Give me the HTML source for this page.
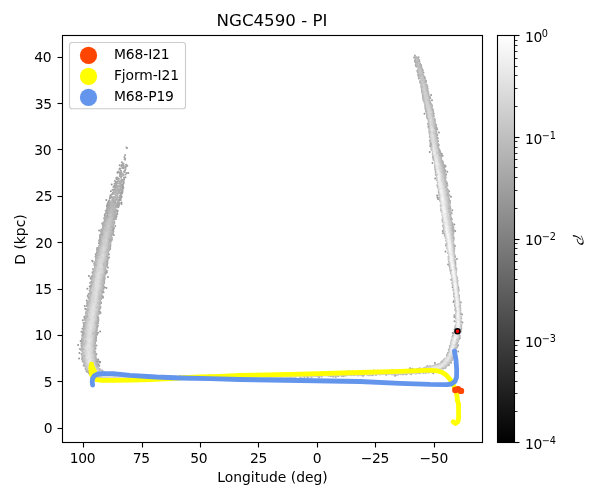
<!DOCTYPE html>
<html><head><meta charset="utf-8"><title>NGC4590 - PI</title>
<style>html,body{margin:0;padding:0;background:#fff;}svg{display:block;}text{font-family:"DejaVu Sans","Liberation Sans",sans-serif;fill:#000;}</style></head><body>
<svg width="600" height="500" viewBox="0 0 600 500">
<defs><linearGradient id="cb" x1="0" y1="1" x2="0" y2="0"><stop offset="0" stop-color="#000"/><stop offset="1" stop-color="#fff"/></linearGradient>
<clipPath id="ax"><rect x="62.5" y="35.5" width="420.0" height="407.0"/></clipPath></defs>
<rect width="600" height="500" fill="#fff"/>
<g clip-path="url(#ax)">
<g><path d="M116.9 192.0 L116.4 197.7 L114.6 197.2 L116.9 192.0Z" fill="#9c9c9c"/><path d="M116.4 197.1 L115.9 202.7 L112.5 201.8 L114.9 196.7Z" fill="#9d9d9d"/><path d="M115.9 202.1 L115.4 207.8 L110.3 206.4 L112.7 201.2Z" fill="#9e9e9e"/><path d="M115.4 207.2 L114.9 212.8 L108.1 211.0 L110.5 205.8Z" fill="#9f9f9f"/><path d="M115.0 212.2 L114.5 217.8 L106.1 215.7 L108.3 210.4Z" fill="#a0a0a0"/><path d="M114.5 217.2 L114.1 222.7 L104.2 220.6 L106.3 215.2Z" fill="#a2a2a2"/><path d="M114.2 222.1 L113.2 227.5 L103.1 225.6 L104.4 220.0Z" fill="#a2a2a2"/><path d="M113.3 226.9 L112.3 232.4 L102.1 230.5 L103.3 225.0Z" fill="#a2a2a2"/><path d="M112.4 231.8 L111.4 237.4 L101.1 235.3 L102.3 229.9Z" fill="#a2a2a2"/><path d="M111.5 236.8 L110.4 242.3 L100.1 240.2 L101.3 234.7Z" fill="#a2a2a2"/><path d="M110.6 241.7 L109.5 247.2 L99.1 245.1 L100.3 239.6Z" fill="#a2a2a2"/><path d="M109.6 246.6 L108.5 252.1 L98.1 250.0 L99.2 244.5Z" fill="#a2a2a2"/><path d="M108.6 251.5 L107.6 257.0 L96.9 254.8 L98.2 249.4Z" fill="#a2a2a2"/><path d="M107.7 256.5 L106.7 261.9 L95.8 259.7 L97.1 254.3Z" fill="#a2a2a2"/><path d="M106.8 261.3 L105.8 266.8 L94.8 264.7 L96.0 259.2Z" fill="#a2a2a2"/><path d="M105.9 266.2 L105.0 271.7 L93.8 269.7 L94.9 264.1Z" fill="#a2a2a2"/><path d="M105.1 271.1 L104.2 276.5 L92.9 274.6 L93.9 269.1Z" fill="#a2a2a2"/><path d="M104.3 275.9 L103.5 281.4 L92.0 279.6 L93.0 274.0Z" fill="#a2a2a2"/><path d="M103.6 280.8 L102.7 286.3 L91.2 284.6 L92.1 279.0Z" fill="#a2a2a2"/><path d="M102.8 285.8 L102.0 291.3 L90.4 289.5 L91.3 284.0Z" fill="#a2a2a2"/><path d="M102.1 290.7 L101.3 296.3 L89.6 294.4 L90.5 288.9Z" fill="#a2a2a2"/><path d="M101.4 295.7 L100.5 301.2 L88.8 299.3 L89.7 293.8Z" fill="#a2a2a2"/><path d="M100.6 300.6 L99.7 306.2 L88.0 304.3 L88.9 298.7Z" fill="#a2a2a2"/><path d="M99.8 305.6 L98.9 311.1 L87.2 309.2 L88.1 303.7Z" fill="#a2a2a2"/><path d="M99.0 310.5 L98.1 316.0 L86.4 314.2 L87.3 308.6Z" fill="#a2a2a2"/><path d="M98.2 315.4 L97.4 320.9 L85.6 319.2 L86.5 313.6Z" fill="#a2a2a2"/><path d="M97.4 320.3 L96.7 325.8 L84.9 324.2 L85.7 318.6Z" fill="#a2a2a2"/><path d="M96.7 325.2 L96.0 330.7 L84.2 329.2 L85.0 323.6Z" fill="#a2a2a2"/><path d="M96.1 330.1 L95.4 335.6 L83.6 334.2 L84.3 328.6Z" fill="#a2a2a2"/><path d="M95.5 335.0 L95.0 340.5 L83.0 339.3 L83.7 333.6Z" fill="#a2a2a2"/><path d="M95.0 339.9 L94.7 345.2 L82.5 344.6 L83.0 338.7Z" fill="#a2a2a2"/><path d="M94.7 344.6 L94.7 349.7 L82.3 350.0 L82.5 343.9Z" fill="#a2a2a2"/><path d="M94.7 349.2 L95.0 354.2 L82.6 355.5 L82.3 349.4Z" fill="#a2a2a2"/><path d="M95.0 353.7 L95.6 358.8 L83.3 360.8 L82.6 354.8Z" fill="#a2a2a2"/><path d="M95.5 358.3 L96.2 362.9 L84.9 366.6 L83.2 360.2Z" fill="#a2a2a2"/><path d="M96.1 362.5 L97.1 365.7 L88.8 372.5 L84.6 365.9Z" fill="#a2a2a2"/><path d="M96.9 365.3 L99.3 368.8 L94.0 376.2 L88.2 371.9Z" fill="#a6a6a6"/><path d="M99.0 368.4 L102.5 371.6 L99.6 378.3 L93.4 375.9Z" fill="#aaaaaa"/><path d="M102.0 371.3 L106.4 373.6 L105.2 379.2 L98.9 378.1Z" fill="#afafaf"/><path d="M105.9 373.4 L111.0 375.0 L110.5 379.3 L104.5 379.1Z" fill="#b2b2b2"/><path d="M110.4 374.9 L115.9 375.7 L115.6 379.5 L109.9 379.3Z" fill="#b4b4b4"/><path d="M115.3 375.6 L120.8 376.0 L120.7 379.6 L115.0 379.5Z" fill="#b4b4b4"/><path d="M120.2 376.0 L125.8 376.2 L125.7 379.7 L120.1 379.6Z" fill="#b4b4b4"/><path d="M125.2 376.1 L130.8 376.3 L130.8 379.6 L125.1 379.7Z" fill="#b4b4b4"/><path d="M130.2 376.2 L135.7 376.3 L135.8 379.5 L130.2 379.6Z" fill="#b4b4b4"/><path d="M135.1 376.3 L140.7 376.3 L140.8 379.5 L135.2 379.5Z" fill="#b4b4b4"/><path d="M140.1 376.3 L145.7 376.3 L145.7 379.4 L140.2 379.5Z" fill="#b4b4b4"/><path d="M145.1 376.3 L150.7 376.3 L150.7 379.4 L145.1 379.4Z" fill="#b4b4b4"/><path d="M150.1 376.3 L155.7 376.3 L155.7 379.4 L150.1 379.4Z" fill="#b4b4b4"/><path d="M155.1 376.3 L160.7 376.3 L160.7 379.3 L155.1 379.4Z" fill="#b4b4b4"/><path d="M160.1 376.3 L165.7 376.4 L165.8 379.3 L160.1 379.3Z" fill="#b4b4b4"/><path d="M165.1 376.4 L170.7 376.4 L170.8 379.3 L165.2 379.3Z" fill="#b4b4b4"/><path d="M170.1 376.4 L175.7 376.4 L175.8 379.2 L170.2 379.3Z" fill="#b4b4b4"/><path d="M175.1 376.4 L180.7 376.3 L180.8 379.2 L175.2 379.3Z" fill="#b4b4b4"/><path d="M180.1 376.3 L185.7 376.3 L185.8 379.2 L180.2 379.2Z" fill="#b4b4b4"/><path d="M185.1 376.3 L190.7 376.2 L190.8 379.1 L185.2 379.2Z" fill="#b4b4b4"/><path d="M190.1 376.2 L195.7 376.2 L195.8 379.1 L190.2 379.1Z" fill="#b4b4b4"/><path d="M195.1 376.2 L200.7 376.1 L200.8 379.0 L195.2 379.1Z" fill="#b4b4b4"/><path d="M200.1 376.1 L205.7 376.1 L205.8 378.9 L200.2 379.0Z" fill="#b4b4b4"/><path d="M205.1 376.1 L210.7 376.0 L210.8 378.9 L205.2 378.9Z" fill="#b4b4b4"/><path d="M210.1 376.0 L215.7 375.9 L215.8 378.8 L210.2 378.9Z" fill="#b4b4b4"/><path d="M215.1 375.9 L220.7 375.8 L220.8 378.7 L215.2 378.8Z" fill="#b4b4b4"/><path d="M220.1 375.8 L225.7 375.7 L225.8 378.6 L220.2 378.7Z" fill="#b4b4b4"/><path d="M225.1 375.7 L230.7 375.6 L230.8 378.5 L225.2 378.6Z" fill="#b4b4b4"/><path d="M230.1 375.6 L235.7 375.5 L235.8 378.4 L230.2 378.5Z" fill="#b4b4b4"/><path d="M235.1 375.5 L240.7 375.4 L240.8 378.3 L235.2 378.4Z" fill="#b4b4b4"/><path d="M240.1 375.5 L245.7 375.3 L245.8 378.2 L240.2 378.3Z" fill="#b4b4b4"/><path d="M245.1 375.3 L250.7 375.2 L250.8 378.2 L245.2 378.3Z" fill="#b4b4b4"/><path d="M250.1 375.2 L255.7 375.1 L255.8 378.1 L250.2 378.2Z" fill="#b4b4b4"/><path d="M255.1 375.1 L260.7 375.0 L260.8 378.0 L255.2 378.1Z" fill="#b4b4b4"/><path d="M260.1 375.0 L265.7 374.9 L265.8 377.9 L260.2 378.0Z" fill="#b4b4b4"/><path d="M265.1 374.9 L270.7 374.7 L270.8 377.8 L265.2 377.9Z" fill="#b4b4b4"/><path d="M270.1 374.7 L275.7 374.6 L275.8 377.7 L270.2 377.8Z" fill="#b4b4b4"/><path d="M275.1 374.6 L280.7 374.5 L280.8 377.5 L275.2 377.7Z" fill="#b4b4b4"/><path d="M280.1 374.5 L285.7 374.3 L285.8 377.4 L280.2 377.6Z" fill="#b4b4b4"/><path d="M285.1 374.3 L290.7 374.1 L290.8 377.3 L285.2 377.4Z" fill="#b4b4b4"/><path d="M290.1 374.2 L295.7 374.0 L295.8 377.1 L290.2 377.3Z" fill="#b4b4b4"/><path d="M295.1 374.0 L300.7 373.8 L300.8 377.0 L295.2 377.1Z" fill="#b4b4b4"/><path d="M300.1 373.8 L305.7 373.6 L305.8 376.8 L300.2 377.0Z" fill="#b4b4b4"/><path d="M305.1 373.6 L310.7 373.4 L310.8 376.6 L305.2 376.8Z" fill="#b4b4b4"/><path d="M310.1 373.4 L315.7 373.1 L315.8 376.5 L310.2 376.7Z" fill="#b4b4b4"/><path d="M315.1 373.2 L320.6 372.9 L320.8 376.3 L315.2 376.5Z" fill="#b4b4b4"/><path d="M320.0 373.0 L325.6 372.7 L325.8 376.1 L320.2 376.3Z" fill="#b4b4b4"/><path d="M325.0 372.7 L330.6 372.5 L330.8 375.9 L325.2 376.1Z" fill="#b4b4b4"/><path d="M330.0 372.5 L335.6 372.3 L335.8 375.8 L330.2 376.0Z" fill="#b4b4b4"/><path d="M335.0 372.3 L340.6 372.1 L340.8 375.6 L335.2 375.8Z" fill="#b4b4b4"/><path d="M340.0 372.1 L345.6 372.0 L345.7 375.5 L340.2 375.6Z" fill="#b4b4b4"/><path d="M345.0 372.0 L350.7 371.8 L350.7 375.4 L345.1 375.5Z" fill="#b4b4b4"/><path d="M350.1 371.8 L355.7 371.7 L355.7 375.3 L350.1 375.4Z" fill="#b4b4b4"/><path d="M355.1 371.7 L360.7 371.5 L360.7 375.2 L355.1 375.3Z" fill="#b4b4b4"/><path d="M360.1 371.5 L365.7 371.4 L365.7 375.1 L360.1 375.2Z" fill="#b4b4b4"/><path d="M365.1 371.4 L370.6 371.3 L370.7 375.0 L365.1 375.1Z" fill="#b4b4b4"/><path d="M370.1 371.3 L375.6 371.1 L375.7 374.9 L370.1 375.0Z" fill="#b4b4b4"/><path d="M375.0 371.1 L380.6 371.0 L380.7 374.8 L375.1 374.9Z" fill="#b4b4b4"/><path d="M380.0 371.0 L385.6 370.8 L385.7 374.7 L380.1 374.8Z" fill="#b3b3b3"/><path d="M385.0 370.8 L390.6 370.6 L390.7 374.6 L385.1 374.7Z" fill="#b1b1b1"/><path d="M390.0 370.7 L395.6 370.5 L395.7 374.4 L390.1 374.6Z" fill="#b0b0b0"/><path d="M395.0 370.5 L400.6 370.2 L400.8 374.2 L395.1 374.4Z" fill="#aeaeae"/><path d="M400.0 370.3 L405.6 370.0 L405.8 374.0 L400.1 374.3Z" fill="#adadad"/><path d="M405.0 370.0 L410.6 369.7 L410.8 373.8 L405.2 374.1Z" fill="#ababab"/><path d="M410.0 369.7 L415.5 369.3 L415.8 373.6 L410.2 373.8Z" fill="#ababab"/><path d="M414.9 369.3 L420.4 368.7 L420.9 373.2 L415.2 373.6Z" fill="#ababab"/><path d="M419.8 368.8 L425.1 367.8 L426.0 372.6 L420.3 373.3Z" fill="#ababab"/><path d="M424.6 368.0 L429.9 366.6 L431.1 371.8 L425.4 372.7Z" fill="#ababab"/><path d="M429.3 366.8 L434.6 365.3 L436.1 370.7 L430.5 371.9Z" fill="#ababab"/><path d="M434.1 365.4 L438.9 363.6 L441.3 369.2 L435.5 370.9Z" fill="#ababab"/><path d="M438.4 363.9 L442.6 361.4 L446.3 366.5 L440.6 369.4Z" fill="#ababab"/><path d="M442.2 361.7 L445.5 358.5 L450.6 362.5 L445.7 366.9Z" fill="#ababab"/><path d="M445.2 358.9 L447.7 354.8 L453.6 357.6 L450.1 363.0Z" fill="#ababab"/><path d="M447.5 355.3 L449.3 350.6 L455.6 352.4 L453.3 358.2Z" fill="#ababab"/><path d="M449.1 351.2 L450.4 346.0 L456.6 347.2 L455.4 353.0Z" fill="#ababab"/><path d="M450.3 346.6 L451.5 341.0 L457.5 342.5 L456.5 347.8Z" fill="#a9a9a9"/><path d="M451.4 341.6 L453.2 336.0 L458.8 337.9 L457.4 343.0Z" fill="#a7a7a7"/><path d="M453.0 336.6 L454.7 331.5 L460.2 332.8 L458.6 338.5Z" fill="#a7a7a7"/><path d="M454.6 332.1 L455.7 327.0 L461.0 327.5 L460.1 333.5Z" fill="#a8a8a8"/><path d="M455.6 327.5 L456.0 322.3 L461.1 322.2 L460.9 328.2Z" fill="#aaaaaa"/><path d="M456.0 322.8 L456.0 317.4 L460.8 317.1 L461.1 322.9Z" fill="#aaaaaa"/><path d="M456.0 318.0 L455.8 312.4 L460.4 312.1 L460.8 317.7Z" fill="#aaaaaa"/><path d="M455.8 313.0 L455.5 307.4 L460.0 307.1 L460.4 312.7Z" fill="#aaaaaa"/><path d="M455.6 308.0 L455.2 302.5 L459.5 302.1 L460.0 307.7Z" fill="#aaaaaa"/><path d="M455.2 303.1 L454.6 297.6 L459.0 297.1 L459.6 302.7Z" fill="#aaaaaa"/><path d="M454.7 298.2 L454.1 292.6 L458.4 292.1 L459.1 297.7Z" fill="#aaaaaa"/><path d="M454.1 293.2 L453.4 287.7 L457.9 287.1 L458.5 292.7Z" fill="#aaaaaa"/><path d="M453.5 288.3 L452.7 282.7 L457.3 282.1 L457.9 287.7Z" fill="#aaaaaa"/><path d="M452.8 283.3 L452.0 277.8 L456.8 277.1 L457.4 282.7Z" fill="#aaaaaa"/><path d="M452.0 278.4 L451.1 272.8 L456.3 272.2 L456.8 277.7Z" fill="#aaaaaa"/><path d="M451.2 273.4 L450.3 267.9 L455.8 267.2 L456.4 272.8Z" fill="#aaaaaa"/><path d="M450.4 268.5 L449.5 263.0 L455.3 262.2 L455.9 267.8Z" fill="#aaaaaa"/><path d="M449.6 263.6 L448.8 258.0 L454.8 257.3 L455.4 262.8Z" fill="#aaaaaa"/><path d="M448.9 258.6 L448.0 253.0 L454.3 252.3 L454.9 257.8Z" fill="#aaaaaa"/><path d="M448.1 253.6 L447.3 248.1 L453.9 247.3 L454.4 252.9Z" fill="#aaaaaa"/><path d="M447.4 248.7 L446.7 243.1 L453.5 242.4 L453.9 247.9Z" fill="#aaaaaa"/><path d="M446.8 243.7 L445.9 238.1 L453.3 237.4 L453.5 243.0Z" fill="#a9a9a9"/><path d="M446.0 238.7 L445.1 233.2 L453.1 232.4 L453.3 238.0Z" fill="#a8a8a8"/><path d="M445.2 233.8 L444.3 228.3 L452.8 227.3 L453.2 233.0Z" fill="#a7a7a7"/><path d="M444.4 228.9 L443.6 223.4 L452.2 222.3 L452.9 227.9Z" fill="#a7a7a7"/><path d="M443.7 224.0 L442.8 218.5 L451.6 217.3 L452.2 222.9Z" fill="#a7a7a7"/><path d="M442.9 219.1 L442.2 213.5 L450.9 212.4 L451.6 217.9Z" fill="#a7a7a7"/><path d="M442.3 214.1 L441.6 208.5 L450.3 207.4 L451.0 213.0Z" fill="#a7a7a7"/><path d="M441.6 209.1 L441.0 203.6 L449.7 202.5 L450.4 208.0Z" fill="#a7a7a7"/><path d="M441.0 204.2 L440.3 198.7 L449.0 197.4 L449.8 203.1Z" fill="#a7a7a7"/><path d="M440.4 199.3 L439.5 193.9 L448.2 192.4 L449.1 198.0Z" fill="#a7a7a7"/><path d="M439.6 194.5 L438.7 189.0 L447.1 187.4 L448.3 193.0Z" fill="#a7a7a7"/><path d="M438.8 189.6 L437.9 184.0 L446.2 182.6 L447.3 188.0Z" fill="#a7a7a7"/><path d="M438.0 184.6 L437.2 178.9 L445.3 177.8 L446.3 183.2Z" fill="#a7a7a7"/><path d="M437.2 179.5 L436.5 174.0 L444.6 172.8 L445.4 178.4Z" fill="#a6a6a6"/><path d="M436.6 174.6 L435.8 169.2 L443.6 167.7 L444.7 173.4Z" fill="#a6a6a6"/><path d="M435.9 169.8 L434.9 164.5 L442.4 162.7 L443.8 168.3Z" fill="#a6a6a6"/><path d="M435.0 165.1 L433.8 159.6 L441.1 157.8 L442.6 163.3Z" fill="#a5a5a5"/><path d="M434.0 160.2 L432.8 154.7 L439.8 153.1 L441.2 158.4Z" fill="#a5a5a5"/><path d="M432.9 155.3 L431.9 149.6 L438.7 148.3 L440.0 153.6Z" fill="#a5a5a5"/><path d="M432.0 150.2 L431.1 144.5 L437.9 143.5 L438.9 148.9Z" fill="#a4a4a4"/><path d="M431.2 145.1 L430.5 139.5 L437.3 138.6 L438.0 144.1Z" fill="#a4a4a4"/><path d="M430.6 140.1 L429.9 134.5 L436.6 133.7 L437.3 139.2Z" fill="#a4a4a4"/><path d="M430.0 135.1 L429.4 129.6 L436.0 128.7 L436.7 134.3Z" fill="#a4a4a4"/><path d="M429.4 130.2 L428.7 124.7 L435.2 123.7 L436.1 129.3Z" fill="#a4a4a4"/><path d="M428.8 125.3 L428.0 119.8 L434.4 118.7 L435.3 124.3Z" fill="#a4a4a4"/><path d="M428.1 120.4 L427.1 115.0 L433.3 113.7 L434.5 119.3Z" fill="#a4a4a4"/><path d="M427.2 115.6 L426.1 110.2 L432.2 108.8 L433.5 114.3Z" fill="#a4a4a4"/><path d="M426.2 110.7 L425.0 105.3 L431.1 103.9 L432.4 109.4Z" fill="#a4a4a4"/><path d="M425.1 105.9 L424.0 100.4 L429.9 99.0 L431.2 104.5Z" fill="#a4a4a4"/><path d="M424.1 101.0 L423.2 95.4 L428.5 94.2 L430.0 99.6Z" fill="#a4a4a4"/><path d="M423.3 96.0 L422.7 90.4 L426.9 89.5 L428.7 94.8Z" fill="#a4a4a4"/><path d="M422.8 91.0 L422.1 85.4 L425.3 84.7 L427.1 90.0Z" fill="#a4a4a4"/><path d="M422.2 86.0 L421.4 80.5 L423.6 79.9 L425.5 85.2Z" fill="#a4a4a4"/><path d="M421.5 81.1 L420.6 75.5 L421.9 75.2 L423.9 80.5Z" fill="#a4a4a4"/><path d="M420.7 76.1 L419.7 70.6 L420.1 70.5 L422.1 75.7Z" fill="#a4a4a4"/><path d="M419.8 71.2 L418.6 65.7 L418.6 65.7 L420.3 71.1Z" fill="#a4a4a4"/><path d="M115.4 197.8 L114.5 203.4 L113.3 203.1 L115.4 197.8Z" fill="#a6a6a6"/><path d="M114.6 202.8 L113.7 208.4 L111.4 207.7 L113.5 202.5Z" fill="#a8a8a8"/><path d="M113.8 207.8 L112.9 213.3 L109.5 212.4 L111.6 207.2Z" fill="#aaaaaa"/><path d="M113.0 212.7 L112.2 218.2 L107.8 217.2 L109.8 211.9Z" fill="#acacac"/><path d="M112.3 217.7 L111.7 223.2 L106.2 222.0 L108.0 216.6Z" fill="#aeaeae"/><path d="M111.8 222.6 L111.3 228.1 L104.7 226.9 L106.4 221.4Z" fill="#b0b0b0"/><path d="M111.4 227.6 L110.4 233.1 L103.7 231.8 L104.8 226.3Z" fill="#b2b2b2"/><path d="M110.5 232.5 L109.4 238.0 L102.7 236.7 L103.8 231.2Z" fill="#b3b3b3"/><path d="M109.6 237.4 L108.5 242.9 L101.7 241.5 L102.8 236.1Z" fill="#b4b4b4"/><path d="M108.6 242.3 L107.5 247.8 L100.7 246.4 L101.8 241.0Z" fill="#b5b5b5"/><path d="M107.6 247.2 L106.5 252.7 L99.6 251.3 L100.8 245.8Z" fill="#b6b6b6"/><path d="M106.6 252.2 L105.6 257.6 L98.6 256.2 L99.8 250.7Z" fill="#b7b7b7"/><path d="M105.7 257.1 L104.6 262.5 L97.5 261.1 L98.7 255.6Z" fill="#b8b8b8"/><path d="M104.8 262.0 L103.8 267.4 L96.5 266.0 L97.6 260.5Z" fill="#b9b9b9"/><path d="M103.9 266.8 L102.9 272.3 L95.5 271.0 L96.6 265.4Z" fill="#bababa"/><path d="M103.0 271.7 L102.1 277.2 L94.6 276.0 L95.6 270.4Z" fill="#bababa"/><path d="M102.2 276.6 L101.4 282.1 L93.8 280.9 L94.7 275.4Z" fill="#bababa"/><path d="M101.4 281.5 L100.6 287.0 L93.0 285.9 L93.9 280.3Z" fill="#bbbbbb"/><path d="M100.7 286.4 L99.9 292.0 L92.2 290.8 L93.1 285.3Z" fill="#bbbbbb"/><path d="M100.0 291.4 L99.1 297.0 L91.4 295.7 L92.3 290.2Z" fill="#bbbbbb"/><path d="M99.2 296.4 L98.3 301.9 L90.6 300.6 L91.5 295.1Z" fill="#bbbbbb"/><path d="M98.4 301.3 L97.5 306.8 L89.8 305.6 L90.7 300.1Z" fill="#bbbbbb"/><path d="M97.6 306.3 L96.7 311.8 L89.0 310.5 L89.9 305.0Z" fill="#bcbcbc"/><path d="M96.8 311.2 L95.9 316.7 L88.2 315.5 L89.1 309.9Z" fill="#bcbcbc"/><path d="M96.0 316.1 L95.2 321.6 L87.5 320.5 L88.3 314.9Z" fill="#bcbcbc"/><path d="M95.3 321.0 L94.5 326.5 L86.8 325.4 L87.6 319.9Z" fill="#bcbcbc"/><path d="M94.6 325.9 L93.9 331.4 L86.1 330.4 L86.9 324.8Z" fill="#bcbcbc"/><path d="M93.9 330.8 L93.3 336.4 L85.5 335.4 L86.2 329.8Z" fill="#bcbcbc"/><path d="M93.3 335.8 L92.8 341.2 L84.9 340.5 L85.6 334.8Z" fill="#bcbcbc"/><path d="M92.9 340.7 L92.6 346.0 L84.5 345.7 L85.0 339.9Z" fill="#bdbdbd"/><path d="M92.6 345.5 L92.6 350.7 L84.4 351.0 L84.5 345.1Z" fill="#bdbdbd"/><path d="M92.6 350.1 L93.0 355.4 L84.8 356.3 L84.4 350.4Z" fill="#bdbdbd"/><path d="M92.9 354.8 L93.6 360.1 L85.6 361.5 L84.8 355.7Z" fill="#bdbdbd"/><path d="M93.6 359.6 L94.5 364.3 L87.3 367.1 L85.5 360.9Z" fill="#bdbdbd"/><path d="M94.3 363.8 L96.1 367.5 L91.1 372.2 L87.0 366.4Z" fill="#bdbdbd"/><path d="M95.8 367.1 L99.1 370.6 L95.9 375.5 L90.5 371.7Z" fill="#bdbdbd"/><path d="M98.7 370.3 L102.8 373.2 L101.2 377.4 L95.3 375.2Z" fill="#bebebe"/><path d="M102.3 372.9 L107.1 374.9 L106.4 378.4 L100.5 377.3Z" fill="#c0c0c0"/><path d="M106.6 374.7 L111.9 376.0 L111.6 378.6 L105.8 378.3Z" fill="#c2c2c2"/><path d="M111.3 375.8 L116.8 376.4 L116.7 378.9 L111.0 378.6Z" fill="#c3c3c3"/><path d="M116.2 376.4 L121.8 376.7 L121.7 379.0 L116.1 378.9Z" fill="#c3c3c3"/><path d="M121.2 376.6 L126.8 376.8 L126.8 379.1 L121.1 379.0Z" fill="#c3c3c3"/><path d="M126.2 376.8 L131.8 376.8 L131.8 379.0 L126.2 379.1Z" fill="#c3c3c3"/><path d="M131.2 376.8 L136.7 376.8 L136.8 378.9 L131.2 379.0Z" fill="#c4c4c4"/><path d="M136.1 376.8 L141.7 376.8 L141.8 378.9 L136.2 378.9Z" fill="#c4c4c4"/><path d="M141.1 376.8 L146.7 376.8 L146.7 378.9 L141.2 378.9Z" fill="#c4c4c4"/><path d="M146.1 376.8 L151.7 376.8 L151.7 378.9 L146.1 378.9Z" fill="#c4c4c4"/><path d="M151.1 376.8 L156.7 376.9 L156.7 378.8 L151.1 378.9Z" fill="#c4c4c4"/><path d="M156.1 376.9 L161.7 376.9 L161.7 378.8 L156.1 378.8Z" fill="#c4c4c4"/><path d="M161.1 376.9 L166.7 376.9 L166.8 378.8 L161.1 378.8Z" fill="#c5c5c5"/><path d="M166.1 376.9 L171.7 376.9 L171.8 378.8 L166.2 378.8Z" fill="#c5c5c5"/><path d="M171.1 376.9 L176.7 376.8 L176.8 378.7 L171.2 378.8Z" fill="#c5c5c5"/><path d="M176.1 376.8 L181.7 376.8 L181.8 378.7 L176.2 378.7Z" fill="#c5c5c5"/><path d="M181.1 376.8 L186.7 376.8 L186.8 378.7 L181.2 378.7Z" fill="#c5c5c5"/><path d="M186.1 376.8 L191.7 376.7 L191.8 378.6 L186.2 378.7Z" fill="#c5c5c5"/><path d="M191.1 376.7 L196.7 376.7 L196.8 378.6 L191.2 378.6Z" fill="#c5c5c5"/><path d="M196.1 376.7 L201.7 376.6 L201.8 378.5 L196.2 378.6Z" fill="#c5c5c5"/><path d="M201.1 376.6 L206.7 376.5 L206.8 378.4 L201.2 378.5Z" fill="#c5c5c5"/><path d="M206.1 376.5 L211.7 376.5 L211.8 378.4 L206.2 378.4Z" fill="#c5c5c5"/><path d="M211.1 376.5 L216.7 376.4 L216.8 378.3 L211.2 378.4Z" fill="#c6c6c6"/><path d="M216.1 376.4 L221.7 376.3 L221.8 378.2 L216.2 378.3Z" fill="#c6c6c6"/><path d="M221.1 376.3 L226.7 376.2 L226.8 378.1 L221.2 378.2Z" fill="#c6c6c6"/><path d="M226.1 376.2 L231.7 376.1 L231.8 378.0 L226.2 378.1Z" fill="#c6c6c6"/><path d="M231.1 376.1 L236.7 376.0 L236.8 377.9 L231.2 378.0Z" fill="#c6c6c6"/><path d="M236.1 376.0 L241.7 375.9 L241.8 377.8 L236.2 377.9Z" fill="#c6c6c6"/><path d="M241.1 375.9 L246.7 375.8 L246.8 377.7 L241.2 377.8Z" fill="#c6c6c6"/><path d="M246.1 375.8 L251.7 375.7 L251.8 377.6 L246.2 377.7Z" fill="#c6c6c6"/><path d="M251.1 375.7 L256.7 375.6 L256.8 377.5 L251.2 377.7Z" fill="#c6c6c6"/><path d="M256.1 375.6 L261.7 375.5 L261.8 377.4 L256.2 377.6Z" fill="#c6c6c6"/><path d="M261.1 375.5 L266.7 375.4 L266.8 377.3 L261.2 377.5Z" fill="#c6c6c6"/><path d="M266.1 375.4 L271.7 375.2 L271.8 377.2 L266.2 377.4Z" fill="#c7c7c7"/><path d="M271.1 375.2 L276.7 375.1 L276.8 377.1 L271.2 377.2Z" fill="#c7c7c7"/><path d="M276.1 375.1 L281.7 375.0 L281.8 377.0 L276.2 377.1Z" fill="#c7c7c7"/><path d="M281.1 375.0 L286.7 374.8 L286.8 376.9 L281.2 377.0Z" fill="#c7c7c7"/><path d="M286.1 374.8 L291.7 374.6 L291.8 376.7 L286.2 376.9Z" fill="#c7c7c7"/><path d="M291.1 374.7 L296.7 374.5 L296.8 376.6 L291.2 376.7Z" fill="#c7c7c7"/><path d="M296.1 374.5 L301.7 374.3 L301.8 376.4 L296.2 376.6Z" fill="#c7c7c7"/><path d="M301.1 374.3 L306.7 374.1 L306.8 376.2 L301.2 376.4Z" fill="#c7c7c7"/><path d="M306.1 374.1 L311.7 373.9 L311.8 376.0 L306.2 376.2Z" fill="#c7c7c7"/><path d="M311.1 373.9 L316.7 373.7 L316.8 375.9 L311.2 376.1Z" fill="#c7c7c7"/><path d="M316.1 373.7 L321.7 373.5 L321.8 375.7 L316.2 375.9Z" fill="#c7c7c7"/><path d="M321.1 373.5 L326.7 373.3 L326.8 375.5 L321.2 375.7Z" fill="#c7c7c7"/><path d="M326.1 373.3 L331.7 373.1 L331.7 375.3 L326.2 375.5Z" fill="#c7c7c7"/><path d="M331.1 373.1 L336.7 372.9 L336.7 375.1 L331.1 375.3Z" fill="#c7c7c7"/><path d="M336.1 372.9 L341.7 372.7 L341.7 375.0 L336.1 375.2Z" fill="#c7c7c7"/><path d="M341.1 372.7 L346.7 372.5 L346.7 374.9 L341.1 375.0Z" fill="#c7c7c7"/><path d="M346.1 372.6 L351.7 372.4 L351.7 374.7 L346.1 374.9Z" fill="#c7c7c7"/><path d="M351.1 372.4 L356.7 372.3 L356.7 374.6 L351.1 374.8Z" fill="#c7c7c7"/><path d="M356.1 372.3 L361.7 372.1 L361.7 374.5 L356.1 374.7Z" fill="#c7c7c7"/><path d="M361.1 372.1 L366.7 372.0 L366.7 374.4 L361.1 374.5Z" fill="#c7c7c7"/><path d="M366.1 372.0 L371.7 371.9 L371.7 374.3 L366.1 374.4Z" fill="#c7c7c7"/><path d="M371.1 371.9 L376.7 371.7 L376.7 374.2 L371.1 374.3Z" fill="#c7c7c7"/><path d="M376.1 371.8 L381.7 371.6 L381.7 374.1 L376.1 374.2Z" fill="#c7c7c7"/><path d="M381.1 371.6 L386.6 371.4 L386.7 374.0 L381.1 374.1Z" fill="#c7c7c7"/><path d="M386.0 371.5 L391.6 371.3 L391.7 373.9 L386.1 374.0Z" fill="#c6c6c6"/><path d="M391.0 371.3 L396.6 371.1 L396.7 373.7 L391.1 373.9Z" fill="#c5c5c5"/><path d="M396.0 371.1 L401.6 370.9 L401.7 373.5 L396.1 373.7Z" fill="#c5c5c5"/><path d="M401.0 370.9 L406.6 370.6 L406.7 373.3 L401.1 373.5Z" fill="#c4c4c4"/><path d="M406.0 370.7 L411.6 370.3 L411.7 373.1 L406.1 373.3Z" fill="#c4c4c4"/><path d="M411.0 370.4 L416.5 369.9 L416.8 372.8 L411.1 373.1Z" fill="#c4c4c4"/><path d="M416.0 370.0 L421.4 369.3 L421.8 372.3 L416.2 372.8Z" fill="#c4c4c4"/><path d="M420.9 369.4 L426.3 368.5 L426.9 371.6 L421.2 372.4Z" fill="#c5c5c5"/><path d="M425.7 368.6 L431.0 367.3 L431.9 370.7 L426.3 371.7Z" fill="#c5c5c5"/><path d="M430.5 367.4 L435.8 365.9 L436.8 369.5 L431.3 370.8Z" fill="#c4c4c4"/><path d="M435.2 366.1 L440.1 364.2 L441.9 367.8 L436.2 369.7Z" fill="#c4c4c4"/><path d="M439.6 364.4 L443.6 361.4 L446.3 364.6 L441.3 368.1Z" fill="#c4c4c4"/><path d="M443.3 361.7 L446.4 358.1 L449.9 360.5 L445.8 365.0Z" fill="#c5c5c5"/><path d="M446.1 358.5 L448.5 354.2 L452.5 355.9 L449.5 361.1Z" fill="#c5c5c5"/><path d="M448.3 354.7 L450.0 349.9 L454.1 350.9 L452.2 356.5Z" fill="#c5c5c5"/><path d="M449.8 350.4 L451.2 345.2 L455.3 345.9 L454.0 351.5Z" fill="#c6c6c6"/><path d="M451.0 345.7 L452.5 340.2 L456.4 341.2 L455.1 346.5Z" fill="#c7c7c7"/><path d="M452.3 340.8 L454.3 335.3 L458.0 336.6 L456.3 341.8Z" fill="#c7c7c7"/><path d="M454.1 335.9 L455.7 330.8 L459.3 331.6 L457.8 337.2Z" fill="#c8c8c8"/><path d="M455.6 331.3 L456.5 326.1 L460.0 326.4 L459.2 332.2Z" fill="#c9c9c9"/><path d="M456.5 326.7 L456.7 321.3 L460.0 321.2 L459.9 327.0Z" fill="#cacaca"/><path d="M456.7 321.9 L456.6 316.3 L459.7 316.2 L460.0 321.8Z" fill="#cacaca"/><path d="M456.6 316.9 L456.4 311.4 L459.4 311.2 L459.8 316.8Z" fill="#cacaca"/><path d="M456.4 312.0 L456.1 306.4 L459.0 306.2 L459.4 311.8Z" fill="#cacaca"/><path d="M456.1 307.0 L455.7 301.4 L458.5 301.2 L459.1 306.8Z" fill="#cacaca"/><path d="M455.7 302.0 L455.1 296.5 L458.0 296.2 L458.6 301.8Z" fill="#cacaca"/><path d="M455.2 297.1 L454.5 291.5 L457.4 291.2 L458.1 296.8Z" fill="#cacaca"/><path d="M454.6 292.1 L453.9 286.6 L456.8 286.2 L457.5 291.8Z" fill="#cacaca"/><path d="M454.0 287.2 L453.2 281.6 L456.3 281.3 L456.9 286.8Z" fill="#cacaca"/><path d="M453.3 282.2 L452.4 276.7 L455.7 276.3 L456.3 281.9Z" fill="#cbcbcb"/><path d="M452.5 277.3 L451.7 271.8 L455.1 271.3 L455.7 276.9Z" fill="#cbcbcb"/><path d="M451.7 272.4 L450.8 266.8 L454.5 266.4 L455.2 271.9Z" fill="#cbcbcb"/><path d="M450.9 267.4 L450.1 261.9 L453.9 261.4 L454.6 266.9Z" fill="#cbcbcb"/><path d="M450.1 262.5 L449.3 256.9 L453.3 256.4 L454.0 262.0Z" fill="#cbcbcb"/><path d="M449.4 257.5 L448.5 252.0 L452.7 251.5 L453.4 257.0Z" fill="#cbcbcb"/><path d="M448.6 252.6 L447.8 247.0 L452.2 246.5 L452.8 252.1Z" fill="#cbcbcb"/><path d="M447.9 247.6 L447.2 242.0 L451.7 241.6 L452.2 247.1Z" fill="#cbcbcb"/><path d="M447.2 242.6 L446.3 237.1 L451.3 236.6 L451.7 242.2Z" fill="#cacaca"/><path d="M446.4 237.7 L445.4 232.2 L450.8 231.6 L451.3 237.2Z" fill="#c9c9c9"/><path d="M445.5 232.8 L444.6 227.3 L450.2 226.6 L450.9 232.2Z" fill="#c8c8c8"/><path d="M444.7 227.9 L443.8 222.4 L449.5 221.6 L450.3 227.2Z" fill="#c8c8c8"/><path d="M443.9 223.0 L443.0 217.4 L448.8 216.7 L449.6 222.2Z" fill="#c8c8c8"/><path d="M443.1 218.0 L442.4 212.4 L448.2 211.7 L448.9 217.3Z" fill="#c8c8c8"/><path d="M442.5 213.0 L441.8 207.5 L447.5 206.8 L448.2 212.3Z" fill="#c8c8c8"/><path d="M441.9 208.1 L441.2 202.6 L446.9 201.8 L447.6 207.4Z" fill="#c8c8c8"/><path d="M441.2 203.1 L440.5 197.7 L446.2 196.8 L447.0 202.4Z" fill="#c8c8c8"/><path d="M440.6 198.3 L439.7 192.9 L445.4 191.8 L446.3 197.4Z" fill="#c8c8c8"/><path d="M439.8 193.4 L438.9 188.0 L444.4 186.9 L445.5 192.4Z" fill="#c8c8c8"/><path d="M439.0 188.6 L438.0 182.9 L443.5 182.0 L444.5 187.5Z" fill="#c7c7c7"/><path d="M438.1 183.5 L437.4 177.9 L442.7 177.1 L443.6 182.6Z" fill="#c7c7c7"/><path d="M437.4 178.5 L436.7 173.0 L442.0 172.2 L442.8 177.7Z" fill="#c6c6c6"/><path d="M436.8 173.6 L436.0 168.2 L441.1 167.2 L442.1 172.8Z" fill="#c5c5c5"/><path d="M436.1 168.8 L435.1 163.4 L440.0 162.2 L441.2 167.8Z" fill="#c4c4c4"/><path d="M435.2 164.0 L434.1 158.5 L438.8 157.4 L440.1 162.8Z" fill="#c3c3c3"/><path d="M434.2 159.1 L433.1 153.5 L437.7 152.5 L438.9 158.0Z" fill="#c2c2c2"/><path d="M433.2 154.1 L432.2 148.5 L436.7 147.7 L437.8 153.1Z" fill="#c1c1c1"/><path d="M432.3 149.1 L431.6 143.4 L436.0 142.8 L436.8 148.3Z" fill="#c0c0c0"/><path d="M431.6 144.0 L431.0 138.4 L435.4 137.9 L436.1 143.4Z" fill="#bebebe"/><path d="M431.1 139.0 L430.4 133.4 L434.8 132.9 L435.5 138.5Z" fill="#bdbdbd"/><path d="M430.5 134.0 L429.9 128.5 L434.2 127.9 L434.9 133.5Z" fill="#bdbdbd"/><path d="M430.0 129.1 L429.2 123.6 L433.5 122.9 L434.3 128.5Z" fill="#bcbcbc"/><path d="M429.3 124.2 L428.5 118.7 L432.7 118.0 L433.6 123.5Z" fill="#bbbbbb"/><path d="M428.6 119.3 L427.6 113.9 L431.7 113.0 L432.8 118.5Z" fill="#bbbbbb"/><path d="M427.7 114.5 L426.6 109.0 L430.6 108.1 L431.8 113.6Z" fill="#bababa"/><path d="M426.7 109.6 L425.5 104.1 L429.5 103.2 L430.7 108.7Z" fill="#b9b9b9"/><path d="M425.6 104.7 L424.6 99.2 L428.2 98.4 L429.6 103.8Z" fill="#b8b8b8"/><path d="M424.7 99.8 L424.0 94.2 L426.8 93.6 L428.4 99.0Z" fill="#b7b7b7"/><path d="M424.1 94.8 L423.3 89.2 L425.5 88.8 L427.0 94.2Z" fill="#b6b6b6"/><path d="M423.4 89.8 L422.6 84.3 L424.1 83.9 L425.6 89.3Z" fill="#b5b5b5"/><path d="M422.7 84.9 L421.7 79.4 L422.6 79.1 L424.2 84.5Z" fill="#b4b4b4"/><path d="M421.8 80.0 L420.7 74.5 L421.0 74.4 L422.8 79.7Z" fill="#b2b2b2"/><path d="M420.9 75.1 L419.6 69.6 L419.6 69.6 L421.2 75.0Z" fill="#b1b1b1"/><path d="M113.8 203.6 L112.6 209.1 L112.0 208.9 L113.8 203.6Z" fill="#b3b3b3"/><path d="M112.7 208.5 L111.6 214.0 L110.4 213.7 L112.2 208.3Z" fill="#b5b5b5"/><path d="M111.7 213.4 L110.7 218.9 L108.9 218.5 L110.6 213.1Z" fill="#b9b9b9"/><path d="M110.8 218.3 L109.9 223.8 L107.6 223.3 L109.1 217.9Z" fill="#bcbcbc"/><path d="M110.0 223.2 L109.3 228.8 L106.3 228.2 L107.7 222.8Z" fill="#bfbfbf"/><path d="M109.3 228.2 L108.6 233.7 L105.1 233.1 L106.5 227.6Z" fill="#c3c3c3"/><path d="M108.7 233.2 L107.6 238.7 L104.1 238.0 L105.2 232.5Z" fill="#c5c5c5"/><path d="M107.7 238.1 L106.7 243.6 L103.1 242.9 L104.2 237.4Z" fill="#c7c7c7"/><path d="M106.8 243.0 L105.7 248.5 L102.1 247.7 L103.2 242.3Z" fill="#c9c9c9"/><path d="M105.8 247.9 L104.7 253.4 L101.1 252.6 L102.2 247.2Z" fill="#cbcbcb"/><path d="M104.8 252.8 L103.7 258.3 L100.0 257.5 L101.2 252.0Z" fill="#cdcdcd"/><path d="M103.8 257.7 L102.7 263.2 L99.0 262.4 L100.2 256.9Z" fill="#cfcfcf"/><path d="M102.9 262.6 L101.8 268.1 L98.0 267.4 L99.1 261.8Z" fill="#d0d0d0"/><path d="M101.9 267.5 L101.0 273.0 L97.1 272.3 L98.1 266.8Z" fill="#d2d2d2"/><path d="M101.1 272.4 L100.2 277.9 L96.3 277.2 L97.2 271.7Z" fill="#d2d2d2"/><path d="M100.3 277.3 L99.4 282.8 L95.5 282.2 L96.4 276.7Z" fill="#d3d3d3"/><path d="M99.5 282.2 L98.6 287.7 L94.7 287.1 L95.6 281.6Z" fill="#d3d3d3"/><path d="M98.7 287.2 L97.9 292.7 L93.9 292.1 L94.8 286.5Z" fill="#d4d4d4"/><path d="M98.0 292.1 L97.1 297.6 L93.1 297.0 L94.0 291.5Z" fill="#d4d4d4"/><path d="M97.2 297.1 L96.3 302.6 L92.3 301.9 L93.2 296.4Z" fill="#d5d5d5"/><path d="M96.4 302.0 L95.5 307.5 L91.5 306.9 L92.4 301.3Z" fill="#d5d5d5"/><path d="M95.6 306.9 L94.7 312.5 L90.7 311.8 L91.6 306.3Z" fill="#d6d6d6"/><path d="M94.8 311.9 L93.9 317.4 L89.9 316.8 L90.8 311.2Z" fill="#d6d6d6"/><path d="M94.0 316.8 L93.2 322.3 L89.2 321.7 L90.0 316.2Z" fill="#d6d6d6"/><path d="M93.3 321.7 L92.5 327.2 L88.5 326.7 L89.3 321.1Z" fill="#d7d7d7"/><path d="M92.6 326.6 L91.9 332.2 L87.9 331.7 L88.6 326.1Z" fill="#d7d7d7"/><path d="M92.0 331.6 L91.3 337.1 L87.3 336.7 L87.9 331.1Z" fill="#d7d7d7"/><path d="M91.4 336.5 L90.8 342.1 L86.7 341.7 L87.3 336.1Z" fill="#d7d7d7"/><path d="M90.9 341.5 L90.6 346.9 L86.4 346.8 L86.8 341.1Z" fill="#d8d8d8"/><path d="M90.6 346.4 L90.7 351.7 L86.4 352.0 L86.4 346.2Z" fill="#d9d9d9"/><path d="M90.7 351.2 L91.2 356.6 L86.9 357.1 L86.4 351.4Z" fill="#d9d9d9"/><path d="M91.1 356.0 L91.9 361.4 L87.8 362.2 L86.9 356.5Z" fill="#d9d9d9"/><path d="M91.8 360.9 L93.1 365.7 L89.5 367.5 L87.6 361.6Z" fill="#d9d9d9"/><path d="M92.9 365.3 L95.5 369.3 L93.1 371.8 L89.2 366.9Z" fill="#d7d7d7"/><path d="M95.1 368.9 L99.1 372.3 L97.6 374.8 L92.6 371.4Z" fill="#d3d3d3"/><path d="M98.6 372.0 L103.3 374.6 L102.6 376.7 L97.1 374.5Z" fill="#d2d2d2"/><path d="M102.7 374.4 L107.9 375.9 L107.6 377.7 L102.0 376.5Z" fill="#d1d1d1"/><path d="M107.3 375.8 L112.8 376.7 L112.7 378.0 L107.0 377.6Z" fill="#d2d2d2"/><path d="M112.2 376.6 L117.8 377.1 L117.7 378.3 L112.1 378.0Z" fill="#d2d2d2"/><path d="M117.2 377.0 L122.8 377.3 L122.8 378.5 L117.1 378.3Z" fill="#d3d3d3"/><path d="M122.2 377.2 L127.8 377.3 L127.8 378.5 L122.2 378.5Z" fill="#d3d3d3"/><path d="M127.2 377.3 L132.8 377.4 L132.8 378.5 L127.2 378.5Z" fill="#d4d4d4"/><path d="M132.2 377.4 L137.7 377.3 L137.8 378.4 L132.2 378.5Z" fill="#d4d4d4"/><path d="M137.1 377.3 L142.7 377.3 L142.7 378.4 L137.2 378.4Z" fill="#d4d4d4"/><path d="M142.1 377.3 L147.7 377.3 L147.7 378.4 L142.1 378.4Z" fill="#d5d5d5"/><path d="M147.1 377.3 L152.7 377.3 L152.7 378.4 L147.1 378.4Z" fill="#d5d5d5"/><path d="M152.1 377.3 L157.7 377.3 L157.7 378.4 L152.1 378.4Z" fill="#d5d5d5"/><path d="M157.1 377.3 L162.7 377.3 L162.7 378.4 L157.1 378.4Z" fill="#d6d6d6"/><path d="M162.1 377.3 L167.7 377.3 L167.8 378.3 L162.1 378.4Z" fill="#d6d6d6"/><path d="M167.1 377.3 L172.7 377.3 L172.8 378.3 L167.2 378.3Z" fill="#d6d6d6"/><path d="M172.1 377.3 L177.8 377.3 L177.8 378.3 L172.2 378.3Z" fill="#d6d6d6"/><path d="M177.2 377.3 L182.8 377.3 L182.8 378.3 L177.2 378.3Z" fill="#d7d7d7"/><path d="M182.2 377.3 L187.8 377.2 L187.8 378.2 L182.2 378.3Z" fill="#d7d7d7"/><path d="M187.2 377.2 L192.8 377.2 L192.8 378.2 L187.2 378.2Z" fill="#d7d7d7"/><path d="M192.2 377.2 L197.7 377.1 L197.8 378.1 L192.2 378.2Z" fill="#d7d7d7"/><path d="M197.1 377.1 L202.7 377.0 L202.8 378.0 L197.2 378.1Z" fill="#d7d7d7"/><path d="M202.1 377.1 L207.7 377.0 L207.8 378.0 L202.2 378.0Z" fill="#d7d7d7"/><path d="M207.1 377.0 L212.7 376.9 L212.8 377.9 L207.2 378.0Z" fill="#d8d8d8"/><path d="M212.1 376.9 L217.7 376.8 L217.8 377.8 L212.2 377.9Z" fill="#d8d8d8"/><path d="M217.1 376.8 L222.7 376.7 L222.8 377.7 L217.2 377.8Z" fill="#d8d8d8"/><path d="M222.1 376.7 L227.7 376.6 L227.8 377.6 L222.2 377.7Z" fill="#d8d8d8"/><path d="M227.1 376.6 L232.7 376.5 L232.8 377.5 L227.2 377.6Z" fill="#d8d8d8"/><path d="M232.1 376.6 L237.7 376.4 L237.8 377.4 L232.2 377.5Z" fill="#d8d8d8"/><path d="M237.1 376.5 L242.7 376.4 L242.8 377.3 L237.2 377.4Z" fill="#d9d9d9"/><path d="M242.1 376.4 L247.7 376.2 L247.8 377.3 L242.2 377.4Z" fill="#d9d9d9"/><path d="M247.1 376.3 L252.7 376.1 L252.8 377.2 L247.2 377.3Z" fill="#d9d9d9"/><path d="M252.1 376.2 L257.7 376.0 L257.8 377.1 L252.2 377.2Z" fill="#d9d9d9"/><path d="M257.1 376.0 L262.7 375.9 L262.8 377.0 L257.2 377.1Z" fill="#d9d9d9"/><path d="M262.1 375.9 L267.7 375.8 L267.8 376.8 L262.2 377.0Z" fill="#dadada"/><path d="M267.1 375.8 L272.7 375.7 L272.8 376.7 L267.2 376.9Z" fill="#dadada"/><path d="M272.1 375.7 L277.7 375.6 L277.8 376.6 L272.2 376.7Z" fill="#dadada"/><path d="M277.1 375.6 L282.7 375.4 L282.8 376.5 L277.2 376.6Z" fill="#dadada"/><path d="M282.1 375.4 L287.7 375.3 L287.8 376.3 L282.2 376.5Z" fill="#dadada"/><path d="M287.1 375.3 L292.7 375.1 L292.7 376.2 L287.2 376.4Z" fill="#dbdbdb"/><path d="M292.1 375.1 L297.7 374.9 L297.7 376.0 L292.1 376.2Z" fill="#dbdbdb"/><path d="M297.1 375.0 L302.7 374.8 L302.7 375.9 L297.1 376.0Z" fill="#dbdbdb"/><path d="M302.1 374.8 L307.7 374.6 L307.7 375.7 L302.1 375.9Z" fill="#dbdbdb"/><path d="M307.1 374.6 L312.7 374.4 L312.7 375.5 L307.1 375.7Z" fill="#dbdbdb"/><path d="M312.1 374.4 L317.7 374.2 L317.7 375.3 L312.1 375.5Z" fill="#dbdbdb"/><path d="M317.1 374.2 L322.7 373.9 L322.7 375.1 L317.1 375.3Z" fill="#dbdbdb"/><path d="M322.1 374.0 L327.7 373.8 L327.7 374.9 L322.1 375.1Z" fill="#dbdbdb"/><path d="M327.1 373.8 L332.7 373.6 L332.7 374.7 L327.1 374.9Z" fill="#dbdbdb"/><path d="M332.1 373.6 L337.7 373.4 L337.7 374.6 L332.1 374.8Z" fill="#dbdbdb"/><path d="M337.1 373.4 L342.7 373.2 L342.7 374.4 L337.1 374.6Z" fill="#dbdbdb"/><path d="M342.1 373.2 L347.7 373.1 L347.7 374.3 L342.1 374.4Z" fill="#dbdbdb"/><path d="M347.1 373.1 L352.7 372.9 L352.7 374.2 L347.1 374.3Z" fill="#dbdbdb"/><path d="M352.1 372.9 L357.7 372.8 L357.7 374.0 L352.1 374.2Z" fill="#dbdbdb"/><path d="M357.1 372.8 L362.7 372.7 L362.7 373.9 L357.1 374.1Z" fill="#dbdbdb"/><path d="M362.1 372.7 L367.7 372.6 L367.7 373.8 L362.1 373.9Z" fill="#dbdbdb"/><path d="M367.1 372.6 L372.7 372.4 L372.7 373.7 L367.1 373.8Z" fill="#dbdbdb"/><path d="M372.1 372.5 L377.7 372.3 L377.7 373.6 L372.1 373.7Z" fill="#dbdbdb"/><path d="M377.1 372.3 L382.7 372.2 L382.7 373.5 L377.1 373.6Z" fill="#dbdbdb"/><path d="M382.1 372.2 L387.7 372.0 L387.7 373.4 L382.1 373.5Z" fill="#dbdbdb"/><path d="M387.1 372.0 L392.7 371.9 L392.7 373.2 L387.1 373.4Z" fill="#dbdbdb"/><path d="M392.1 371.9 L397.6 371.7 L397.7 373.0 L392.1 373.2Z" fill="#dbdbdb"/><path d="M397.0 371.7 L402.6 371.5 L402.7 372.8 L397.1 373.1Z" fill="#dcdcdc"/><path d="M402.0 371.5 L407.6 371.2 L407.7 372.6 L402.1 372.9Z" fill="#dcdcdc"/><path d="M407.0 371.3 L412.6 370.9 L412.7 372.4 L407.1 372.6Z" fill="#dcdcdc"/><path d="M412.0 371.0 L417.6 370.5 L417.7 372.0 L412.1 372.4Z" fill="#dddddd"/><path d="M417.0 370.6 L422.5 369.9 L422.7 371.5 L417.1 372.1Z" fill="#dedede"/><path d="M421.9 370.0 L427.4 369.0 L427.7 370.7 L422.1 371.6Z" fill="#dedede"/><path d="M426.8 369.1 L432.2 367.8 L432.6 369.6 L427.1 370.8Z" fill="#dedede"/><path d="M431.6 368.0 L437.0 366.5 L437.6 368.4 L432.1 369.8Z" fill="#dedede"/><path d="M436.4 366.7 L441.3 364.5 L442.3 366.3 L437.0 368.6Z" fill="#dddddd"/><path d="M440.9 364.8 L444.5 361.0 L446.0 362.6 L441.8 366.7Z" fill="#dddddd"/><path d="M444.2 361.5 L447.2 357.5 L449.1 358.8 L445.6 363.1Z" fill="#dedede"/><path d="M446.9 358.0 L449.2 353.5 L451.3 354.3 L448.8 359.3Z" fill="#dedede"/><path d="M449.0 354.0 L450.6 349.0 L452.8 349.5 L451.1 354.9Z" fill="#e0e0e0"/><path d="M450.4 349.6 L451.9 344.3 L454.1 344.7 L452.6 350.1Z" fill="#e2e2e2"/><path d="M451.8 344.9 L453.5 339.3 L455.5 339.9 L453.9 345.3Z" fill="#e5e5e5"/><path d="M453.3 339.9 L455.3 334.6 L457.2 335.3 L455.3 340.5Z" fill="#e8e8e8"/><path d="M455.1 335.2 L456.6 330.0 L458.5 330.3 L457.0 335.8Z" fill="#e9e9e9"/><path d="M456.5 330.6 L457.3 325.2 L459.0 325.3 L458.4 330.9Z" fill="#e9e9e9"/><path d="M457.2 325.8 L457.3 320.3 L459.0 320.2 L459.0 325.9Z" fill="#e9e9e9"/><path d="M457.4 320.9 L457.1 315.3 L458.8 315.2 L459.1 320.8Z" fill="#e9e9e9"/><path d="M457.2 315.9 L456.9 310.3 L458.4 310.2 L458.8 315.8Z" fill="#e9e9e9"/><path d="M456.9 310.9 L456.6 305.4 L458.1 305.2 L458.5 310.8Z" fill="#e9e9e9"/><path d="M456.6 306.0 L456.1 300.4 L457.6 300.2 L458.1 305.8Z" fill="#e9e9e9"/><path d="M456.2 301.0 L455.6 295.4 L457.1 295.3 L457.7 300.8Z" fill="#e9e9e9"/><path d="M455.6 296.0 L455.0 290.5 L456.5 290.3 L457.1 295.9Z" fill="#e9e9e9"/><path d="M455.0 291.1 L454.3 285.5 L455.9 285.3 L456.5 290.9Z" fill="#eaeaea"/><path d="M454.4 286.1 L453.7 280.6 L455.2 280.4 L455.9 285.9Z" fill="#ebebeb"/><path d="M453.7 281.2 L452.9 275.6 L454.6 275.4 L455.3 281.0Z" fill="#ececec"/><path d="M453.0 276.2 L452.1 270.7 L453.9 270.5 L454.7 276.0Z" fill="#ececec"/><path d="M452.2 271.3 L451.3 265.8 L453.2 265.5 L454.0 271.1Z" fill="#ececec"/><path d="M451.4 266.4 L450.5 260.8 L452.5 260.6 L453.3 266.1Z" fill="#ececec"/><path d="M450.6 261.4 L449.7 255.9 L451.8 255.6 L452.6 261.2Z" fill="#ececec"/><path d="M449.8 256.5 L449.0 250.9 L451.1 250.7 L451.9 256.2Z" fill="#ececec"/><path d="M449.1 251.5 L448.2 245.9 L450.5 245.7 L451.2 251.3Z" fill="#ececec"/><path d="M448.3 246.5 L447.5 241.0 L449.9 240.7 L450.6 246.3Z" fill="#ececec"/><path d="M447.6 241.6 L446.6 236.0 L449.2 235.8 L450.0 241.3Z" fill="#ebebeb"/><path d="M446.7 236.6 L445.6 231.2 L448.4 230.8 L449.3 236.4Z" fill="#eaeaea"/><path d="M445.7 231.7 L444.7 226.3 L447.7 225.9 L448.5 231.4Z" fill="#e9e9e9"/><path d="M444.8 226.9 L443.9 221.4 L446.9 221.0 L447.8 226.5Z" fill="#e9e9e9"/><path d="M444.0 222.0 L443.1 216.4 L446.1 216.0 L447.0 221.6Z" fill="#e9e9e9"/><path d="M443.2 217.0 L442.5 211.4 L445.5 211.1 L446.2 216.6Z" fill="#e9e9e9"/><path d="M442.6 212.0 L441.9 206.5 L444.9 206.1 L445.6 211.6Z" fill="#e9e9e9"/><path d="M442.0 207.1 L441.3 201.5 L444.3 201.1 L445.0 206.7Z" fill="#e9e9e9"/><path d="M441.3 202.1 L440.6 196.7 L443.5 196.2 L444.3 201.7Z" fill="#e9e9e9"/><path d="M440.7 197.3 L439.8 191.9 L442.7 191.3 L443.6 196.8Z" fill="#e9e9e9"/><path d="M439.9 192.4 L438.9 186.9 L441.8 186.4 L442.8 191.9Z" fill="#e8e8e8"/><path d="M439.0 187.5 L438.1 181.9 L440.9 181.4 L441.9 187.0Z" fill="#e7e7e7"/><path d="M438.2 182.5 L437.4 176.9 L440.2 176.5 L441.0 182.0Z" fill="#e6e6e6"/><path d="M437.5 177.5 L436.8 172.0 L439.5 171.5 L440.3 177.1Z" fill="#e5e5e5"/><path d="M436.9 172.6 L436.1 167.2 L438.7 166.7 L439.6 172.1Z" fill="#e4e4e4"/><path d="M436.1 167.8 L435.2 162.4 L437.7 161.8 L438.8 167.2Z" fill="#e2e2e2"/><path d="M435.3 163.0 L434.2 157.5 L436.6 156.9 L437.8 162.3Z" fill="#e1e1e1"/><path d="M434.3 158.0 L433.3 152.5 L435.7 152.0 L436.8 157.5Z" fill="#dfdfdf"/><path d="M433.4 153.1 L432.5 147.4 L434.9 147.0 L435.8 152.5Z" fill="#dddddd"/><path d="M432.6 148.0 L431.9 142.3 L434.3 142.0 L434.9 147.6Z" fill="#dadada"/><path d="M432.0 143.0 L431.4 137.3 L433.7 137.1 L434.3 142.6Z" fill="#d7d7d7"/><path d="M431.5 137.9 L430.9 132.4 L433.2 132.1 L433.8 137.7Z" fill="#d6d6d6"/><path d="M431.0 133.0 L430.3 127.4 L432.6 127.1 L433.2 132.7Z" fill="#d5d5d5"/><path d="M430.4 128.0 L429.7 122.5 L431.9 122.2 L432.7 127.7Z" fill="#d3d3d3"/><path d="M429.8 123.1 L428.9 117.7 L431.1 117.2 L432.0 122.8Z" fill="#d2d2d2"/><path d="M429.0 118.2 L428.0 112.8 L430.1 112.3 L431.2 117.8Z" fill="#d1d1d1"/><path d="M428.1 113.4 L427.0 107.9 L429.1 107.4 L430.2 112.9Z" fill="#cfcfcf"/><path d="M427.1 108.5 L426.1 103.0 L427.9 102.6 L429.2 108.0Z" fill="#cdcdcd"/><path d="M426.2 103.6 L425.3 98.0 L426.6 97.7 L428.0 103.2Z" fill="#cccccc"/><path d="M425.4 98.6 L424.5 93.1 L425.5 92.9 L426.8 98.3Z" fill="#cacaca"/><path d="M424.5 93.7 L423.6 88.1 L424.3 88.0 L425.6 93.4Z" fill="#c7c7c7"/><path d="M423.7 88.7 L422.7 83.2 L423.1 83.1 L424.4 88.6Z" fill="#c5c5c5"/><path d="M422.8 83.8 L421.7 78.3 L421.8 78.3 L423.2 83.7Z" fill="#c3c3c3"/><path d="M421.9 78.9 L420.6 73.5 L420.6 73.5 L421.9 78.9Z" fill="#c0c0c0"/></g><g fill="none" stroke-width="2" stroke-linecap="round"><path d="m92.7 261.5h0m30.1-73.1h0m332.4 42.5h0m-.7 90.3h0m-337.1-148.4h0m10.9 .1h0m326 51.5h0m-.3 76.5h0m-332.5-96.9h0m332 97.9h0m-2.3-22.2h0m-8.6-123.9h0m-319.9 30.1h0m-22.6 145.7h0m22.3-139.5h0m.9-4.4h0m-.4 .1h0m-1.3 8.4h0m315.9 1.4h0m-339.2 166.6h0m4.6-67.7h0m-15.2-.6h0m23.2-104.7h0m341.8 141.8h0m-366-32.5h0m-1.5 8.2h0m19.4-90.9h0m-6.6 115h0m15.9-97.9h0m-14.1 127.7h0m343-131.5h0m2.6-64.7h0m15.4 136.1h0m-364.4 51.5h0m15.3-169.4h0m-11.2 128.5h0m-19 18.6h0m24.9-43.8h0m1.5-20.4h0m-23.1 38.6h0m37.5-116.3h0m339.8 124.7h0m-363.1 47.1h0m333.5-198.6h0m-351.9 177.9h0m370.4-144.1h0m-344.2 9.4h0m-14.6 54.6h0m343-82.2h0m-328.3 92.5h0m340.4-99.4h0m-349.1 187.7h0m356.4-30.1h0m-1.5 3.9h0m-332.4-133.3h0m316.4-4.4h0m-336.9 166.5h0m331.8-261.8h0m6.9 32.2h0m-319.2 32.8h0m5.7 12.1h0m-20.8 109.9h0m1.7-87.2h0m346.3 87.2h0m-355.5-37.6h0m-17.7 103.4h0m19.7-122.4h0m-10.2 45.3h0m32.6-73.4h0m-38.6 117.7h0m25.1-43.2h0m-28.9 81.4h0m355.8 4.7h0m8.1-129.9h0m11.3 83.9h0m-355 48.7h0m338.8-166.8h0m-331.3 73.6h0m317.7-158.8h0m21 137.8h0m-327.5-79.6h0m-38 176.9h0m368.1-84.5h0m-332.3-45.4h0m7-39h0m4.2-31.9h0m302.8 4h0m-342.4 136.7h0m349.8-159.6h0m-315.7 63.1h0m309.6-97.3h0m-309.9 102.7h0m320.6-43.9h0m-363.7 191.2h0m29.9-141.9h0" stroke="#979797"/><path d="m107.4 204.4h0m355.1 118.1h0m-350.8-125.4h0m-28.9 135.1h0m30.4-101.7h0m-9.3 51.7h0m342-36.6h0m-349.9 95.1h0m353.4-145.1h0m-331.9 10.7h0m-7.9 42.9h0m313.2-179h0m-300.6 123.1h0m-13.3 61.1h0m336.4-84.1h0m-328.1 41.1h0m-31.1 98h0m21.7-106.2h0m-6.7 99.7h0m329.1-204.7h0m-319.7 98.8h0m5.9-19.3h0m6.6 9.4h0m-25.8 147.4h0m9.8-69.2h0m12.7-79.7h0m294.4-128.1h0m-297.4 121.7h0m-.2 37.2h0m-15.5 15.1h0m11.5-41.8h0m8.9-23.5h0m-31.2 116.8h0m7.6 36.4h0m-.2 46.1h0m28.1-198.6h0m-37.1 127.4h0m13.6-70.8h0m-11.8 62.2h0m-2.8 16.4h0m69 73.6h0m-49.6-170.1h0m-7.2 106.3h0m14.2-88.5h0m-16.7 103.7h0m23.2-134.3h0m-21.6 50.4h0m356.1 62.1h0m-335-106.1h0m4.1-19.4h0m-33.6 102.8h0m-3.7 88.9h0m338.1-293.3h0m15.7 75.5h0m13.9 161.5h0m-330.9-131.6h0m-19.3 35.2h0m22-54h0m-2.5 .7h0m-14 33h0m-14.3 58.2h0m29.5-86.5h0m-34.9 116.2h0m7.8 75.1h0m21.9-185.5h0m-4.9 4.9h0m312.3 185.3h0m-306.4-171.6h0m-35.8 122.1h0m37.7-131.2h0m-31.5 91.7h0m303.9 98.6h0m-276.2-170.9h0m-29.2 81.6h0m367.2-27.4h0m-332.5-102h0m-24.6 83.3h0m12.9-6.6h0m-16.2 111.6h0m.7-97.5h0m318.3-186.5h0m-318.9 299.2h0m345-205h0m-321.8 12.9h0m-32.1 133.7h0m8.7 30.7h0m25.6-145.7h0m-17.3 28.1h0m313.9-158h0m-337.1 284.5h0m38.3-138.8h0m2-40.7h0m-2.4 6.6h0m-32.1 134.1h0m-5 33.1h0m15.6-10.4h0m-15.5 3.1h0m33.5-114.2h0m2.8-8.7h0m1-6.2h0m.5-2.3h0m-8.3 41.9h0m4.2-24.2h0m-33.5 120.3h0m372.4-89.4h0m-349.4 26.9h0m21.7-107.2h0m-34.8 106.6h0m3.5 65.1h0m8.3-55.1h0m353.9 69.3h0m-.1-6.4h0m-5.8-134.9h0m-348.7 78.5h0m16-115.9h0m-19.5 63.1h0m21.8-42.4h0m301.6-121.1h0m-317.3 140.7h0m9.1 12.8h0m308.1-127h0m-301.6 77.2h0m-5.9 6.1h0m11-9.4h0m-7.8 27.7h0m-4.2-14.2h0m1.4-7.7h0m313.2-82.3h0m-321.9 110.4h0m351.3 132.5h0m-14.7-173.7h0m-334.2 31.5h0m-25.1 122.1h0m18.1-27.5h0m20.2-104h0m-10.1 5.3h0m5.9 12.7h0m-1.8-24h0m320.6-43.5h0m-324.4 93h0m-13.7 8h0m15.2-53.1h0m318.3 187.1h0m-1.2-266.9h0m-306.8 52.4h0m-16.1 98.7h0m-18.6 20.9h0m12.4 19.4h0m20.5-130.1h0m-.5 16.8h0m-9.3 44.7h0m-12.1 .4h0m22.1-47.2h0m322.5-8.1h0m-336.9 26.3h0m-12.5 160.9h0m.8-113.5h0m15.9-60.9h0m3.8 26.9h0m.6-8.7h0m-.5 8.4h0m-3.6 8.1h0m-10.1 70.5h0m14.9-87.4h0m334.2 19.9h0m-334.2-21.7h0m-22.6 133.5h0m16.5-142.8h0m9.9-2.4h0m-40.7 154.3h0m26.9-144.2h0m13.2-36.5h0m-19 58.3h0m15.6-16h0m52.2 173.1h0m-86.3-63.3h0m34.5-112.2h0m-8.1-7.4h0m15-22.9h0m284.5 193.8h0m-309.9-133.6h0m22.6-46.4h0m301.7-111.3h0m-300.4 101.9h0m-39.3 139.8h0m22.2-109.6h0m.4-1.4h0m12.9-11.8h0m-9.9-.7h0m-2.1 10.2h0m15.7-27.9h0m.8-5.3h0m-3.4 24.9h0m-5.8 20.8h0m-8.3 45.8h0m305 105.1h0m-291.7-182.1h0m.4-14h0m-4 37.6h0m-1.4-23.6h0m2.2 24.3h0m312.4-65.1h0m-316.4 82.8h0m312.2-147.6h0m-330.3 173.1h0m18.9-70.4h0m-31.1 139.3h0m376.2 15.2h0m-341.4-131.4h0m-7.8-4.1h0m5.8 11.6h0m3-22.2h0m-4.3-6.8h0" stroke="#9f9f9f"/><path d="m439.2 149.5h0m-319 23.2h0m295.5-108.1h0m-294.5 120.1h0m-.9-16h0m-22.3 150.8h0m351.7-117.3h0m-23.6-120.5h0m-321.9 198.7h0m-9.1 63.1h0m25.5-170.9h0m-13 87.6h0m328.9-130.4h0m.6 5.7h0m-324.1 57.2h0m338.1 170h0m-354.3-.2h0m5.6-132.1h0m317-168.9h0m-324.6 201.6h0m-13.2 82.9h0m39.3-156.7h0m242.1 186.4h0m-267.9-34.5h0m20.8-125.3h0m2.8-10.8h0m-22.4 130.6h0m26-167.7h0m-26.3 171.6h0m17.2-141h0m99.5 180.8h0m-114.4-61h0m338-189.5h0m-331.7 148.3h0m.1-1.1h0m11.9-91.2h0m-9.2 76.6h0m-2.2 7.9h0m9.2-47.4h0m315.3 144.2h0m-321-156.7h0m319.8-82h0m-317.6 110.9h0m-10.4 59.3h0m10.1-55.6h0m288.2 127.8h0m51-168.2h0m-334.3-14h0m-10.7 91.1h0m4.3-74.2h0m-1.9 6.8h0m1 42.9h0m5.8-68.3h0m331.5-10.6h0m-339.8 40.9h0m324.1-119.4h0m-333.1 156.7h0m2 125.7h0m-3.3-41.2h0m12-78h0m4.3-25.2h0m341.2-1.9h0m-18.1-113.5h0m-313.2 55.1h0m-11.7 65.7h0m335.5-74.7h0m-363.9 178.2h0m346.5-219.9h0m21.9 77.2h0m-368.6 149.1h0m377-63h0m-35.3-190h0m-320.6 273.3h0m22.7-215.4h0m-11.1 60.8h0m194 161.4h0m-207.8-69h0m323.6-207.8h0m30.3 231.8h0m-356.2 33.2h0m321.1-290h0m-322.8 180.9h0m352.5 93.5h0m2.9-136.5h0m-364 88.9h0m344.9-190.9h0m-15.2-40.6h0m-300.3 112.8h0m335.5 40.3h0m-31.3-157.6h0m1.5 28.7h0m-327.6 248.4h0m-11.3-17h0m26.6-120.9h0m4.8 12.5h0m337.7 117.6h0m-332.4-137.7h0m-12.9 14.4h0m11.9 162.8h0m-33.2-63.2h0m32.6-133.5h0m316.6-53.9h0m-17.8-52.4h0m-316.9 165.6h0m-17.4 93.6h0m26.8-82.2h0m-28 110.1h0m.1-11h0m38.6-174.2h0m15 206.2h0m-50.8-62.7h0m-.9 46.4h0m15.3-57.5h0m-13.6 6.6h0m29-100.4h0m335.1-11.5h0m-354.1 54.9h0m26.6-88h0m-19.7 120.2h0m6.4-38.3h0m2.5-55.2h0m-5.3 16.6h0m-4.8 85.2h0m314.2-231.1h0m-310.3 205.8h0m315.5-206.3h0m11.9 47.9h0m-329.6 172.6h0m12.1-89h0m-1.5 31.4h0m-13.8 9.7h0m-3.1 92.6h0m-8.8-33.4h0m369.1 50.2h0m-341.9-161.1h0m337.7 40.9h0m-360.4 49.1h0m10.5 11h0m339.4-125.3h0m-324.8 42.4h0m-35.2 135.1h0m357.1-188.3h0m8.8 108.6h0m-336.4-24.6h0m6.3-44.6h0m-15.3 94.8h0m-7 53.4h0m0 39h0m351.3-191.7h0m-348.1 55h0m11.3 .8h0m12.9-73.1h0m-25.5 197.4h0m-3.1-103.4h0m-11.5 67.4h0m359.4-167.3h0m-327.1 54.6h0m304.4-153.6h0m19.2 87.5h0m-174.1 227.9h0m-143.8-199.5h0m197.7 197.9h0m-203.6-167.5h0m306.6-139.5h0m7.7 70.3h0m9.1 4.6h0m-318.2 29.6h0m2.8-11.3h0m313.7-27.8h0m-320.5 70.7h0m-1.4-17.3h0m-33.4 153.1h0m355.4-156.9h0m-354.3 148.1h0m24.2-124.4h0m17.4-49.7h0m-28.1 171.6h0m351.9 34.5h0m-326.6-191.1h0m-26.4 164.3h0m323.8 30h0m11.1-226.7h0m18 49.6h0m-340.4 15.2h0m-9.6 114.6h0m8.3-57.1h0m16.4-99.5h0m-14.9 89.2h0m17.4-86.8h0m328 64.4h0m-334.4-39.2h0m-24.2 184.9h0m9.8-159.8h0m-10.6 46.4h0m335.6-126.6h0m-346.4 195.5h0m13.6-80.6h0m-1.5 93.8h0m0-6.2h0m13.9-90.9h0m306-190.9h0m17.5 51.8h0m-337.3 239.3h0m340.4-219.2h0m-314.9 47.6h0m-19.5 56.4h0m330.1-129.1h0m13.3 131.2h0m-345 1.4h0m339.4-39.6h0m7.6-14.7h0m-23.8-85h0m-313.6 108h0m5.7-17.4h0m-12 37.1h0m17.2-44.1h0m-3.8 6h0m-14 103.9h0m-12.4 83.4h0m23.1-142.9h0m-3 10.3h0m-6.4 41.6h0m336.1-132.3h0m-4.3 22.9h0m-350.1 142.3h0m21.3-50.9h0m14.2-80.1h0m4.5-16.8h0m305.1-26h0m-333.8 220.4h0m-12.5-37h0m358.1-161.3h0m-330.1 35.3h0m339.1 12.3h0m-19.7-106.4h0m26.8 184h0m-359.4 22.2h0m-10.7-14.2h0m344.2-189h0m-330.2 182.8h0m20.1-101.8h0m-29.1 186.4h0m-3.9-86h0m12.3 88.7h0m-4.4-128.5h0m-10 53.7h0m36.6-137.1h0m294.2-91.6h0m-.2-1.3h0m-295.6 90.8h0m-24.4 158h0m19.5-121.7h0m-8.3 1.7h0m326.8-77.9h0m6.9 37.7h0m-351.8 119h0m5.4 47.3h0m356.8-102h0m-353.6 84h0m20-137.4h0m216 203h0m-219.6-192.1h0m323.3 12.9h0m-318.8-4h0m-23.3 129.5h0m20.2-117.2h0m-21.5 53.4h0m9.3 14.4h0m-21.5 51.1h0m34.9-124.3h0m230.4 170.6h0m24.7-.7h0m-277.4-36.9h0m24.2-163.3h0m314.1-49.1h0m-333.9 177.6h0m339.7-93.1h0m20.7 122.9h0m-343.3-149.5h0m302 189.4h0m34.2-72.2h0m-11.5-132.5h0m10.6 126.2h0m-334.4-99.4h0m307.1-108.9h0m-342.5 245h0m362.8-140.8h0m-323.7-18.4h0m-19.1 58.5h0m6.9-23h0m317.3-114.5h0m-331.2 167.6h0m18.4-67.9h0m329.4-20.9h0m-324.3 15.6h0m314.8-63.8h0m-329.1 91.5h0m346 8.6h0m-344.4-9.1h0m12.6-14.5h0m334.5 51h0m-5.2-55.4h0m-348.9 115.6h0m12.3-74.7h0m-19.7 36.9h0m27.4-78.5h0m-3-13.1h0m-27 110.6h0m315.6 86.2h0m-302.7-147.4h0m4.6 31.2h0m-26.3 95.9h0m43.5-194.3h0m-17.1 99.4h0m13.2-87.8h0m-36.4 148.1h0m349-206h0m-324.5 93.8h0m3.4 24h0m-30.2 108.2h0m37.5-158h0m6.5-15.3h0m-29.9 165h0m325.5-262.6h0m-300.9 121.3h0m-15.6 29h0m-8.7 145.3h0m318.2-304.1h0m-312.3 165.1h0m-1.5 73.9h0m-4.1 26.3h0m340.1-190.9h0m-316.1 39.3h0m-28.3 99.8h0m351.9-38.5h0m16.1 78.5h0m-352.5-55.8h0m-.7-49.3h0m351.5 87.2h0m-6.6 40.8h0m-350.4-43.5h0m-1.3 10.3h0m25.4-138.5h0m-10.3 19.4h0m-33.8 174.6h0m36.3-179.7h0m-7.9 67.1h0m4.6-29.9h0m-26.4 77.9h0m359-104.7h0m-20.3-102.8h0m-314 103.6h0m-17.5 145h0m-12.5-2.5h0m13.1-5.2h0m340.1-199.8h0m-354 207h0m39.9-160.4h0m-8.5 15.2h0m-12.4 107.2h0m-5.8 59.4h0m331.2-239.3h0m-1.4-34.8h0m-301.9 100.1h0m308.5-73.6h0m-318 115h0m-13.9 13h0m18.4-65.1h0m-10.7 38h0m-5.2 81.3h0m337.1-137.8h0m-21-75.1h0m-323.1 261.8h0m-10.3 29.5h0m18.4-144h0m6-20.4h0m323.3-93.8h0m-11.3-18.5h0m-6.2-30.3h0m-326.7 311.5h0m8.1-46.2h0m2.2-85.7h0m355 115.9h0m-365.3 15.8h0m17.5-109.7h0m5.1-23.1h0m-28.5 92.1h0m31.5-143.7h0m-6.2 65h0m-.6-45.7h0m12.5-34.9h0m328.2 85.9h0m-337-21.3h0m-8-15.4h0m332.4-95.6h0m-12.3-26.4h0m8.9 10.7h0m13 256.4h0m-25.6-286.3h0m-1.9-22.8h0m-322 295.2h0m21.2-149h0m-30.4 101.2h0m-2.8 22.4h0m356.5-172h0m13.1 73.4h0m-25.3-103.6h0m-324 95.2h0m.6-7.1h0m2.6 48.3h0m-21.1 108.3h0m28.9-154.6h0m-5.2 31.4h0m-4.9-30.8h0m11.2-1.5h0m6.1-40.9h0m-16.6 38.8h0m-10.8 135h0m335.3-204.3h0m.2 2h0m-324 119.3h0m-24.6 73.3h0m-.3 11.3h0m36.4-168.6h0m2.1-6.9h0m-22 204h0m21.3-187.5h0m-6.9 11.3h0m2 12.1h0m300.3-158.9h0m-311 227.3h0m336.4-129.6h0m-14.1-68.5h0m16.8 79.7h0m-332.9 42.5h0m9.9-16.5h0m-23.1 175.1h0m21.3-184.4h0m331.2 84.9h0m-341.8-8h0m2.4-55.1h0m9.8-4.9h0m316.2-73.2h0m-312.1 46.7h0m-27.5 83.4h0m25-74.1h0m-25.8 157.9h0m-12.9 22.9h0m-.8-21.5h0m343.7-259.5h0m-330.5 262.4h0m1.3-86.7h0m-5.2 22.7h0m5.3 80h0m6.6-72h0m341.8-115.2h0m-1.9 54h0m-357.3 89.9h0m28.8-96.6h0m4.9-26.3h0m-34.9 130.3h0m23-66.1h0m15-75.8h0m-26.2 151.5h0m342.9-181.2h0m-20.8-75.6h0m28.1 106.4h0m-326 6.4h0m-8.6 48.9h0m6.1-38h0m-2.8-11.8h0m322.9-46.4h0m-321.3 63.4h0m321.5-57.4h0m15 81.6h0m-342.6 12.4h0m15.7-93.9h0m-14.4 85.4h0m11.7-57.8h0m-40.1 190.4h0m34.4-168.2h0m-22.8 154.6h0m21.4-168.5h0m330.4 .2h0m-2.9-15.5h0m-29.1-106.5h0m3.7 17h0m-295.8 84.8h0m-25.4 86h0m20.7-46.5h0m-14.2 21.7h0m348.3 58.4h0m-351.4 19.3h0m15.4-90.7h0m-17.8 108.5h0m213 57.3h0m-195.7-194h0m-14.4 47h0m4.7 35.4h0m313.1-205.7h0" stroke="#a7a7a7"/><path d="m95.4 335.2h0m3.5-21.3h0m13.4-102.4h0m322.9-42.3h0m18.5 188.3h0m-358.7-92.9h0m348.4-99h0m-10.4-54h0m-345.1 193.4h0m121.8 70.2h0m-96.6-173.3h0m336.8 .9h0m-364.2 116.7h0m27.6-117.6h0m220 174.8h0m110.7-203.3h0m6.4 97.1h0m-356 76.1h0m351.9-102.9h0m-7.3-93.7h0m-331.5 104.6h0m346.3-15.5h0m-338.9-34.3h0m333.5-11.4h0m-356.8 83.2h0m-.6 6.4h0m-1.5 12.1h0m23.8-69.8h0m-1.3-21.9h0m348.6 126.2h0m-33.1-239.4h0m2.5 46.7h0m-314.1 73.4h0m309.6-101.9h0m-341.5 220.6h0m332-271.1h0m-333.3 280.4h0m176.6 40h0m-157.3-90.1h0m346.7-92.9h0m4.6 34.9h0m-347.1-9.2h0m349.7 132h0m-360.4-16.4h0m20.2-137.9h0m-12.3 83h0m16.4-93.1h0m-27.8 91.5h0m349-122.8h0m-346.6 183.2h0m339 31.2h0m-334.3-62.1h0m333.6-193h0m-317 89.8h0m-13.3 25.6h0m346.6 133h0m-4.3-189.7h0m-347.9 153.3h0m-13 6.4h0m29.7-112.1h0m-10.7 4.3h0m2.2-4.2h0m147.8 155.4h0m90.6-2.5h0m-245.8-55.3h0m331.8-188.9h0m-323.3 130.3h0m-9.9 64.9h0m13.9-123.7h0m305.9-141.5h0m-318.8 262.4h0m-.4 39.1h0m350.1-7.6h0m-336-151.4h0m-14.5 123.7h0m325.1-258.3h0m-310.9 135.4h0m2.7-2.6h0m7.6-21.2h0m-8.2 18.6h0m-7 69.2h0m-10.1 72.3h0m331.7-223.6h0m-321 98.8h0m109.7 162.4h0m205.4-292.5h0m-308 104.4h0m-12.6 47.8h0m332.1-81.6h0m-5.9-66.9h0m-121.4 283h0m-187.1-170.8h0m.2-13.9h0m-17.7 106.7h0m267.8 80.1h0m-238.2 4.6h0m305.5-247.2h0m-10.1 240.2h0m-343.5-38.4h0m29-101.4h0m-27.8 98h0m362.1-153.8h0m-339.4 41.9h0m1.1 36.3h0m3.6-20.3h0m-16 100.1h0m2.1-83.2h0m16.3-30.9h0m323.1-86.7h0m-8.3-42.3h0m-11.3-28.2h0m-319.3 189.1h0m10.1-43.5h0m6.6 4.2h0m-19 139.7h0m21.4-163.2h0m-20.6 68.6h0m16.5-39.3h0m-12.3 78.6h0m-.1-55.7h0m-17.1 98.7h0m34.3-145.3h0m338.1 68.1h0m-359.8 69h0m328-256.3h0m-321.7 159.6h0m342.6-64.7h0m-334.8 72.1h0m-3.1 135.9h0m328.9-250.4h0m-106 243.2h0m92.5-302.2h0m32.1 179.2h0m-350.9-21.6h0m-3.2 14.8h0m14.9-37.9h0m-2.3 21.5h0m-9-3.2h0m8.6-.3h0m340.9 9.9h0m-359.8 38.5h0m333.6-155.4h0m-330.5 247.3h0m14-132h0m12-56.3h0m316.7-24.6h0m-341.7 215.8h0m348-183.6h0m-329.2 11h0m-30.5 123.3h0m23.7-109.3h0m343.3 30.5h0m-352.1 64.9h0m-1.5 4.6h0m14.1-81.4h0m-2.7-23.4h0m69.4 173.7h0m243.6-276.3h0m-339.6 265.6h0m36.5-189.3h0m-2.1 14.5h0m315.2-76.8h0m-338.3 234h0m328.5-249.4h0m14.1 45.3h0m-2.5-14.6h0m-339.4 206.3h0m356.1 24.5h0m-13.3-210.7h0m-323.8 47.6h0m311.8-81.5h0m-329.8 250.1h0m328.3 7.3h0m-327.1-55.4h0m17.3-125.2h0m-19.6 170.3h0m360.9-16.1h0m-348.9-93.9h0m342.8 110.2h0m-364-48.4h0m20.7-60.1h0m-2.5 11.5h0m-3.4-27.4h0m336.6-91.5h0m-335.1 135.1h0m238.5 94.1h0m-240.1-144.3h0m17-51.3h0m-.6 13.8h0m325.3-28h0m-351.7 118.9h0m27.4-92.1h0m324.5-23h0m-8.1-.2h0m-.3-2.6h0m-64.7 203.8h0m-265.4-100h0m337.2-110.2h0m-329.5 40.9h0m337.7 69.2h0m-355.5 106.3h0m334.1-4.8h0m-311.8-178.2h0m-21.2 66.2h0m334.4-157.7h0m12.8 265.9h0m1.3-193.6h0m-347.1 146.6h0m6.8 50.5h0m-1.7-135.2h0m328.8-132.5h0m-322.4 106.3h0m3.4-7h0m316.9-106.4h0m-314.8 111h0m-8.6 58.9h0m-7.2-16.3h0m-4.2 18.9h0m16.4-41.7h0m4.5-37.1h0m333 161.8h0m-332-157.1h0m-21.4 68.8h0m-12.3 86.5h0m332.9-293.7h0m16.7 53.1h0m-327.7 114.6h0m9.7-15.9h0m-12.9 87.8h0m12.1-80.3h0m-2.9 23.1h0m310-156.7h0m-305.9 127.6h0m5.4-20.8h0m-4.9 22.5h0m305.6-143.3h0m-334 242.7h0m363.4-43.1h0m8.4 20.3h0m-367.7-.4h0m8.6 17.2h0m347.9 49h0m-282.9 21.4h0m7.6 3.5h0m-62.8-133.2h0m343.4-22.4h0m-338-13.2h0m5.7-28.2h0m306.7-94.4h0m-272.5 291.6h0m295.4-113.5h0m-1.6-71.2h0m-358.9 177.5h0m366-112.5h0m-346.1-17.2h0m-27 112.5h0m29.7-121.6h0m-15.7 127h0m319.2-298.4h0m-300.1 149.3h0m3.3-28.1h0m-11.2 74.2h0m336-89.1h0m3 16.5h0m-340.9 40.5h0m342.5 127.5h0m-353.3-8h0m7.3-55.3h0m19.7-116h0m311.3-62h0m8.1 47.1h0m-14.7-46.4h0m-310.8 94.2h0m341.6 71.4h0m-35.3-207.7h0m-309.8 127.3h0m339.7 21.8h0m-348.2 61.3h0m331.4-159.3h0m-336.3 189.3h0m361.6-2.1h0m-176.1 69.1h0m169.3-145.3h0m1.9 76.8h0m-332.7-135.9h0m294.2-106.7h0m6.4 8.4h0m-306.1 116.2h0m318.5-18.9h0m-335.3 134.6h0m-10.6-12.9h0m347.2-156.1h0m-322.5 60.8h0m-.5-.9h0m-19.5 146h0m357-125h0m-33.9-148.1h0m2.5 11.3h0m-323.7 243.8h0m355.5-103.3h0m-339.7-22.3h0m-1.6 43.8h0m339.9-35.4h0m-348.8 22.3h0m-17.2 96.6h0m322 46.6h0m-296.1-132.8h0m335.3-57.6h0m-10.4-56.8h0m-318.6 59.8h0m324.6-27.8h0m-327.4 48.5h0m340 30.8h0m-351.9 57.2h0m342.4-126.1h0m-332.1 29.7h0m-.1 24.6h0m180 153.8h0m-209.5-39.1h0m359.8-118.7h0m-9.3-105.7h0m-319.4 102.2h0m2.6-18.9h0m343.5 138.6h0m-16-165.1h0m-342.8 124.2h0m-18.4 51.3h0m347.9 20.3h0m-328.7-76.9h0m340.8-127h0m-248.8 213.4h0m243.9-229.6h0m-343.6 196.6h0m20.2-150.6h0m-13.2 102h0m2.8-70.7h0m14.1-33.4h0m-26.1 85.5h0m365.6 65.9h0m-351.6-76.8h0m-2.6-39.9h0m12.2-36.5h0m-9.7 32.6h0m-14.4 64h0m26.4-99.1h0m328-.8h0m-357.7 116.2h0m350.4-109.6h0m-335.9 37.4h0m-1.6 2.6h0m334.7-97.3h0m-341.2 209.2h0m345.2-143.9h0m-326 12.8h0m3.3-19.9h0m-5.4 12.2h0m-19.7 72.7h0m20.9-45.9h0m-14.9 20.8h0m-12.2 63.7h0m339.1-236h0m30.2 176h0m-360.9 93h0m-6.3-44.8h0m364.1-24.9h0m2.8 24.8h0m-7.4-112.7h0m-365.3 165.3h0m364.5-171.6h0m-364.1 170.5h0m32.6-167.9h0m-27.8 115.8h0m365.3-76.5h0m-14.8-39.8h0m4.4-26h0m-328.3 57.4h0m-26.1 153.1h0m344.7-260.4h0m-327.7 112h0m-.1 .2h0m-16.9 81.3h0m6.7 38h0m12.3-83.9h0m330-117.4h0m19 125.6h0m-45.2 106.7h0m10.6-287.1h0m-303.8 102.7h0m-6.6 48.1h0m-13.7 84.9h0m15.9-102.1h0m1.2-26.4h0m342.3 75.1h0m-374.2 88.1h0m351.5-241.2h0m-340.5 156.9h0m10.1-49.3h0m322.7-112.2h0m-339.7 204.9h0m28.1-105h0m-19.5 124.5h0m263.7 35.3h0m62.4-285.7h0m22.6 89.6h0m1.5 192.4h0m11.8-23h0m-347.7-97.2h0m4.2-49.3h0m2.7 9.1h0m-34.4 140.2h0m364.1-164.8h0m-337.5 27.3h0m326.6-86.6h0m-212.6 255.8h0m235.7-91.6h0m-358.5 21.6h0m13.5-96h0m-24.2 83.9h0m24.6-100h0m-2.4 9.5h0m1.9 15.1h0m316.2-124.9h0m-317.7 127.1h0m324.3-98.3h0m-334.6 111.7h0m329.8-90.6h0m24.4 115.3h0m-365.8 31.4h0m72.5 86.2h0m299.1-52h0m-37.6-230.5h0m-327.9 265h0m4-54.9h0m341.4-96.6h0m-332.3 .4h0m341.1 135.5h0m-233.4 32.6h0m-95.5-192.8h0m123.9 192.4h0m211.3-28.1h0m-7.4-149.5h0m-336.7 27.3h0m-1.8-26.9h0m4.9 13.6h0m-30.5 111.8h0m10.4 10.3h0m-5.1-46.4h0m18.5-40h0m1.5-6h0m79.5 134.8h0m265.6-122.2h0m-368.3 55h0m26.7-114.3h0m1.7-7h0m-9.4 74.4h0m353.3 30.3h0m-340.5-116.1h0m324.9 47.7h0m-338.5-8h0m-1.7 61.4h0m1.4-12.3h0m11-68.5h0m-26 173.6h0m349.5-220.4h0m14.5 84.8h0m-365.6 63.7h0m337.5-219.9h0m-3.6 10.6h0m1 4.2h0m-334 205.7h0m372.4 22.9h0m-355.1-64.3h0m309.8-194.5h0m37.1 162.5h0m-351.7 6.6h0m9.6 1.8h0m316.3-118.8h0m-313.9 98.7h0m303.3-159.3h0m12.5 73.4h0m19.5 130.2h0m-364 62.4h0m336.8-254.8h0m-317.5 203.5h0m332.2-97.4h0m21.7 166.3h0m-4.4-104.2h0m-75.4 133.6h0m-280.3-56h0m346.1-140.9h0m-8.9-46.2h0m-325 116.7h0m320-108.5h0m-317.3 77.2h0m-6.4 4.5h0m-11.7 121.4h0m2.7-84.2h0m333.4-150.8h0m26.5 240h0m-344-145.6h0m-20.7 77.7h0m333.2-165.3h0m-310.2 100.3h0m305.3-143.8h0m32.9 226.2h0m-339.5-95h0m-24 93.4h0m362.4-6.8h0m-367.4 34.6h0m131.7 59.6h0m-106.1-142.7h0m338.9 109.4h0m-350.1-39.3h0m322.1-217.9h0m-302.4 103.9h0m333.8 44.1h0m-27.9-128.4h0m-315.1 98.9h0m308.2-134.6h0m1.2 4.1h0m-314.2 188.1h0m321.4-179.8h0m-335.9 203h0m20.6-55h0m314.5-148.7h0m-310.2 120.8h0m341.2 72.2h0m-352.3 101.8h0m11.9-171.7h0m241.5 163.7h0m-245.8-148h0m9.8-42.3h0m-17.3 198.8h0m356.4-61.3h0m-16.2-141.6h0m-361.2 153.4h0m20.3-51.1h0m143.6 99.3h0m-134.1-164h0m8.3-31.6h0m-13 67.3h0m-8.8 49.6h0m-12.7 9.4h0m16.5-34.7h0m16.5-90.4h0m306.7-95.5h0m-74.1 282.9h0m-253.8-120.4h0m11.3-9.8h0m-16 24.5h0m187.3 112.3h0m142.5-275.5h0m20.4 70.4h0m6.5 49.3h0m-349.2 64.8h0m-5.5 42.1h0m352.8-129.2h0m-337.6 32.4h0m323.4-105.5h0m-317.7 71.1h0m308.5-113.5h0m-311.6 130.4h0m317.8-104.7h0m-323 138.9h0m335.6 109.7h0m-349.9-9.7h0m69.4 30.7h0m-53.4-139.4h0m346.8 40.5h0m-7.3-74.3h0m-347.4 26.1h0m11.7-14.6h0m314.9-84.7h0m-57.6 242h0m86.6-85.5h0m-339.3-103.9h0m332.9 39.9h0m-11.6-69.7h0m-349.8 135.8h0m6.6 29h0m346.5-91.7h0m-339.3-10.7h0m-21.3 118.3h0m31.6-127.8h0m339.9 121.3h0m-357.7-6.8h0m329.6-238.2h0m8.9 41.3h0m10.7 56.5h0m-346.9 186h0m316.2-308.7h0m-317 187.3h0m223 128.8h0m-214.7-113.4h0m348.5 89h0m-150.9 25.1h0m149.5-83.1h0m-5.7-99.6h0m-36.9 179.7h0m-327.5-40.4h0m30.8-126.4h0m339.4 37.6h0m-341.6-23.7h0m-3.2-14h0m-26.5 150.9h0m203.2 19.5h0m-201-52.4h0m347.3-213h0m-314.5 75.8h0m-1.5 14.9h0m-19.4 122.9h0m18.5-135.2h0m312.3-100.1h0m-31.6 284.1h0m-300.3-114.7h0m-13 100.4h0m352.7-235.7h0m6 35.9h0m.7 1.9h0m-344.6 87.5h0m16.1-47.3h0m345.9 134.7h0m-33.8-228.2h0m-312 103.5h0m-25.6 159.6h0m350.8-223h0m-337.8 90.6h0m16.2 139.8h0m177.1-5.9h0m135.4-271.4h0m-310.3 80.7h0m-23.4 146.1h0m340.8-191.7h0m-340.2 184.2h0m-14.3 28.3h0m12.3-.6h0m19.9-137.2h0m-.2-11.2h0m-10.3 74.2h0m-21.3 82.7h0m378.5-36h0m-366.4 17.3h0m327-249h0m-312.6 120.9h0m3.3 9.9h0m-1.9 18.7h0m-6.1 32h0m343.2-80.4h0m-330.4-5h0m343.5 145.1h0m-35.1-221h0m-295.9 269.5h0m306.6-247.9h0m-2.8-15.9h0m-319.3 87.9h0m-30.9 138.4h0m345.1-248.4h0m-334.7 177.3h0m349.7-102.5h0m-16.3-79.2h0m-326.1 147.8h0m7.3-24.7h0m.5 34.9h0m-7.6-11.3h0m15.5-28.7h0m-.3-7.9h0m-35 144.1h0m362.8-172.2h0m-13-22.2h0m-332.2 96.3h0m11.3-43.6h0m6.6-10.5h0m342.5 109.6h0m-34.5-196.2h0m-265.4 271.1h0m-54.2-111.6h0m329.7-136.8h0m-333.2 162.2h0m335.6-143.8h0m-354.7 193.3h0m2.2 27.1h0m248.8 9.6h0m-238-18h0m342.9-208.7h0m-321.1 38.6h0m342.5 117.2h0m-346.3-112.7h0m341.4 162.1h0m0-27.5h0m-24.3-180.1h0m-317.3 50.7h0m5.5 182.2h0m297.6-316.8h0m38.2 242.9h0m-57.6 68.5h0m-284.8-141h0m-.9-9.5h0m323.3-98.5h0m-1.9-11h0m-335.5 207.2h0m337.5-193.4h0m-343 149.6h0m329.3-191.4h0m14.1 84.2h0m-317.2 22.2h0m-5.1 10.8h0m312.2-97h0m-313.2 125.2h0m-3.3 14.8h0m-26.4 95.6h0m361.7-110h0m-7.5-54h0m7.2-5.9h0" stroke="#afafaf"/><path d="m443 368.1h0m-20.7-296.7h0m-330.4 212.6h0m245.6 92h0m-224.1-155.2h0m-21.7 153.4h0m12.2-1h0m-19-40.5h0m28-125h0m339.8 26.1h0m-21-124.7h0m-6.3-2h0m-1.8-26.5h0m-317.7 143.8h0m343.4-15.8h0m-4.8 151h0m-345.7 17.7h0m10.4-162.3h0m2.5 6.9h0m329.9-58.5h0m-329.5 49.8h0m-10 70.1h0m11.9-74.6h0m-19.3 63.2h0m20.7-77.7h0m-31.7 143.1h0m29.8-128.3h0m310.4-108.8h0m-315 114.7h0m-14.8 135.2h0m.2-8.4h0m3.8-87.3h0m-15 90.6h0m349.5-190.8h0m-317.7 45.1h0m-18.9 165.8h0m343.2-170.1h0m-334.8 35.9h0m-1.6 52.3h0m348.6-56.6h0m-355 92.1h0m359.6 33.3h0m-22.3-235.5h0m-344.9 254.8h0m2.9 2.7h0m5.5-115.4h0m322.4-191.4h0m-321.1 184.3h0m4.6-15.4h0m316.6-172.4h0m-307.6 140h0m-18.7 76.5h0m203.6 93.6h0m144.5-207.3h0m-177 211.6h0m-153.5-154h0m-7.6 50.1h0m325.9-173.6h0m-326.5 131.7h0m8.7-23.9h0m338.2-.5h0m-86.4 167.5h0m-155.6 .7h0m-125.3-26h0m362.2-175.1h0m-51.3 195.5h0m-307.7-4.5h0m340.8-255.5h0m-324.2 179.2h0m9.7-70.6h0m-17.7 124h0m1.5-16.8h0m96.3 53h0m268.7-48h0m-29.6-225.9h0m-3.1 261.4h0m-333.9-17.9h0m337.6-199.1h0m10.9 71.4h0m-356 96.6h0m342.3-221.3h0m-255.8 282.9h0m-69-150.9h0m102 147.5h0m-101.6-149.5h0m-.1 4.6h0m-2.5 57.1h0m-6.2 74.9h0m16.7-151.3h0m-.7 4.8h0m-15.1 108.7h0m-13.3 12h0m15.3-83h0m12.3-16.2h0m82.2 138.1h0m255.9-171.8h0m-16.8-90.7h0m-349.1 229.4h0m18.7-99.7h0m357.4 54.7h0m-40.8-228.7h0m-327 220.3h0m6.9 19.6h0m350.9-104.5h0m1.9 15.5h0m-350.3 68.4h0m353.8 8.3h0m-348.1-79.1h0m330.4-75.3h0m-7.6-43.6h0m-333.6 230.3h0m327.6 43.6h0m-84.8-.9h0m-233.4-147.4h0m-19 91.3h0m115.6 63.2h0m217.5-309h0m-314.6 201.4h0m113 104.3h0m-108.9-129.8h0m29.4 133.7h0m-45.1-4.5h0m326.7-306.7h0m.1-3.6h0m-309.6 163.1h0m309.2-149.8h0m25.1 153.6h0m-11.4-74.1h0m9.8 63.4h0m-330.5-3.8h0m335.5-23.7h0m-363 137.7h0m199.9 46.3h0m-173.2-153.6h0m143 151h0m181.6-239.4h0m19.4 191.4h0m-344.9 47.7h0m322.6-256.7h0m-328.2 109.8h0m316.6-138.9h0m-322.2 279.9h0m59.4 7.4h0m287.6-186.5h0m-360.2 126.5h0m367.9-67.4h0m-369.4 113.3h0m25.5-126.7h0m319.2-103.9h0m-341.7 238.9h0m350.5-218h0m-339.4 101.1h0m319.4-185.3h0m-318.7 230.3h0m355.9 27.3h0m-328.5 54h0m333.8-63h0m-366.3 20.3h0m4.7-35.1h0m345.8-122.4h0m4.7 168.7h0m-347.4-60.4h0m10.6-79.4h0m-12.9 96.1h0m-6.1 36.1h0m.5 13.3h0m-.6-3.1h0m360.1 7.1h0m-126.4 14.1h0m-244-29.6h0m32.4-147.9h0m-7.3 48.6h0m8.3-45.4h0m326.6-24.1h0m-16.6-80.7h0m-341.3 228.6h0m21.9-69.9h0m-11 67.7h0m354.9 22.2h0m-119.6 34.3h0m105.4-228.9h0m-353.8 191.2h0m25.8-101.3h0m-14 140.2h0m336.2-231.6h0m-330.4 145h0m9-61.4h0m328.1-82h0m-334.8 86.1h0m-3.3 70.4h0m12.8-92.4h0m309.3-122h0m-326.9 242.4h0m351.2-140.4h0m-360.9 132.6h0m-3.1 28h0m349.4-240.1h0m-10.1-43.2h0m-275.6 311.1h0m-36.2-165.1h0m251.5 160.7h0m-3.2 .2h0m-243.5-169.3h0m333.2-7.9h0m0 54.7h0m9 93.1h0m-70.6 29h0m66-146.8h0m-17.6-100.9h0m-329 100.7h0m312.5-166.5h0m-327.5 229.9h0m22.6-82.9h0m331.6-27.9h0m8.5 155h0m-344.6-86.6h0m3.5-39.7h0m306.3-138.9h0m31.4 196.4h0m-24.9-182h0m-314 139.1h0m336.4-33.2h0m-364.4 155.7h0m10.7 6.4h0m341.2-226.8h0m9.4 233.7h0m-14.7-225.9h0m-322.7 87.9h0m315.3-147.2h0m-311.3 140.4h0m349.3 116.6h0m-2.9-46.2h0m-4-50.8h0m-8.2-53h0m-27.1-111.7h0m-330.8 245.8h0m22.7-78.9h0m340.1-29.1h0m.9 16.6h0m-368.2 125.1h0m349.7-235.4h0m-301.7 262.3h0m-18.2-163.4h0m-13.4 92.5h0m11.3-74.7h0m-6 36.1h0m.3-44h0m5.5-12.1h0m4.3-12.9h0m-17.5 57h0m20.5-61.4h0m305.2-118.9h0m-4.4-13h0m-326.7 226.5h0m343.6-155.2h0m-345.3 164.3h0m-3 20.4h0m22.2-75.5h0m336.7-3.3h0m-332.8-32h0m336.7 1.6h0m-336.4 15.1h0m9.9 152.6h0m-33.5-78.4h0m355.8-112.2h0m-353.1 93.5h0m326.4-207.9h0m24.7 289.1h0m-141.5 13.4h0m139.6-209.6h0m-340.7 125.5h0m352.4-55.1h0m-35.3-172.9h0m-300.5 314.5h0m137.1 2.6h0m197.3-39h0m-338.7-124.4h0m319.8-95h0m-327 103.4h0m-5.4 74.5h0m-2.3 6.2h0m12.6-88.6h0m306.5-155.2h0m-195.8 315.3h0m218.7-214.7h0m-2.7 25.4h0m-326.6 43h0m350.1 97.2h0m-22.3-133.7h0m-271.1 183.3h0m285-92.8h0m-345.8-64.7h0m340.9-23.5h0m-21.1-109.2h0m-325.6 206.9h0m-8.3-13.5h0m16.6 100.4h0m326.6-246.8h0m-9.3-40h0m-317.6 150.3h0m-1.4-4.5h0m72 137.5h0m-67.6-157.8h0m-2.4-3.6h0m-9.6 82.2h0m-17.4 57.4h0m18.5-67.9h0m342.4-113.4h0m16.9 144.6h0m-376.4 44.8h0m29-146.1h0m-3 18.6h0m193.8 138.5h0m156.4-63h0m-42.6-247.6h0m-312.4 160.3h0m6.1-10.3h0m332.2-40.9h0m-333.8 64h0m-7.1 45.6h0m-12 12.4h0m323.4 75.6h0m-16.2 4.8h0m-306 .1h0m333.5-268.4h0m5.9 3h0m-335.7 217.4h0m324.3-259.8h0m-321.7 246.3h0m2.5-69.2h0m330-103.2h0m-320.5 76.5h0m228.3 158.8h0m81.4-300.6h0m-309 137.2h0m1.6-5.8h0m318 165.2h0m7.1-231.4h0m2.4 16.6h0m-357.4 189.5h0m7.3-51.5h0m18.1-77.7h0m320.1-97.5h0m-329.6 187.8h0m335.1-148.7h0m17.9 180.8h0m-245.2 36.1h0m241.7-182.6h0m-237.2 185.7h0m-127.1-25.1h0m373-10.1h0m-8.3-144.4h0m-.5-3.7h0m-347.4 101.8h0m8.3-60.1h0m-6.7 .8h0m323.8-130.3h0m-343 239.7h0m370.5-99.7h0m-34.4-173.1h0m-323.5 289.2h0m338.5-242.3h0m-322.8 90.7h0m329.8-3.5h0m-346.3 125.8h0m15.3-98h0m312.8-145.2h0m-317.1 168.5h0m326.5-145.8h0m-10.1-41.6h0m-326.3 251.8h0m29.8 51.7h0m280.2-1.9h0m-293.4-150.1h0m306.5-158.9h0m6.2 302.3h0m-325.6-115.2h0m7.6-30.7h0m319.5-129h0m-329.3 273.3h0m360.8-26.6h0m-66.6 31.2h0m-288.6-91.3h0m-5-24.1h0m340 109.1h0m-340.6 13.1h0m13.9-153.9h0m-26.2 107.3h0m25.9-120.8h0m306.1-149.9h0m-157.6 314.9h0m164.8-7h0m-313.3 7.2h0m316.6-258.9h0m-54.5 259h0m-264.7-163.2h0m346.8 142h0m-359.8 4.9h0m17.5-155.5h0m-4.4 35.1h0m332.9 123.6h0m-19.2-288.6h0m-310.3 144.4h0m-4.5 3.8h0m-9.9 90.9h0m-14.1 44.8h0m339.8-280.3h0m34 265.4h0m-27-238.5h0m-183.3 271.1h0m196.8-197.8h0m-349.1 182h0m14.6-148.4h0m104.5 168.1h0m-116-64.7h0m171 60.4h0m76.5 1.1h0m77.9-297.9h0m-314.1 135.4h0m-23.9 117.3h0m26.3-116.4h0m291.2 160.2h0m-302.4-130h0m-16 85.5h0m14.8-78.1h0m-4.1 80.1h0m15.8-119.4h0m-1.2 2.5h0m222.6 157.2h0m51.9-1.4h0m-274.3-159.2h0m3.6 1.9h0m-7.9 11.5h0m11.4-30.9h0m329-7.8h0m-331.9 193.3h0m-8.7-117.6h0m354.5 40.6h0m-348.4-99h0m322.1-83.1h0m-319.2 93.2h0m-25.5 92.7h0m18-83.2h0m-10.7 141h0m321.4-301h0m-302.4 135.9h0m-12 76.5h0m-.1 6.2h0m3.1 91.7h0m327.7-213.2h0m12 20.2h0m-335.4 54h0m-2.1 15.2h0m-1.7 9.6h0m-9.1 54.6h0m320.1 55.2h0m-247.5 7.1h0m-60.2 3.2h0m317.1-264.8h0m13.1 43.1h0m9.7 52.9h0m-366.7 129.3h0m4 30.7h0m341.8-269.9h0m-343.5 223.3h0m10.3 7.2h0m334.8-225.9h0m-320.3 109.7h0m2.4 10.5h0m-8-1.6h0m342.1 142.3h0m-337.8-142.6h0m335.3-48.3h0m-349.9 164.7h0m93.9 36.4h0m-82.5-153h0m316.8-131.5h0m-320.6 279.3h0m-6-6.2h0m358.4-113.7h0m-17.9-114.7h0m7.7 40.7h0m9.5 72.9h0m-17.4-75.2h0m-325.5 58.6h0m310-152.9h0m29.4 126.2h0m-350.4 43.6h0m8.2-32.2h0m-6.6 74.1h0m10.3-76.9h0m-10.7 76.5h0m5.8-37.5h0m.4 125h0m-22.2-48.4h0m117.7 44.9h0m241.8-144.8h0m-333.1-2.1h0m-11 68.1h0m356 50.4h0m-345.3-141.4h0m-7.4 71.4h0m-7.8 99.8h0m78.7 2h0m269.2-205.7h0m-10.5-17.6h0m-10.9-68.6h0m33.5 230.7h0m-10.9-135.9h0m12 162.7h0m-361.6 11.5h0m8.8-79.9h0m347.1-52.8h0m-29.2-135.8h0m-160.4 290h0m165.9-262.3h0m-343.8 223h0m28.1-111.7h0m305.7-169.3h0m-306.4 163.1h0m-22.6 86.1h0m331.6-240.1h0m-2.6-5.2h0m-320.6 195.3h0m278.5 114.1h0m60.3-202h0m-353.2 181.7h0m337.2-285.1h0m17 76.8h0m-337.3 105.9h0m-1.5 119.5h0m5.7-90.4h0m-8.9-8.5h0m6.5 26.4h0m359.9 29.6h0m-351.1-105.8h0m4-9.1h0m334.4 142.9h0m-352.9-24.2h0m7.7-96h0m320.6-134h0m-332.7 192.3h0m-7.1 50.4h0m351.6-211.3h0m1.3 50.1h0m12.5 81.9h0m-353.9 101.5h0m9.7-137.3h0m344.9-13.1h0m-34.3-155.6h0m7.5 22.7h0m-338.9 250.5h0m366.3 30.9h0m-360.6-63.6h0m340.4-192.4h0m23.3 140.4h0m-33.9-168h0m-314.6 146.8h0m314.1 148.4h0m33.1-36.2h0m-358.6-63.4h0m-5.1 28.1h0m344.3-181.5h0m-2.1-14.4h0m-327.6 266.3h0m6.2-135.4h0m306.9-174.8h0m41.8 227.8h0m-361.2-32.8h0m-6.3 36.7h0m5.3-34.6h0m357-26.2h0m-157.5 144.5h0m122.4-311.1h0m-321.1 195.5h0m-.4 1.1h0m335-150h0m-331.8 134.5h0m353.5-9.2h0m-75.6 132.6h0m-267.3-159.1h0m333.6-41h0m-10.2-51.7h0m-342.2 169.3h0m139.4 90.1h0m207-229.6h0m-227.9 227.1h0m137-4.3h0m-96.4 6.7h0m191.8-16.6h0m12.8-9.2h0m-350.3-84.1h0m338.7-89.2h0m-309.2 200.5h0m15.3-3.4h0m283-261.3h0m-334.7 139h0m319.8-190.7h0m-318.8 189.3h0m335.1-130.8h0m-323.9 113.3h0m314.2-151.6h0m-308.4 113.2h0m214.5 175.6h0m-216.3-164.9h0m-4 27.1h0m-13.5 131.7h0m198.6 7.4h0m-200.6-18.1h0m358.1-122.8h0m-348.5 37.9h0m-10.6 77.8h0m18.4-128.9h0m-28.5 120.4h0m371.8-10.3h0m-356.8-20.9h0m328.3-196.3h0m12.9 42.3h0m-329.5 69.4h0m-15.3 132.9h0m145.1 21.5h0m-140.5-.5h0m77.8 1.4h0m-68.8-164.4h0m-2.5 10.1h0m-2 47.3h0m-9 83.6h0m3.5-46.6h0m214.1 63.6h0m116.5-244.9h0m-156.3 249.8h0m172.8-139.9h0m-13.6-128.5h0m-339.1 169.8h0m1.5 75h0m.5-22.7h0m17.3-124h0m-21 81h0m8.9 81.3h0m107.6 5.9h0m247.7-66.5h0m-32.2-233.2h0m-277.3 303.5h0m275.5-308.7h0m7.6 301.3h0m-24.4 1.8h0m-220.7 2.1h0m259.1-7.6h0m-348.6-99.3h0m12.4-17.8h0m-2.7-21.6h0m349.7 126.2h0m-25.3 16.4h0m-318.8-129.7h0m-8.8 49.6h0m351.5 66.8h0m-21.8-253.4h0m-311.8 82.6h0m-7.1 21.3h0m338.2-5.7h0m-338.2-1.5h0m343.7 107.5h0m-6.4-111.6h0m-304.6 181.4h0m-32.4-168.2h0m-27.3 152.1h0m344.2-239.8h0m-334.9 223.1h0m101.2 29.1h0m261.9-31.5h0m-371.3-22.5h0m121.6 56.9h0m-122.6-50.9h0m370.9-11.3h0m-359.4 7.5h0m350.9-132.1h0m-2.6 40.4h0m-80.5 142.6h0m-252.5-165h0m332.5-28.8h0m16.2 131h0m-347.9-97.3h0m-2.2 18.3h0m310-155.8h0m26 110.5h0m-311.9 188.2h0m8.9 3.3h0m-30.8-161.1h0m328.9 143.9h0m-354.9-49.7h0m9.5-49.8h0m204.2 114.4h0m-197.9-94.7h0m-7.2 49.5h0m-3.9-42.1h0m332.7-193.2h0m-324.6 149.8h0m353.9-3.3h0m-340.4-30.6h0m3.8-20.9h0m-3.8 17.6h0m306.9-135.2h0m-307.5 140.2h0m176.1 159.7h0m135.7-295.1h0m-318.3 144.5h0m-10.5 110h0m4.9-33.9h0m139.8 75.8h0m-128.9-159.5h0m1.2 163.6h0m307.1-306.6h0m-331 235.8h0m22.6-91.9h0m350.3 105.8h0m-68.1 47.7h0m49.6-9.1h0m-66.5 14h0m-29-3.4h0m95.7-149.6h0m-343.7 26.1h0m-4.8 98.3h0m14.5-98.7h0m2.8 131.7h0m-25.3-58h0m18.1-46.7h0m7.7-69.1h0m336.9 1.8h0m-17.8-101.1h0m-3.6-11.5h0m-322 130.8h0m5.3-3.2h0m-2.6 23.1h0m-13.2 22.7h0m334.2-138.9h0m-326 101.6h0m350.6 24.9h0m-370.5 90.3h0m75.6 33.3h0m257-322.6h0m15.7 52.4h0m21.8 131.4h0m-371.1 110h0m228.6 26h0m148.7-70.7h0m-33.3-216.3h0m8.9 275.3h0m17.3-137.5h0m-345.7-6.3h0m321-125.3h0m-325.1 135.5h0m344.2 16.7h0m-337.4-17.2h0m-11.1 74h0m12-78.1h0m316.7-112.4h0m-316.8 102.1h0m331.8-52.5h0m-20.6-92.9h0m31.6 287h0m-177.5 16.5h0m-180-11.5h0m327.8-268.8h0m12.8 45.6h0m-105.6 236.3h0m-214.1-184.5h0m-28.6 178.5h0m362.7-157.6h0m-340.4 25.6h0m305.7-174.1h0m-331.9 289.5h0m26.1-130.5h0m-1.8 21.9h0m-9.3 60.9h0m12-81.8h0m309.5-148.7h0m-99.1 301.1h0m129.4-153.7h0m-172.9 154.9h0m116-7h0m-288-113.3h0m-19.8 60h0m7.4 28.9h0m16.1-134.1h0m314.8-131.6h0m21.1 97.5h0m-342.5 106.1h0m8.7-77.8h0m345.1 141.4h0m-2.3-47.7h0m-351.8-64.6h0m-1 143h0m351.4-140.5h0m-366.6 130h0m183.9 10h0m-164.9-155.7h0m-7 31.5h0m334.8-136.4h0m-337.5 207.1h0m18.5-127.4h0m338.6 44h0m-337.3 134.6h0m338.8-121.2h0m-7.7-65.9h0m-240.3 190.4h0m214.1-298.8h0m-307.1 127.3h0m-3.7 35.9h0m-26.6 100h0m334.8-280.9h0m30.9 144.6h0m-295.4 172.2h0m-67.9-14.6h0m7.5-86.3h0m311.7 95.7h0m44.3-164.6h0m-341.7 12.1h0m348.4 104h0m-228.1 49.9h0m202.4-240.2h0m18.6 63.8h0m-11.3-55.7h0m-341.1 181h0m100.1 54.8h0m-85.6-153.3h0m347.5 113.7h0m-35.8-248.1h0m-312.5 138.5h0m2.6-23.5h0m5.1-13.5h0m-13 76.3h0m325.7-128.9h0m-321.2 104.1h0m308.4-179.3h0m33.3 207.9h0m-20-164.6h0m13.1 259.6h0m-335.1-147.1h0m323.3-109.2h0m-325.3 143.1h0m348.1 46.8h0m-30.4-220.5h0m-6.6-10.8h0m-318.6 178.5h0m361 59.1h0m-349.8-76h0m336.9-40.8h0m1.9 157.9h0m11.2-19.9h0m-363.3 48.7h0m335.9-219.6h0m3.5-18.3h0m-320.3 239.8h0m309.6-294.1h0m-330.3 177h0m321.8-203.9h0m-313 212.2h0m319.2-174.5h0m7.4 45.8h0m-334.9 118.9h0m320.9-201.2h0m17.5 71.4h0m-7-39.1h0m26.1 151.8h0m-18.6-109.9h0m-341.4 141.6h0m357-58.1h0m-31.6-144.1h0m-317.6 212h0m-1.1 84h0m-.5-70.4h0m138.8 76.2h0m192.5-265h0m-322.5 134.8h0m3-25.3h0m330.8-51.3h0m-90.3 203h0m-237-167h0m-32.8 140.2h0m29.4-121.1h0m316.8-101.1h0m-6.1-31.9h0m-319.1 142.3h0m2.9 25.5h0m336.2-38h0m-357 99.2h0m19-48h0m12.3-76.8h0m-22.6 159h0m13.9-105.8h0m4.2-37.2h0m330.8-39.3h0m-343.2 128.1h0m357.6-16.4h0m-348.4-67.4h0m331.3-56.9h0m-333.1 63.7h0m2.2-11.4h0m-26.6 142.7h0m358.2-192.8h0m-187.6 213.8h0m176-274.1h0m5.6 29.7h0m-323.2 74.3h0m328.6-44.7h0m-21.4-85.5h0m-300.2 300.9h0m-15.6-97.6h0m8.3-50.8h0m1.2-9.9h0m339.4 10h0m6 64.8h0m-362.7-28.8h0m8.5-29.7h0m313.5-173.9h0m39.6 283.9h0m-347-123.2h0" stroke="#b7b7b7"/><path d="m453.9 355.9h0m-.2-104h0m-369.1 108.8h0m19.2-94.7h0m-14.8 39.3h0m290.7 65.9h0m-25.3 .7h0m103-31.1h0m-24-219.4h0m19.5 121.4h0m-358.7 35.4h0m328.8-188.6h0m-330.3 199.4h0m335-190.8h0m-321.6 149.6h0m325 119.3h0m27.5-29h0m-358.4-42.5h0m-1.1-38.7h0m359.4 79.9h0m-123.5 38.7h0m-228.8-117.4h0m.8-35.9h0m346 24.4h0m2.8 23.6h0m-21.1-138.4h0m-15.1-58.4h0m31.7 158h0m-345.3 21.5h0m-5.5-6.2h0m319.6 126.3h0m-4.1 .3h0m11.1-278.8h0m-317.9 128.7h0m102.3 153.1h0m-102.2-148.3h0m302.2 141.8h0m27.7-5.9h0m-345.2-8.3h0m77.8 21h0m86.3 1.3h0m183.4-206.6h0m10.1 60.8h0m-359.5 57h0m19.4-64.3h0m-28.2 128h0m77.6 26.3h0m281.6-161.3h0m4.7-15.6h0m11.9 99.9h0m-332.8 77.3h0m332.1-87.7h0m-359.6-37h0m252.3 120.6h0m93.9-191.5h0m-259.5 192.5h0m269.8-109.3h0m-368.4 53.3h0m134.8 55.7h0m-136.6-11.4h0m367.4-127.1h0m-27.4-145.5h0m.7 13.6h0m24 242.6h0m5.9-37.1h0m-347.4-69h0m335.7-59.7h0m-359.7 165.1h0m22.4-122.2h0m316.8-146.5h0m-339.2 258.7h0m10.2-67.4h0m-1 77h0m341.3-213.3h0m21.9 146.3h0m-232.6 95.5h0m208.9-258h0m1.6 16.1h0m-325 90.5h0m344.4 31.6h0m-342 119.7h0m308.1-307.2h0m32.6 171.7h0m-306.9 136.3h0m-47.5-116.5h0m350.9-48.9h0m-346.7 72h0m343.6-42.1h0m-342 137.5h0m-8.4-111.9h0m10.6-35.9h0m324.4-122.9h0m-324.3 120.7h0m.3-2.8h0m331-76.1h0m-335 91.1h0m3.8-17h0m-7 31.1h0m324.5-171.3h0m18.7 86.2h0m-166.6 205.1h0m-173.4-136.1h0m173.7 139.1h0m173.1-114.5h0m-340.5-44.5h0m348.2 122.9h0m-35.8-260.7h0m19.9 82.6h0m-341.7 94h0m-2.3 52.3h0m354.1-35.9h0m-10.4-109.9h0m14.9 162.2h0m-117.3 46.1h0m-231.4-123.7h0m-19.5 64.6h0m29.4 66.2h0m-7.7-165h0m312.9 154.7h0m-338.2-23.2h0m353.9-194.3h0m-331.1 99.5h0m68.3 125.5h0m221.6-2.4h0m-287.1-155.2h0m241.1 152.9h0m-60.8 5.2h0m-186.2-143.2h0m111.8 142.3h0m233.7-172.8h0m-9.9-45.2h0m-207.1 217.5h0m-127.7-141.8h0m325.3-106.6h0m-320.3 106.5h0m-3.8-1.3h0m351.4 48.2h0m-32.9-182.8h0m18.4 75.7h0m-352.1 198.6h0m3.7-11.8h0m10.3-123.9h0m-14.3 67.7h0m330.6-233h0m-324.4 192.6h0m-12.1 96.1h0m23.9-139.1h0m332.5 142.3h0m-356.4-20.3h0m368.6 14.6h0m-347.3-104.8h0m-4.1-3.2h0m292.3 125h0m26.8-297h0m-217.3 301.6h0m-102.6-95h0m342.4-103h0m-13.3-73.4h0m22.8 131.7h0m-33-166.4h0m-326.3 210.1h0m104.1 93.3h0m-96.2-89.5h0m357.3 9.4h0m-227.8 82.2h0m219.6-110.7h0m0 92.8h0m-29.5-290.7h0m-310 162h0m-16.8 128.1h0m103.4 16.7h0m228.3-273.3h0m30.3 218.5h0m-164.6 52.3h0m-181.4-152.9h0m337 26.3h0m6.5 107h0m-7.9-165.4h0m-123.6 186.9h0m127-117.2h0m-362.7 61.3h0m337.7-236.1h0m9.5 35.6h0m-338.7 244.3h0m324-296.2h0m-187.5 311h0m229.8-53.8h0m-2.6 12.5h0m-51.7 36.6h0m-296.8 .7h0m305.5-1.2h0m-306.5-151.4h0m350.2 80.4h0m-32.6-207.5h0m-34.6 275.7h0m60.6-88.4h0m-31-197.9h0m28.6 141.2h0m-3.7-34.3h0m3.9 32h0m-119.8 149.2h0m-228.9-126.7h0m324.1-152h0m-326.7 159.1h0m233.5 123h0m120.6-124.8h0m0 103h0m-343.4-130.2h0m336.3-26.3h0m-197.9 180.6h0m204.3-136.2h0m-358.6 34.9h0m187 100.8h0m146.1-265.2h0m-341.1 219.7h0m23.8-108.9h0m261.7 151.6h0m-267.4-138h0m341.4 129.3h0m-341.9-96.6h0m-2.6-21.8h0m4.6-13.6h0m321.2 133.6h0m-319.9-123.5h0m328.1-78.7h0m-335.2 87.7h0m351.6 105.5h0m-285.3 20.4h0m-64.3-137.6h0m-14 72.3h0m363.4-39.7h0m-11.8-79.7h0m-20.2-121.7h0m17.3 69.3h0m-351.8 189.1h0m16-43.5h0m10.6-72.8h0m325.2-72h0m9 92.5h0m-357.6 73.6h0m341.2-203.6h0m-5.9-14.7h0m-314.4 141.6h0m324.3 138.9h0m-349.7-19.7h0m1.6-20.2h0m336-254.2h0m-313.7 144.3h0m327.6-88.8h0m-1.3-5.9h0m22.7 150h0m-5.3-52.1h0m6.2 115.2h0m-356.2-61.5h0m73.2 101h0m-87.1-60.6h0m335.9-238.7h0m-337.7 250.6h0m351.8-182.2h0m-350.7 178.1h0m367.9-31.1h0m-348.3 79.3h0m125 1h0m212.7-151.3h0m-342.8 147.1h0m36.2 4.9h0m311.6-171.2h0m-1.2-3h0m-9-48.3h0m-349.4 153.5h0m336.8-215.6h0m-314.3 129.3h0m315-129h0m12.5 65.8h0m15.3 195.5h0m-297.2 23.2h0m-74.5-29h0m352.9-207.1h0m-15.3-64h0m27.3 126.2h0m-145.9 174.3h0m-192.2-150.7h0m-2.1 20.8h0m314.9-166.3h0m-313 155.9h0m103.1 142.1h0m218.3-239.4h0m-318.4 78.8h0m321.7-95.6h0m-65.1 252.7h0m63.7-257.5h0m-40.7 256.8h0m-281.8-155.6h0m-2.4 5.4h0m340.5-21.2h0m-286.8 173.6h0m-57-145.8h0m-17.1 87.5h0m362.3 44h0m-348.1-116.7h0m324.7-157.4h0m-337.4 281.4h0m354.7-194.1h0m-.9-1.3h0m-358 166.9h0m279.9 30.3h0m-270.6-34.4h0m11.3-109.5h0m326.5-80.5h0m-323.7 75.9h0m-6.2 16.5h0m222.7 133.3h0m109-214.3h0m17.5 184.4h0m-200.7 32.8h0m-154.7-10.9h0m-1.5-29.2h0m346.9-171.9h0m-340.7 86.6h0m-7.2 124.6h0m2.1-51.8h0m53.6 56.2h0m-7.4-2.9h0m315.5-96.8h0m-362.7 58.5h0m339.1-216.2h0m-330 117.6h0m352.1 65.7h0m-307.5 74.4h0m-61.9-58.4h0m24.8-101.9h0m-16.3 142.8h0m345.4-202.3h0m-343 154.9h0m0 52.7h0m350.3-171.4h0m-347.7 104.1h0m1.6-8.4h0m-11.7 15.5h0m17.2-57.3h0m-19.1 69.2h0m337.8-231.4h0m17.8 86.5h0m-5.8-25.9h0m-339.2 157.4h0m326.5-212.8h0m-324.1 285.1h0m327.4-10.5h0m-312.1 11.7h0m-22.6-36.4h0m9.3-61.2h0m1.3-43h0m340.3-52.8h0m-338.9 73h0m350.3 86.9h0m-300.9 33.4h0m-51.4-139.7h0m341.5 120.4h0m-1.1-178.4h0m5 181.6h0m-114.1 9.2h0m88.5-281.1h0m-322.7 198.4h0m9.3-65.8h0m345.1 127.3h0m-23.2-237.3h0m16.7 249.7h0m-12.4-225.5h0m-336.9 120.7h0m-4.3 17.3h0m335.9 91.2h0m15.6-173.8h0m4.9 33.2h0m-352.2 32.1h0m317.8 110.7h0m-315.2-125.8h0m11.7 135.4h0m-11.4-91.1h0m355.4 52.9h0m-373.6 5.3h0m18.6-109.5h0m327.5-130.6h0m-333.4 215.3h0m359.2-55.8h0m-358.2 49.7h0m347.4-126.9h0m1.3 6.7h0m-19-85h0m-2.7-25.4h0m-317.7 169.9h0m63.1 122.5h0m75.2 1.3h0m182.6-281.3h0m24.4 261.4h0m-341.4-128.9h0m336 135.7h0m-256.4 13.9h0m-104.2-50h0m369.3 18.9h0m-30-261.1h0m-5.7-19.4h0m26.3 124.7h0m-16.2-85h0m-323.7 147.9h0m4.1-35.9h0m325.5-81.1h0m-328.3 94.5h0m347.6 65.4h0m-25.1-190.2h0m23.1 175.7h0m6.8 49.6h0m-37.1-255h0m-314.4 141.9h0m-6.7 67.1h0m-8-9.1h0m47 98.7h0m306.8-180.4h0m-352.7 165.7h0m14.7-134.2h0m224.9 148.3h0m-236.8-60.8h0m8.6-87.5h0m229.2 147.8h0m122.5-36.2h0m-248.4 39.5h0m230.4-219.5h0m-354.8 178.8h0m20.2-105.4h0m318.3-154.8h0m8.5 70.3h0m-336.6 172.3h0m6.2-34.2h0m-6.3 37.2h0m14.3-88.9h0m-12.1 76.3h0m-3.6 33.3h0m354.7-141h0m1.9 64.6h0m-345.8-.4h0m-13.3 29.4h0m355.1-105.6h0m-361 141h0m267.3 39.8h0m92-141.6h0m-344 16.7h0m359.4 62.3h0m-286.7 69.7h0m-82.5-81.3h0m7.7-39.3h0m322.4 110.3h0m-289.5 7.5h0m323.8-26.3h0m-350.7 28.3h0m-3.4-128.5h0m354.6 58h0m-62.2 66.7h0m-303.7-69.4h0m37.4 74.5h0m-28.5-81h0m138 80h0m3.1-.3h0m-154.8-16.8h0m20.4-132.3h0m349.1 30.9h0m-345.4-39.4h0m322-108.5h0m-8.2-20.2h0m-337 232.9h0m353.1-166.5h0m-169.4 219.5h0m-185.8-18.6h0m22.1-106.5h0m-6.5 48h0m144.6 77.6h0m-145.5-76.4h0m349.8-98.9h0m-29.2-135.6h0m16.6 101.2h0m-347.2 145.2h0m5.9-34.7h0m350.5-45.8h0m-334.8-4.1h0m30.5 150.1h0m-40.2-127.9h0m325.1-164.3h0m-316.9 134.9h0m-13.3 97.5h0m16.1-106.5h0m-3.9 16.7h0m21.5 146.7h0m-35.2-22.6h0m-3.2-56.3h0m251.1 78h0m-232.1-143.9h0m-24.4 103.9h0m24.8-121h0m-.8 10.8h0m330.2-67.4h0m-5.8-29.6h0m-10.6-42.8h0m18 78.7h0m-356.2 174.7h0m354.7-179.5h0m-.8 30.4h0m-9-65.1h0m4-1.1h0m-109 249.1h0m79.1-2.3h0m40.4-188.9h0m-4.6-23h0m-117.7 214.1h0m-228.3-24.9h0m-8 15.3h0m4.6-56.8h0m365.5 4.2h0m-360.5-36.4h0m346-106.2h0m-339.1 106.1h0m319.1-200h0m-.5-5.1h0m-331.6 234.5h0m48.3 76.1h0m-27.7-159.4h0m310.9-142.4h0m-313.7 158.1h0m313.8-158.7h0m-314.7 177.9h0m.8-29.3h0m323.5-90.3h0m-327.3 131.3h0m346.8-2.6h0m-335.6 115.1h0m338.2-146.9h0m-359.2 115.1h0m342-211.2h0m-326.8 90.5h0m-3.7 3.1h0m341.2-39.6h0m-1.4-14h0m-86.8 195.3h0m13.1 3.5h0m63.5-249.5h0m-8-17h0m-329.8 210.9h0m363.5 13.4h0m-36.5-239.3h0m-270.6 285.6h0m-54.8-10h0m-8.7-62.3h0m34.9 72.8h0m-14-4.3h0m-1.4-149.7h0m-5.5 14.5h0m318.1-155h0m-170 293h0m202.7-122.6h0m-12.7 113h0m-340.5-122.4h0m23 130.3h0m221.8-.8h0m-245.7 1.6h0m7.6-134.5h0m332.3-77.7h0m-328.8 63.9h0m312.4-146.6h0m-315.5 140.4h0m345.9 129.8h0m-17.1-176.6h0m-332 81h0m309.6 112.8h0m-304-137.8h0m-.2-3.2h0m307.8-165.3h0m-310.4 173.6h0m-4.4 32.8h0m313.3 99.5h0m26.5-147.3h0m-354.7 147.4h0m19.5-146.1h0m2.1-.6h0m349 74.5h0m-350.1-76.2h0m-1.4-.2h0m331-33.9h0m-120.9 189.4h0m-163 .2h0m-54.3-127.3h0m348.3-43.3h0m-.4-.3h0m-142 171.2h0m-194.9-154.5h0m-25.8 105.8h0m337.6-242.2h0m18.7 126.1h0m-347.3 121.9h0m-4.9-33.3h0m17.4-77.4h0m6.1 152.2h0m-5.9-152.9h0m-3 150.6h0m5.6-147.6h0m-1.6 14.7h0m1.8-16.5h0m343.1 24h0m-332.6 128.2h0m316.7-227.6h0m12.4 69.9h0m-342 2.6h0m-10.8 46.4h0m331.3-150.9h0m27 143.9h0m-370.8 83.7h0m25-128.1h0m-6.8 23.1h0m-5.3 24.6h0m328.3-171.6h0m-5.2-14.9h0m-329.6 223.7h0m17.2 74.1h0m-13-12.7h0m-5.2-56.7h0m10-10.9h0m-.3 2h0m327.6-203.8h0m-338.4 216.2h0m9.4-2.1h0m4.9 71.8h0m337.5-177.1h0m-355.3 155.5h0m12.6-47h0m6.5 63.1h0m161.2 4.7h0m156.3-293.5h0m-212.3 291.6h0m239.2-163h0m-7.8-51.7h0m-14.8-73.9h0m-206.2 288.5h0m5.1 .2h0m-118.9-129.2h0m-2.3 24.2h0m330.7-139.3h0m-328.5 123.5h0m338.2-74.7h0m14 158.8h0m-352.9-107.8h0m325.3-93.9h0m-337.6 143.3h0m-4.6 30.6h0m21.7-87.2h0m-6.2 149.7h0m346.9-12.9h0m-347.9-119h0m3.6 11.6h0m236.1 121.9h0m-242.7 1.2h0m124.7 1.9h0m-122.5-96.4h0m-.8 6.1h0m344.3-53.1h0m-360.8 102h0m368.7 18h0m-353.7-105.6h0m353.4 32.9h0m-19.8-158.2h0m-336.4 243.3h0m352.7-154.5h0m-11.2-59.3h0m-333.1 224.7h0m323.8-276.6h0m-333.6 219.5h0m327.5-241.2h0m33.2 238.1h0m-172.9 56.1h0m8.3 2.7h0m166-91.6h0m-363.8 57.4h0m342.7-198.4h0m-343.8 141.4h0m5.1 26.7h0m283.6 58.7h0m-281-1.1h0m-15.1-38.4h0m159.4 43.5h0m-26.9 .4h0m-112.5-111.6h0m-5-12.7h0m320.2-177.2h0m-249.4 304.8h0m-60.6-156.2h0m350.4 98.5h0m-213.3 56.3h0m-163.4-18h0m39.3 16.5h0m301.1-277.4h0m-313.5 118.3h0m-12.4 42.8h0m359.7 77.9h0m-8.2 10.7h0m-346-118.3h0m351.8 118.3h0m-7.9-148.3h0m-13.3 165.3h0m-342.5-75h0m-3.2 79.7h0m-4.9-13h0m18.4-80.2h0m357.6 33.8h0m-365.1 12.2h0m349.4-93.5h0m-80.7 141.9h0m-209.5 4.9h0m273.1-278.5h0m9.8 50.6h0m8.3 41h0m5.5 38.6h0m-19.1-116.5h0m-335.4 264.5h0m359.9-28.4h0m-364.5-56.3h0m334.2-202h0m-342 263.3h0m333.6-287.8h0m41.3 235.2h0m-364.9 57.8h0m148.6 20.5h0m167.8-4.8h0m32.2-199.7h0m-24.2 199.2h0m-324.3-36.9h0m358-103.9h0m-345.6 21.8h0m-22.6 83h0m21.3-78.5h0m2.1 119.9h0m341.4-164.8h0m-252 165.4h0m102.8-5.1h0m120.9-301.5h0m-313.5 171.5h0m327.2-113h0m-341.9 242.6h0m-9.2-18.3h0m1.1 2.4h0m15.9-61.8h0m-.7 2.5h0m336.7-159.6h0m-9.7-49.2h0m-52.9 281.6h0m79.4-127.5h0m2.5 85.8h0m-353-92.3h0m215.9 139.3h0m119.5-193.7h0m-8.9-63.4h0m24 236.9h0m-145.2 17.2h0m-174.1 3h0m-23.1-144.9h0m-24.3 134.6h0m354.7-200.8h0m11.3 113.4h0m-354.7-19.4h0m329.4-164.8h0m-2.6-6.1h0m-264.9 290.9h0m-62.8-63h0m353.9-93.2h0m-17.3-99.3h0m-324.9 99.7h0m57 153.1h0m283.1-160.8h0m-346.8 29h0m359.2 82.3h0m-7.6-41.8h0m-56.8 85.4h0m-302.7-85.1h0m1.1-15.8h0m345.1-111.3h0m6 207.2h0m5.7-139.8h0m-341.4-9.8h0m323.3-94.1h0m22.7 149.7h0m-5.9 75.3h0m-28.1-260.4h0m-337.9 269.8h0m336.4-286.2h0m-304 309h0m-21.1-110h0m9.6-4h0m318.9-177.5h0m24.4 169.2h0m-358.1 38h0m334.9-205.7h0m-334.7 207.6h0m3.8-24h0m-4.1 23.7h0m365.5 29.9h0m-368-14.8h0m352-149.9h0m8.1 193.3h0m-343.3-120.6h0m337.1-69h0m-335.6 90.1h0m310.4 113.9h0m-116.5 7.5h0m155-75.6h0m1.6 42.8h0m-167.5 33h0m111.5-2.9h0m53.6-119.7h0m-351 16.7h0m286.6 99.5h0m-302.1-50.8h0m304.8 54.2h0m27.1-305.3h0m-317.5 213.9h0m345.4 81.3h0m-336.5 10.9h0m-27.1-19h0m325 13.9h0m35.5-187.1h0m-11.2-63.6h0m-323.4 111.4h0m-5.3 33h0m224.5 112.5h0m-140.3 3.2h0m249.4-228.1h0m-334.2 82.1h0m317.1-151.8h0m20.2 82.6h0m-286.6 212.5h0m77.8 2.1h0m-122.5-142.2h0m312.5-160.6h0m-234.1 303.3h0m-93-51.8h0m327.3-250h0m-327.2 245.8h0m-10.3 15.2h0m12.3-77.7h0m12.7-42.6h0m312.4-131.8h0m-135.8 291.3h0m-175.1-158.3h0m310.2-137h0m-314.9 153.4h0m-10.6 131.1h0m7.4-129.7h0m-11 104.4h0m359.8-105.7h0m-10.6-69h0m-351.6 205h0m46.6 4.8h0m-47.4-69.9h0m345.2-175.9h0m-333.9 120.5h0m266.4 123.9h0m-259.4-154.8h0m-7.6 72.7h0m.6-41.8h0m348.7-30.9h0m-340.4 12.2h0m-5.5 38.7h0m352.7 4.1h0m-5.1-52h0m-45.9 150.7h0m22.4-275h0m-52.9 272.4h0m-272.3-126.6h0m1.7-14.4h0m.4 143h0m-3.4-90.2h0m327.7-183.8h0m9.3 52.6h0m-78 219.8h0m9-.3h0m-80 5.9h0m-184.3-147.3h0m1.5-4.6h0m-13.3 113.8h0m-1.3 34.7h0m16.4-136.8h0m-16.2 50.7h0m19.8-76.1h0m312.4-130.5h0m15.3 112.5h0m-352.1 175.8h0m135.8 9h0m206.3-273.1h0m-319.7 118h0m-4.8 39.2h0m346 8.8h0m-7.9-94.4h0m-2 29.4h0m-24.3 163h0m35.9-127.5h0m7.8 88.6h0m-371.3-27.4h0m339-205h0m-326.3 182.3h0m331.4 85.7h0m20.6-11.7h0m-315.5 24.8h0m284.1-298.7h0m1.2 5h0m-294 290.9h0m-25.6-139.9h0m-9.8 37.5h0m-7.6 49.5h0m352.2-170.1h0m-205.6 225h0m189.4-293.8h0m31.6 269.1h0m-351.1 18.8h0m-18.1-35.1h0m84.3 39h0m227.3-1.9h0m-311.4-44.7h0m281.1 41.5h0m-274.8-76.5h0m330.8-218.5h0m-216.3 302.2h0m64.2-3.8h0m178.4-172.5h0m-1.6-10.5h0m-348.4 177.7h0m1.4 1.2h0m347.6-169.8h0m-2.7 165.8h0m-27.4-307.1h0m29.9 305.1h0m-25.8-282.8h0m-1.3-5.4h0m-310.9 150.1h0m-23.5 99.6h0m349.4-184.9h0m-265.3 235.1h0m260.6-267.7h0m-336.9 230.8h0m13.3-93.5h0m316.3-163.2h0m35.9 250.8h0m-1.2 4.6h0m-6.2-108.2h0m-356.2 38.3h0m-1.5 94.6h0m322.1 10.6h0m23.1-213.3h0m-332.6 86.5h0m.2 8h0m341.8 108.4h0m-340.9-132.8h0m-6.4 56h0m320.3-209.5h0m-253.6 299.8h0m250.8-307h0m-19.7 304.4h0m-197.8 5h0m-116.4-19.4h0m7.5-76h0m10.8-44.1h0m6.2-8.6h0m-25.8 119.8h0m368-117.4h0m.7 125.2h0m-116.1 13.8h0m66.9 2h0m-305-4.9h0m335.2-209.9h0m2.5 205.5h0m24.1-57.8h0m-36.6-215.7h0m-312.8 118h0m313.8-123.1h0m32.9 197.5h0m-23-159h0m2.7 23h0m19.8 133.9h0m-347.2-47.4h0m343.6 122h0m-77.3 18.7h0m-290.4-11h0m370.4-50.7h0m-351-54h0m326.3-147.5h0m-336.3 214.2h0m9.4-94h0m279 138.8h0m-294.2-65h0m355.1-126.2h0m-7.7-35.5h0m-351.3 185.9h0m374.1-28.4h0m-26-182.8h0m23.6 159.7h0m-29 88.8h0m-319.9-125.8h0m288.4 128.8h0m53.9-148.6h0m-22.2-106.1h0m-323.4 113.2h0m351.5 46.8h0m-369 39.1h0m172.9 60.5h0m-101.6 .9h0m39.8 .3h0m-101.8-64.1h0m148.8 65.9h0m-134.2-160.4h0m308.1-148.5h0m-323 247.7h0m-.5 1.6h0m11.4-66.8h0m324.9 114.5h0m-2.4-241.6h0" stroke="#bfbfbf"/><path d="m167.6 379.1h0m109.5-3.9h0m16.5 1.5h0m-186.8-140.1h0m319.1-144.1h0m-331.1 272.3h0m345.5-200h0m-353 201h0m19.2-112.9h0m-14.1 99.5h0m355 11.5h0m-155.7 10.8h0m-150.7 4.3h0m289.3-272.1h0m-337.5 240.8h0m350.8-159.5h0m-340.9 58.5h0m350.4 91.3h0m-359.1-57.7h0m292.2 91.2h0m57.1-192.1h0m-341.8 67.2h0m337.7-86.2h0m-54 213.8h0m-282.2-135.8h0m338.7-67.7h0m-338.2 100.6h0m-13.1 37.8h0m-5.6 26.4h0m82.3 41.4h0m277.8-191.6h0m-10.5-52.6h0m-333.3 116h0m119.2 129.6h0m-34.2 .6h0m-75.6-160.1h0m-13.7 91h0m3.2-57.2h0m174.9 122.4h0m173.9-157h0m-353.7 60.4h0m9-19.2h0m318-177.4h0m-323 210.5h0m105.7 84.1h0m247-139.6h0m-347-.5h0m248.7 138.4h0m-244 .8h0m199.4-2h0m124.5-251h0m1.5 41.8h0m-341.6 122.5h0m367.4 33.8h0m-363.1 55.4h0m-7.1-6.3h0m343.8-209.4h0m-326.6 66.9h0m-14.5 101.4h0m6.4-69.4h0m325.9-160.9h0m-203.4 280h0m-116 0h0m344.9-148.9h0m.9 11.5h0m-344.8-11.6h0m-8.1 31.9h0m353.2-22h0m-358.4 84.8h0m359.7-69.5h0m-19.9-124.1h0m-127.3 243.5h0m140.8-169.1h0m-264.5 172.3h0m-87.4-2.4h0m3.1-108.2h0m253.4 108.2h0m-13.4-2h0m-231-127.8h0m339.6-43.3h0m-345.9 83.9h0m4.2-36.2h0m335.4-81.1h0m-3-10.8h0m11.5 100.1h0m-26.1-169h0m7.4 23h0m-324.7 266.5h0m340.3-140.4h0m-21.8-146.5h0m-332.8 257.9h0m-7.6-1.1h0m20-93.9h0m1.7-20.2h0m196 140.7h0m-120.3 2.3h0m-91.3-69.3h0m188.2 67.2h0m141.5-304.3h0m-31.1 300.9h0m59.1-160.7h0m-361.4 116.3h0m347.2-199.2h0m13.8 80.4h0m12.8 121.9h0m-19.6 33.6h0m-346.4-34.2h0m336.7-198.6h0m-327.2 131.1h0m333.7-109.9h0m-330.4 86.1h0m-22.1 102.9h0m362.9-131.2h0m-5.2-36.8h0m-154.3 204h0m151.7-210h0m.5 32.7h0m-7.7-80.8h0m-52.9 255.7h0m47.8-275.8h0m23.8 245.2h0m-365.4-14.1h0m364.3-104.2h0m1.9 19.6h0m-102.2 126.6h0m59.3 1.1h0m-308.2-87.1h0m141.5 91.9h0m-155.3-53h0m336.9-229.4h0m-316.4 283.3h0m312-307.2h0m12.1 47.7h0m-339 239h0m6.3-99.7h0m-4.4 68h0m.5-51.8h0m-1 86.3h0m-7.7-36.9h0m364.6 21.8h0m-9.9-177.2h0m-350.6 130.2h0m359.8-69.2h0m-129.6 146.3h0m135.8-55.4h0m-350.1-93.4h0m-13.5 132.5h0m.9 .2h0m.3-29.7h0m347.6-162.5h0m-11.7-40h0m-265.2 249.3h0m-61.9 .2h0m3.9-141.3h0m-8.9 68.5h0m352.2 43.7h0m-355.5-66.2h0m352.5-83.5h0m-354.4 146.9h0m12.1-112h0m323.7-116.3h0m-323.7 143.5h0m320.8-166h0m-319.7 149.7h0m345.1 27.4h0m-94.8 100.6h0m-251.5-130.6h0m350.7 103.5h0m-347.3-120.1h0m-5 16.6h0m-8.5 132.5h0m65 2.5h0m294.8-26.3h0m-2.4-109.4h0m-359 115.9h0m7.9-72.2h0m341.9-103.4h0m-341.1 195.6h0m347-163.4h0m-199.3 164.2h0m-48.1-1.1h0m162.8-5h0m-275.2-2h0m17.2 8.4h0m68.1-1.2h0m117.8 .6h0m163.7-106.6h0m-366.7 43h0m11.2 58.5h0m98.7 4.4h0m134.9-4h0m96.6-261.5h0m-131.1 263h0m-145.5 5.1h0m-32.2-2.9h0m172.8 .5h0m144.3-188h0m-335.3 78.7h0m341.2-78.6h0m-339.3 48.2h0m79.9 139.4h0m-82.8-105.6h0m347.1-48.1h0m-357.8 67.2h0m222.2 83.4h0m-41.4 1.9h0m-92.8 1.5h0m-82.9-70.5h0m332.2-199.8h0m3 12.2h0m-4.8-5.9h0m16.8 74.4h0m-5 177.5h0m-354.9-10.4h0m291.6 20.2h0m55-241.1h0m-333 127.9h0m-7.4 110.9h0m3.7-42.2h0m344.9-139.2h0m-14.7-105h0m-326 209.2h0m6.9-62.9h0m321.9 139.6h0m18.8-171.6h0m-5.7-33.1h0m-354.5 190.7h0m19.8-112.5h0m350.5 65.2h0m-350.2-76.4h0m2.5 1.6h0m207.8 140.1h0m106.2-7h0m-330 5.4h0m290-2.8h0m-180.2 5.5h0m250.2-133h0m-356.1 124.4h0m353.9-141.2h0m-344.7 28.1h0m158.4 120.1h0m-165.5-112.7h0m325.5-176.7h0m-257.3 293.3h0m148.1-3.3h0m107.3-294.2h0m-337.3 256.6h0m369.6-46.8h0m-362.4 57.8h0m8.8-55.7h0m1.8 84.1h0m317.4-307.1h0m-329.2 232.4h0m17.9-77.6h0m345.5 125.1h0m-280.8 26.2h0m221.3-2.4h0m-82.5-.8h0m76.5 .8h0m65.3-38.2h0m-347.8-101.1h0m330.6-60.5h0m-340.6 193.8h0m324.2-295.4h0m37.2 266.7h0m-372.5 14.2h0m20.7-119.2h0m-8.9 32.5h0m361 23.2h0m.3 1.5h0m-14.5-103.6h0m-348.9 173.4h0m-4.5-54.8h0m2.4 37.7h0m331 28.1h0m-320.8-97.4h0m-6.6-.7h0m8.4 103.9h0m-12.6-81.2h0m330-218.2h0m-317.9 164.5h0m-1.2 2.3h0m6.4-22.1h0m-23.9 125.8h0m357.2-170.8h0m6.5 80.2h0m2.7 99.5h0m-345.5-115.2h0m-21.1 102.6h0m347.3-225.6h0m25.1 169.3h0m-248.6 89h0m227.7-12.9h0m7.4-181.6h0m-354.9 127.2h0m5-31.7h0m11.3-20h0m3.5-33.8h0m346.6 46.4h0m-369.4 58.8h0m12 37.9h0m346.1-180.9h0m-30.8 182.5h0m23.1-221.7h0m-325.3 227.6h0m-14.8-57h0m13.2 56.5h0m336.3-183.5h0m-95.2 182.8h0m83.9-242.4h0m-117.6 243.3h0m-215-99.3h0m335.7-122h0m-350.3 171.1h0m363.5 34.3h0m-355.7-52h0m358-24.8h0m-1-43.1h0m-20.6-126.6h0m3 24.5h0m20.6 164.1h0m-119.7 70.4h0m-226.9-144.6h0m330.9-68.8h0m-313.6 217.4h0m316.3-201.3h0m3.2 184.1h0m3.5-100.4h0m-83.9 113h0m65.8-.6h0m-139.3 3h0m-97.4 4.7h0m-65 .1h0m300.5-270.8h0m1.4 1.2h0m-318.8 266.8h0m188.8 .6h0m-92.7-.6h0m-109.9-110.1h0m-6.5 29.4h0m13.6 82.7h0m-8.9-65.3h0m339.2-173.2h0m-334.1 112.6h0m355.2 89.4h0m1.5-5.5h0m-349.3-104.5h0m-19.6 83.1h0m358.1-105.5h0m-289.2 169.3h0m273.7-230h0m16.9 70.2h0m-336.5 157.2h0m14.4 .5h0m16.6 2.4h0m-57.5-44.5h0m4.1-26h0m357.8 54.7h0m-246.1 15.3h0m258.6-60.7h0m-7.9-78h0m-10.8-66.1h0m-204.1 202.1h0m-144.8-75.1h0m350.1 66.5h0m-355.5-47.8h0m351.8-158.9h0m-269.6 218.4h0m-77.8-79.9h0m351.5 67.9h0m-347.5-50.8h0m326.9-234.4h0m-318.2 161.4h0m339.3-18.7h0m-16 147.3h0m-328.5-81.3h0m179.9 84.7h0m-192.4-7.2h0m373.3-39.4h0m-7.2-45.6h0m-352.1 89.6h0m1.9-110.2h0m167.9 115h0m125.8-6.3h0m-191.8 5.7h0m217.1-298.4h0m-194.9 299.7h0m-134.1-89.9h0m-4.8 78.3h0m16.7-114.6h0m-12.4 90.9h0m355.1 21h0m-21.8-263.1h0m15.5 104.1h0m-11.9-99.2h0m-320.5 120.6h0m307.2 143.9h0m8.9-282.6h0m29.8 205.6h0m-347.4-58h0m-15.7 137.3h0m-6.4-19.5h0m17.3-106.6h0m129 132.1h0m216.8-15.9h0m-2.3-172.7h0m-81.7 182h0m58.9-287.3h0m-181.6 293.6h0m196.6-224.2h0m-26.2 219.5h0m28.2-210.3h0m-337.9 112.2h0m278.2 99.3h0m-224.6 4.6h0m297.1-135.9h0m-351.2 42.2h0m346.4-69.5h0m2.8 128.2h0m-23.6-245.8h0m.7 14.2h0m-293.4 264.2h0m24.8 .2h0m61.5-.5h0m-125.2-63.1h0m355-84.3h0m-2.8-23.9h0m-319 172.1h0m307.3-235.4h0m-27.9 231.5h0m-322.2-37.5h0m337.1-251.4h0m-288.6 292.5h0m220.4-2h0m-259.3-102.7h0m358-19.6h0m-361.6 90.9h0m348.6-142.7h0m-348.6 89.6h0m8.5-9.7h0m-14.7 80.7h0m340.4-269h0m-318.4 146.1h0m317.5-136.6h0m14 60.4h0m-344.1 154.1h0m348.6-132h0m-348.4 88.7h0m315.5 100.3h0m-314.1-62.3h0m-7.2-6h0m9.5-11.1h0m-3.3 23.5h0m190.6 57.1h0m-160.4 1.9h0m319.5-182.4h0m-348 107h0m10.2-71.4h0m-2.6 5.4h0m343.6-18h0m-109.7 155.7h0m85.8-4.2h0m-322.8-93.9h0m-2 12.7h0m100.2 91.1h0m243.3-11.8h0m-346.9 1.3h0m347.5-185.2h0m-64.3 188.6h0m42.5-290.2h0m26.9 139h0m2.6 19.7h0m-356.9 78.6h0m12.1-86.8h0m-17.9 81.8h0m342.9-165.8h0m-42.9 226.2h0m38.6-274.3h0m-316.1 276h0m309-6.2h0m-328.3-18.3h0m336.3-231.5h0m-327 128.9h0m3.9-12.9h0m3.7-9.4h0m350 75h0m-2.4-21.3h0m-67.9 91.1h0m67.4-92.7h0m-357.9 27.6h0m178.6 71.4h0m-171-145.5h0m-19.2 97.3h0m15.2-82.8h0m-16.9 105.7h0m11.9 18.3h0m.8-108.1h0m7.4-11.5h0m88.7 128h0m-87.7-144.6h0m212.8 139h0m-215.6-113.3h0m-.5 12.1h0m4.2-30.2h0m.3 2.8h0m324.3-130.3h0m15.9 132.9h0m-343.9-5.8h0m344-34.3h0m-357.8 102.4h0m7.2-40.2h0m282.2 105.1h0m-276.4-107.4h0m-2.2 22h0m354.7 15.1h0m-95.8 70.7h0m63.6-290.5h0m-318.7 175.8h0m15.7 119h0m70.7-.4h0m153.9-3.8h0m85.6-240.9h0m-343.3 190.3h0m357.7-140.2h0m-360.3 162h0m4.8-31.8h0m10-22.8h0m56.7 85.3h0m-62.5-16.9h0m66.4 19.1h0m-66.2-46.2h0m342.7-184.2h0m-331.4 96.1h0m4 130.6h0m-16.3-82.6h0m16.9-70.9h0m-13.3 50.2h0m10.9 102.8h0m-6.8-120.3h0m360.2 71h0m-11.2 25.3h0m-356.4-1.5h0m363.3-24h0m-14.5-155.2h0m-335.1 64.4h0m186.1 142.4h0m160.9-118.7h0m-310.9 118.7h0m-34-151.9h0m341.7-3.9h0m-340.8-.3h0m333.6-40.3h0m-5.5-27h0m18.2 188.8h0m-39.4 30.7h0m-327-63.3h0m4.7 18.6h0m11.9-94.3h0m323.4-111.1h0m-325.7 136h0m338.9-82h0m-349.4 108.3h0m14.7-54h0m245.9 144.1h0m-245.6-144.4h0m3.3 145.4h0m-8.7-134.5h0m356.9 70.3h0m-288.3 64.8h0m176.1-1.6h0m46.6-1.2h0m-288.6 .1h0m344.8-150.3h0m-.1 135.4h0m-23-263.9h0m2 14h0m-343.8 251.7h0m359.2-171.5h0m-337.2 47.7h0m-12.4 82.6h0m12.6-86h0m-14.7 125h0m11.9 19.7h0m-18.3-52.5h0m61.7 53.1h0m298.9-172.9h0m-16.2-67.8h0m14.6 227.1h0m-346.1-73.4h0m1.1-5.8h0m-16 64.3h0m18.4-90h0m320.6 108h0m27.9-133.5h0m-318.4 141.6h0m292.8-283.2h0m-2.9-13.7h0m17.6 283.5h0m-7.8-243.4h0m-259.6 258.7h0m-80.3-57.3h0m367 5.5h0m-24.6-179.9h0m-343.2 149.1h0m355.3-86.3h0m10.9 127.7h0m-353.6-83.9h0m323.3-149.3h0m23.1 127.9h0m-342.7-11.9h0m333.5-43.7h0m2.9 56.2h0m-21.2-143.8h0m9.1 277.2h0m-332 6.6h0m349.1-150.4h0m7 61.1h0m-354.1-43.8h0m345.9 16.8h0m-252.7 122.2h0m250.7-175h0m-348.1 53.2h0m5.4-15h0m-9.1 82.6h0m3.6-33.4h0m-1.3 13.5h0m146.2 73.5h0m180.7-287.1h0m33.5 246.6h0m-356-61.3h0m2.6-17h0m-16.7 108.5h0m345.3-237.8h0m4 46.7h0m-335.3 101.3h0m345.3-79.6h0m-155 176h0m-187.1-141.1h0m335.4-70.8h0m-303.5 214.3h0m-30-144.6h0m320-138.3h0m13.1 99.5h0m-347.2 155.8h0m343.9-199h0m-13.3-67.5h0m-330.4 205h0m16.8-60.3h0m321.9-86.1h0m24.6 174.3h0m-6.2-51.1h0m-5.6 96.1h0m-337.3-118.3h0m331.3-55.9h0m-353.2 173.8h0m342.5-263.1h0m24.3 142.6h0m-11.2-73h0m8.6 194.4h0m-10.1-203.8h0m5.4 27.8h0m-133 188.6h0m-221.5-62.5h0m221.8 65.1h0m-216-62h0m-5.3-10.7h0m334-213.7h0m22.2 109h0m-347.5 60.8h0m2.7 3.4h0m1.7-23.2h0m345.8-23.3h0m-139.7 159.7h0m128.2-192.5h0m-16.2-106.3h0m33.7 253.4h0m-352.2 47.2h0m-2.7-97.5h0m169.6 94.9h0m-175.3-45.3h0m-2.5 20.3h0m365.8-12.7h0m-33.4 30.8h0m-330.3-87.3h0m-.8 59h0m331.5-240.3h0m27.9 148.9h0m-358.3 69.2h0m346.2-147.6h0m-339.8 78h0m3.6-16.1h0m330.8-89.6h0m-31.7 228h0m-297.4-129.2h0m265.1 133.1h0m-138 3.5h0m196.8-242.7h0m-316.2 243.2h0m309.2-295.2h0m-68.1 291.6h0m-269.3-12.6h0m5.1-56.7h0m158.1 72h0m202-143.6h0m-24.2-135.3h0m-232.9 279.8h0m76.4-1h0m174.6-187.8h0m-10-48.9h0m-26.6 229.3h0m-81.7 2.9h0m112.6-213.6h0m-342.6 145.1h0m-.8-33h0m3.9 15.7h0m7.7-59.4h0m-1.3 2.4h0m337.9-41h0m-65.9 182.3h0m27.8-1.4h0m-313.3-31h0m339.2 32h0m-341.4-67.9h0m21.1 75.4h0m225.2-6.1h0m-239.4-3.3h0m11.4-144.8h0m-20.4 88.3h0m353.2-140.5h0m-6 193.4h0m15.8-128.8h0m-294.2 139.7h0m246.8-3h0m24.3-257.7h0m-322.4 129.4h0m342.4 115.8h0m3.2-124.3h0m-1.8 25.1h0m-55.7 109h0m-289.8-116.5h0m347.3 87.8h0m-367.1 16h0m9.3 15h0m341.8-231.9h0m7.2 33.7h0m-5.5-23.3h0m5 63.1h0m13.7 60.4h0m-1.5-15.5h0m-362 33.4h0m354.5-89.9h0m-341.1 34.7h0m347.4 46.5h0m-18-143.1h0m-336 150.4h0m348.5-86.5h0m-349.3 85.4h0m4.3-21.8h0m-13.7 38.4h0m345.6-175.5h0m-3.6 6h0m-215 240.9h0m-115.7-100.5h0m-6.2 42.8h0m11.7-71.8h0m-1.1 125.3h0m345.4-151.4h0m-7.3-46h0m-340.4 93.6h0m-10.2 69.6h0m5.3 29.6h0m.6-63.4h0m355.2 30.4h0m-343.5 41.9h0m-14.2-105.3h0m321.4 96.4h0m15.3-252.1h0m-57.5 253.8h0m-16.8 3.3h0m89.9-165h0m-354.1 69.4h0m90.6 97.3h0m245.8-270.4h0m11.2 67h0m12.6 84.5h0m-355.9 39.8h0m9.2-68h0m338.1 136.7h0m-17.8 1.4h0m-3.2-279h0m-54.2 283.4h0m71-165.9h0m-8.4-83.8h0m.6 .9h0m-328.1 110.7h0m-16.8 84.6h0m288.1 56.2h0m-288-56.5h0m287.5 53.3h0m54.5-238.1h0m-344.2 197.2h0m344.8-214.7h0m12.9 110.3h0m-359.4 120.2h0m358.1-170.3h0m12.2 173.5h0m-5-127.2h0m-16.8-91.2h0m-326.6 105.3h0m329.8-92.1h0m-76.8 227.6h0m84.1-190.3h0m-318.3 195h0m313.7-215.7h0m7.4 196.9h0m-245.9 20.7h0m246.1-136.9h0m-21.8-150.1h0m8.8 40.1h0m-341.5 164.4h0m37.4 80.6h0m306.5-206h0m-12.5 198h0m-325.4-109.1h0m8.6-28.7h0m342.4 120.5h0m-352.7-40.4h0m176.2 66.7h0m157.5-248.2h0m22 226.9h0m-355.9-84.2h0m1.8 24.1h0m211.3 77.5h0m-212.2-5.5h0m349.9-168.3h0m-17.6-77.2h0m-1.4-8.8h0m2.1 .2h0m.3-3.1h0m-324.4 121.7h0m-6.1 60h0m277.9 78.5h0m79.6-82.9h0m-34.8-203.1h0m-317.1 288.7h0m323.2-269.5h0m-335.6 244.9h0m331.4-263.3h0m-295.5 290.9h0m-24.3-137.4h0m214.7 134h0m-221.4-73h0m331.4-178.4h0m-326.2 145.7h0m-19.1 74.3h0m54.3 35h0m181.3-1h0m-212.4-139.7h0m313.4-158.8h0m-320.8 294.5h0m7-129.3h0m326.6-109.1h0m15.9 82h0m-79.1 155.8h0m-264.3 3.4h0m-3.3-108.2h0m352.5 32.8h0m-29.4-207.2h0m.9 14.9h0m23.4 241.4h0m2.7-9.9h0m-29.6-254.1h0m-326.3 225.1h0m230.5 65.9h0m-236.7-73.7h0m-1.9 9.9h0m4.2-22.1h0m1.5-15.6h0m358.6 79.1h0m-23.9-232.7h0m-6.2-38.1h0m-330.2 252.9h0m357.3-105.1h0m-357.6 57.9h0m14.9-64.7h0m-2.8 37.1h0m-11.3 19.8h0m338.8-131.1h0m-231.2 229.2h0m-94-132.8h0m349.2 72.2h0m-365.4-14.1h0m4.9 15.9h0m2.7-27.5h0m-14.1 50.1h0m11.6-65.9h0m-3.6 67.3h0m356-127.5h0m-352.3 152.6h0m332.7-250.6h0m-3.2 250h0m-318-141.5h0m328.6-79.2h0m13.9 116.8h0m-348.9-13.9h0m349.9 94.7h0m-349.8-91.5h0m-5.8 65.3h0m8.9-61.8h0m230.6 115.8h0m-32.1 1.4h0m153.9-94.3h0m-3.9-28.8h0m-366.1 112.9h0m8-39.4h0m20.8 53.9h0m-16.6-118.5h0m323.7-177.5h0m-320.2 187.2h0m-14.9 50.4h0m248 55.3h0m-242.3-47.7h0m6.1-35.1h0m355.4 1.8h0m-348.9-62.2h0m-7.3 64.9h0m-3.3 19.4h0m12.1-85.8h0m340-33.2h0m-18.7-79.2h0m-319.7 102.3h0m341.8 6.2h0m-353.7 148.3h0m10.8-137.1h0m203.7 138.4h0m129.2-208.2h0m-345.3 104.9h0m326.5-191.4h0m-320.4 197.8h0m.7 93.8h0m322-286h0m-325.2 198.5h0m323.1-209.2h0m-320.9 176h0m323.7-156.1h0m-333 250h0m14.9-117.1h0m102.6 149.2h0m-101.1 0h0m349.6-87.5h0m-252.7 87.8h0m252.8-86.6h0m-352.5-56.1h0m-6.9 61.2h0m8.6-60.1h0m-16.5 133.1h0m10-88.6h0m173.8 93h0m-168.2-127.7h0m-2.1 13.7h0m-3.9 24.1h0m4.8-44.3h0m318-156.3h0m-324.3 208.9h0m16.1 85.1h0m-31.3-24.2h0m364-104.7h0m-22.9-164.3h0m27.1 190.5h0m3.5 70.4h0m-306.5 30.9h0m277.7-281.5h0m10.8 83.3h0m-13-80.5h0m-320.9 157.2h0m2.7-25.1h0m-.9 21.8h0m-20.7 95.2h0m348.2-227.1h0m-3.5-12.2h0m7 36.8h0m5.4 64.3h0m11 144.8h0m-16.9 12h0m-339.1-55h0m327.2-222.7h0m-319.2 151.2h0m2.5 138.7h0m332.1-215.4h0m1.8 43.9h0m-334.1 22.7h0m-20.3 108.4h0m20.8-110.6h0m336.4-43.7h0m-333.4 31.7h0m315.5 153h0m-318.7-122.8h0m2.4 130.4h0m175.2 1.8h0m-9.9 .1h0m175.7-150.9h0m-158 150.2h0m132.4-277.3h0m-317.3 135.4h0m-14.6 55.6h0m2.4-18.7h0m334.7-141.2h0m8.2 27.9h0m1.2 .8h0m-332 67.9h0m-4.9 146.1h0m346.9-151.3h0m-1-2.5h0m-15.4-95.5h0m8.8 49h0m-10.3-58.9h0m-344.5 211.5h0m6.9 2.8h0m351-136.5h0m-19.4-95.4h0m.7 271.6h0m-325.6-116.9h0m-7.7 122.3h0m2.6-99.6h0m236.6 101.6h0m-246.2-13.7h0m350.6-212h0m.2 3.4h0m-4.6-2.7h0m-328.8 120.5h0m-15.3 48.9h0m2-17h0m18.3-79.1h0m-23.3 136.2h0m340.2-259.6h0m4.3 10.6h0m-328.8 172.2h0m-15.2 49.8h0m5.9 22.3h0m2-69h0m95 92.5h0m-83.1-144.9h0m-1.1 23.9h0m-5.3 35.4h0m157.6 84.4h0m-152.9-141.3h0m-8.9 36.8h0m358.5-22.9h0m-355.6 14.4h0m7.3-7.4h0m350.9 69.7h0m-360.7-7.4h0m353.1-102.7h0m-355.9 132.8h0m286.9 24.5h0m-153.7 4.2h0m208.6-244.1h0m-336.9 235h0m308 4.2h0m-85.6-.2h0m135.2-42.1h0m-20.1-196.1h0m-326.2 91.6h0m23.7 152h0m-26.4-141h0m339-49.5h0m-343.1 88.4h0m-4 27.7h0m-5.6 36.4h0m358.4-71.8h0m-2.5-58.4h0m-353.9 113.7h0m-.6 40.6h0m10.5-105.7h0m4.8-34h0m54.9 154h0m265-259.6h0m-321.9 109.4h0m348.1 103h0m1.7-51.4h0m2.9 28.8h0m-231.8 66.5h0m-137.8-61.6h0m343-193.2h0m-332.1 163.4h0m-16.5 66.5h0m363.3-140.1h0m-339.5 15.4h0m-18.7 81.2h0m12-57.1h0m3.3-1.4h0m1.6-10.4h0m-21.4 103.7h0m330.1 30.9h0m27.3-196.2h0m3.2 15h0m-330.9 185.3h0m165.4 .2h0" stroke="#c7c7c7"/><path d="m449.5 227.3h0m-9.9-60.5h0m5.8 32.9h0m-235.3 178.5h0m-111.6-108.4h0m108.4 108.5h0m240.3-15.6h0m-353.3-.1h0m332 8.9h0m-321-132.5h0m-8.1 56.2h0m4.3-39h0m331.5-130.1h0m-53 245.3h0m45.6-278.1h0m-287.2 283.6h0m-51.4-19.1h0m215.4 16.6h0m132.5-233.5h0m-335.9 124.5h0m24.4 112.2h0m319.9-160.2h0m-351.6 133.3h0m303.5 20.8h0m-282.1 5h0m190-2h0m-208.2-63.1h0m330.1 60.8h0m21.9-8.8h0m-334.1 14.3h0m334.2-174.4h0m-15.3-65.3h0m-122.3 237.9h0m138-164.3h0m-15.6-99.5h0m-326.6 129.2h0m85.8 137.2h0m-89.9-122.6h0m-.1-.2h0m334.5-112.6h0m5.5 225.1h0m-352.6-.8h0m18.6-128h0m-19.2 125.5h0m11.5-80.5h0m350.9-58h0m5.8 44.1h0m-361.8 95.5h0m30.5 12.6h0m-30.8-6.5h0m254.5 2.5h0m-259.1-57.2h0m339.8-202h0m-337 186.2h0m0 2.7h0m339.5-171.2h0m-331.5 134.5h0m357.8 23.7h0m-364 .7h0m356.9-27.2h0m-357.4 33.1h0m182.5 77.2h0m-179.7-3.7h0m266.7 1.1h0m36.3-1.6h0m-273.2 7.1h0m16.7 .5h0m202.4-5.9h0m-250.5-7.4h0m356.3-8.4h0m-24.5-258.9h0m-331.6 188h0m8.2-26.7h0m145 118.5h0m186.5-247.9h0m16.1 102.6h0m-360.8 81h0m14.2-54.6h0m-5.5 13.3h0m4.2-1.3h0m324.2-165.2h0m33.5 214.7h0m-287.9 58.4h0m271-199h0m-339.6 196.9h0m343.8-163.7h0m-354.5 80.5h0m357.8-59h0m-357.6 95.9h0m-.6-33.7h0m6.9-20.6h0m-1.8 19.1h0m-6.4 48.8h0m347.5 21.1h0m-335.9-106.7h0m142.9 118h0m-144.5-116.3h0m.6-4.4h0m350.2-14.2h0m-345.1 135.4h0m-12.1-64.4h0m60 65.2h0m267.9-8.3h0m-324.6-106.6h0m3.8-6.3h0m1.8-14.3h0m-18.4 105h0m292.9 24.3h0m-204.7 5.5h0m278.6-134.8h0m-360.2 93.1h0m299.4 38.7h0m-304.9-19.3h0m321 18.4h0m-313.7-84.1h0m1.8 23.8h0m330.2 55.7h0m32-76.6h0m-307.6 87h0m297.7-22.4h0m-19.9-250h0m-264.5 272.1h0m110.3-3.3h0m-184.8-51.2h0m304.1 49.8h0m-242.6 5.1h0m276.7-271.5h0m1.3 1.9h0m-326.3 157.1h0m5.5 111.2h0m-20.6-46.7h0m3.1 37.8h0m1.8-13.8h0m349.1-185.2h0m-341.8 119.1h0m.6-5.4h0m298.8 89.9h0m-270.3 5.5h0m11.5-1.9h0m315.6-43.2h0m-358.4 40.7h0m181.3 2.7h0m147.7-276.3h0m-323.6 158.8h0m344.9 102.7h0m-347.8-85h0m197.9 97.1h0m-92.8 4.1h0m59.3-3h0m-163.5-93.4h0m-13.3 81.5h0m323.5 9h0m-215.5 4.2h0m-96.7-89.7h0m299 86.3h0m6.2-2.4h0m30.3-4.3h0m4.4-182.2h0m.9-20h0m-342.7 145.3h0m1.2-39.8h0m130 106.2h0m204.4-239.1h0m-336.8 179.3h0m.2-2.5h0m211 60.3h0m127.8-235.4h0m-157.5 238.2h0m159.9-11.1h0m-334.8-113.8h0m244.3 120.7h0m-246.2-95.2h0m258.1 95.1h0m67-277.7h0m28.7 190.5h0m-169.4 91.4h0m-193.1-34h0m347.2-186.1h0m-68.6 217.6h0m63.6-219.4h0m-173.9 220.7h0m173.3-5.1h0m-346.4-5.6h0m12.7 7.3h0m359.3-73.6h0m-3.3-.5h0m-369.5 51.8h0m1.6 13.9h0m195.7 13h0m-185.1-5.3h0m62.5 6.6h0m-61.2-92h0m3.5-16h0m326.1-156.7h0m-238.6 264.9h0m-94-68.1h0m330-210.3h0m-330.2 179.2h0m-3.3 58.4h0m-3.3-12.9h0m347.6-151.1h0m-345.6 188.1h0m368-52.1h0m-363-4.5h0m-2.6-17.2h0m352.8-85.7h0m-120.3 171h0m13.1 1.9h0m-251.7-42.8h0m4.6 16.5h0m8-88h0m345.3-68.4h0m-352.8 109.1h0m349.5-122.6h0m-344.9 91.1h0m-12.4 76.9h0m4.4 20.8h0m363.4-124.2h0m-357.1 41.5h0m363.9 26.3h0m-4.1-41.4h0m-155.6 104.9h0m-201.5-85.6h0m-5.7 68.9h0m2.3-76.4h0m361.6 42h0m-281.2 53.5h0m-82.2-48.2h0m4.1-27.9h0m4.6-29.9h0m333.3-109.1h0m-167.7 215.3h0m-161.3-1.9h0m-10.9-57.6h0m8.1-70.2h0m319.9-158.8h0m18.8 91.5h0m-323.6 196.4h0m-24.3-86.6h0m-.6 33.7h0m12.2-81.5h0m-14 113.1h0m337.9-241.4h0m-337.9 237.5h0m3.2-65.3h0m96.8 90.5h0m243.3-232.2h0m2.6 12.6h0m-186 220h0m-160.4-22.5h0m354.6-147.5h0m7.6 52.2h0m-147.3 115h0m-212.5-44.3h0m358.5-84.7h0m-20.5-104.9h0m-337.4 161.9h0m321.5 67.8h0m20.4-220.2h0m-169.2 225.3h0m-176.9-67.2h0m343.7-172.6h0m-340.6 194h0m349.4-148.4h0m-354 138.1h0m268.1 53.1h0m74.2-236.4h0m-330 127.3h0m171.6 113.9h0m-104.5 .1h0m-66.8-106.1h0m-6.2 95.2h0m119.7 10.2h0m-111.2-124.6h0m-10.8 50.3h0m354.7 55.2h0m-11-210.2h0m-344.1 210.3h0m10.3-105.7h0m167 123.4h0m-173.6-3.9h0m336.5-249.9h0m-.7 20.3h0m-199.2 234.8h0m40.1 .8h0m169.5-195.7h0m-121.3 192.2h0m-57.6 3.4h0m-167-98.7h0m109 98.6h0m240.3-12.9h0m-203.6 13.4h0m216.5-78h0m-11.3-56.5h0m-353.1 121.5h0m-9.1-13.9h0m13.8-89.5h0m288.3 110.2h0m39-272.2h0m5.3 17.1h0m18.8 113.2h0m-344.5 10.6h0m132 137.9h0m-150.3-47.9h0m91 48.7h0m55.9-2.4h0m198.9-246.3h0m-196.4 247.7h0m-141.2-64.4h0m353.2-94.2h0m-34.5 153.5h0m45.7-56.9h0m-6.2 35h0m-359.5-22.3h0m358.3-81.9h0m-347.6-6h0m321.1-143.4h0m-309.6 281.2h0m334.8-141.7h0m-23.8-129h0m8.8 42.6h0m-340.2 220h0m328.4-277.1h0m28.2 153.8h0m-288.6 131.4h0m40.8-1.6h0m-5.9 1.7h0m-110.1-55.3h0m10.1-56.7h0m328.7-164.8h0m-330.4 269.2h0m-7.7-56.1h0m76.1 62.2h0m-71.9-81.3h0m350.5-102.9h0m-66.3 181.1h0m64-192.7h0m-352.5 188.5h0m11.4-99.2h0m330.3-135.3h0m.4-15.3h0m-149 256.9h0m144.9-278.7h0m14.1 77.8h0m-275.6 202.7h0m-34.7-1.7h0m-26.6-129.6h0m351.8 33.8h0m-316.3 96.1h0m-50-62.3h0m3.1-21.5h0m3.4-15.2h0m274.2 93.8h0m62.3-240.6h0m16.9 97h0m-345.1 15.4h0m84.6 132.9h0m252.1-170h0m-341.6 165.6h0m348.9-148.5h0m-352.3 85.8h0m332.8-198.7h0m-332.6 187.8h0m201.3 75.6h0m-193.6-123.5h0m311.2 121.6h0m10-277.8h0m12.4 64.4h0m-39.3 214.7h0m25.9-280.4h0m-338.9 258.6h0m19.5-105.2h0m249.6 127.9h0m97.8-122.2h0m-355.2 41.5h0m223.6 80.2h0m-233-53.3h0m364.3 19.2h0m-12.6-170.3h0m-347 194.2h0m-7.4-14h0m19.4-110.5h0m272.2 134.5h0m66.4-185.6h0m-192.9 189.1h0m176.1-273.5h0m-131.6 271h0m-125.8 3.6h0m283.4-23.4h0m-24.2-249.4h0m-105.6 270h0m127.2-143.8h0m-81.6 140.1h0m62.4-245.6h0m-328.7 247h0m-11.1-4.3h0m-2.7-48.1h0m358.8-115.3h0m-306.1 171.8h0m-35.9-.5h0m335.1-180.3h0m-339.7 75.3h0m331.5-148.4h0m-318.1 254.7h0m-12-1.4h0m2.4-126.7h0m-12.9 95h0m13.3-98.6h0m329-115.7h0m-329.5 243.4h0m-7.6-98.8h0m197.9 101h0m-163.6 1.9h0m-29.4-105.1h0m342.3-50.6h0m-345.1 152.4h0m353-101h0m-106.7 100.5h0m-251.1-53.5h0m7.1 55h0m-9.1-75.8h0m10.7-41.1h0m345.9-45.1h0m-361.9 125.5h0m15.9-66.9h0m-5.8 31.2h0m-.8-22.7h0m-8.5 79.4h0m347.3-224.2h0m-150.3 240.2h0m155.5-12.3h0m-4-197.6h0m12.4 83.4h0m-321.8 127.1h0m-26.4-117.5h0m354.3 88.6h0m-4.1-114.5h0m-24.7-139.3h0m12.9 68.4h0m-340.5 130.7h0m260 78.9h0m-71.8 4.4h0m117-5.9h0m-172.4 7.1h0m-126.4-121h0m146.2 118.7h0m-145.7-136.7h0m137.4 137h0m-141.4-99.1h0m4.3-29.2h0m320-151.5h0m21.6 145h0m-59.9 130.5h0m-291.6-89.7h0m364 26h0m-80.1 65.6h0m56-228.5h0m12.7 71.6h0m-176.4 158.6h0m-177.6-9.8h0m109.2 12.6h0m88.7-2.1h0m136.5-264.7h0m-321.8 125.4h0m-15.1 134.2h0m340.4-232.3h0m-332.4 233.7h0m331.3-241.6h0m-341.9 189.6h0m-1.2 39.8h0m352.4-166.4h0m5.3 37.2h0m-343.4 22.4h0m233.3 119.7h0m-244.9-52.8h0m8.4-32.1h0m6.2 88.7h0m320.3-285.8h0m-323.6 163.6h0m-.9 18.1h0m1.7-1.8h0m357.8 45.7h0m-48.4 56.2h0m19.3-255.8h0m-178 258.7h0m-164.5-54.8h0m123.1 55.4h0m-117.4-58.1h0m6.8-43.7h0m327-171.9h0m3.9 19.7h0m22.4 226.6h0m-358.9 23.8h0m2.2-107h0m-11.8 81h0m13.6-90h0m240 118.1h0m-253.4-22h0m213.1 23.9h0m-195.7-131.7h0m-17.8 93.5h0m6.2 0h0m50.5 38.1h0m-29.2 0h0m-21.1-17h0m-.9-12.5h0m27.4 31.3h0m-19.5-88.4h0m29.1 89h0m-25.8-109.2h0m-7.4 47.4h0m.3-5.2h0m6.4-37.6h0m-11.2 34.6h0m302.5 64.6h0m-303.8-61.2h0m145.1 65.2h0m-134-114.2h0m2.6 9.3h0m339-92.8h0m-342.8 84.9h0m-9.9 49.3h0m5.9-27.5h0m344.9-117.6h0m-301.1 208h0m-43.9-59.2h0m3.7-30.6h0m338.6-135.8h0m-350.6 189.7h0m-1 15.1h0m327.9 14.1h0m14.5-258.1h0m-340.3 253.7h0m344-226.8h0m-338.7 224.2h0m4.9-96.4h0m-12.1 85.7h0m7.5 7.8h0m242.5 14.6h0m65.7-1.4h0m-311.3-26.2h0m1.1-41.5h0m13.1-60.2h0m342.9-2.2h0m-7.8-78.7h0m-338.1 91.6h0m-16.3 88.9h0m276.8 26.8h0m-198.4 6.6h0m-64.2-118.2h0m344.5 106.3h0m-344.5-78.7h0m345.8-95h0m-347.3 76.6h0m88.9 108.5h0m245-257.2h0m-49.1 253.2h0m-210.8 4.3h0m-84.9-44.6h0m8.7-24.2h0m339.8-166.3h0m-145.6 231.3h0m-203.9-43h0m230 42h0m29.3-1.2h0m-185.7 4.3h0m272.7-10.4h0m-332.1-86.7h0m337.2-124.6h0m-331.7 91.4h0m-11.8 52.6h0m365.4 8.5h0m-362.7-30.7h0m344-106h0m-353.6 163.3h0m357.4-145.1h0m-38.5 183.9h0m-64.6 1.8h0m87.2-262.5h0m14.9 75.2h0m-346.7 182.6h0m338.7-228.7h0m-169.6 234.1h0m-179.6-15.5h0m66.8 18.4h0m-51.5-123h0m147.1 122.2h0m173-8.6h0m-161.9 6.7h0m-172.2-53.8h0m234.3 51.5h0m114.9-222.6h0m9.7 56h0m-267 170.2h0m-82.7-106.1h0m347.9-82.1h0m15.1 126.5h0m-356.3-57.7h0m340.8-71.3h0m-344.8 186.7h0m6.3-125.6h0m329.1-107.4h0m-325.4 235.8h0m334.7-182.7h0m-346.4 72.9h0m356.3 83.6h0m-351.1-99.3h0m-3.5 34.4h0m351.1-52.9h0m-355.3 135.7h0m-.5-40.1h0m273.9 44.5h0m-266.4-115.9h0m330.2-129.2h0m-199.7 251h0m-143.8-59h0m370.1-13.8h0m-354-55.9h0m-13.2 88.9h0m.3-2.1h0m77.7 42.8h0m260.1-7.7h0m-.4-3.5h0m-338-64.9h0m333.6-210.4h0m-283.5 284.8h0m-48.3-50.8h0m8.5-54.5h0m-1.5 100h0m328.4-260.3h0m-341.7 217.7h0m344.7-204h0m14.2 111h0m-17.9-125.6h0m-332.7 263.5h0m340.6-226.6h0m-200 228.8h0m-130.7-140.7h0m-.4 13.4h0m293.1 124.1h0m-303.4-51.4h0m60.5 55.4h0m-49.4-2.3h0m275-1.1h0m72.4-35.2h0m-358.7-25.8h0m.2-27.3h0m.7 32.2h0m221.7 55.8h0m-222.3 .3h0m-3-24.7h0m334.9-246h0m-2-13.1h0m-332.7 264.7h0m-.9-10.6h0m339.3-221.1h0m19.6 105.2h0m-290.9 148.9h0m-66.9-74.8h0m5.2-3h0m-5.9 46.7h0m5.8-41.4h0m-11.2 49.5h0m7.5-31.3h0m338.4-196.9h0m-328.2 118.6h0m-6.3 53.4h0m134.5 78.5h0m199.2-247.7h0m-336.9 190.4h0m-.7 44.3h0m69.5 13.8h0m-60.7-107.2h0m-3.8 31.7h0m-2.5-27.9h0m7.6-25.7h0m4.5 128.7h0m195.5-2.6h0m133-225.3h0m-2.1-11.7h0m-343.2 211.3h0m2.9-62.3h0m357.6-46.7h0m-354 29.7h0m333.5-134.7h0m15.2 72.7h0m-219.9 168.9h0m217.5-185.1h0m-9.7-50.2h0m-327.1 92.7h0m243.6 139.3h0m-26.3 .6h0m-221.3-119.3h0m342.8-55.8h0m-206.5 179.6h0m202.2-201.9h0m-16.3-78.2h0m-293.6 280.8h0m111.2-.7h0m202.6-180.9h0m-352.6 133.4h0m-1.3 18.6h0m38.9 28.7h0m-19.9-2.1h0m-11.2-96.8h0m1.8-6.1h0m113.6 104h0m232.4-161h0m-350.5 59.1h0m4.4 102.3h0m338.8-181.3h0m-344.1 110.4h0m28 70.9h0m-23.1-121.1h0m295.7 115.6h0m55.4-129.7h0m-15-91.3h0m-10.3-50.8h0m-319.7 134.9h0m-10 70.5h0m346.2-126.3h0m-338 197h0m-17.6-49.7h0m168.7 51.2h0m193.7-149.5h0m-358.7 122.9h0m344.1-205.6h0m-142.1 229.5h0m-141.9 2.3h0m274.4-276.1h0m18.3 91h0m-.7-4.2h0m-351 160.1h0m31 31h0m321.8-182.4h0m-51.8 175h0m-53.6 3.9h0m107.2-168.8h0m-356.7 100.8h0m12.9-48.7h0m341.8-62.7h0m-338.1 38.9h0m68 143.7h0m-81.9-24.1h0m346.9-186.8h0m-340 92.9h0m325.2-169h0m-332.9 249.9h0m14.4-108.4h0m-1.4 22.6h0m-7.2 34.8h0m-5.4 72.8h0m337.5-252.8h0m-332.3 164.7h0m350.8-56.3h0m-345.2 32h0m-6.2 20.9h0m5.8-9.6h0m270.8 112.1h0m36.4-3.4h0m-322.2-43.6h0m24.3 50.9h0m-10.3-109.6h0m341.5 98.3h0m-6.6-.7h0m-2.3-223.3h0m-343.5 194.4h0m2.8 27.1h0m179.8 12.9h0m157.8-260.4h0m-335.9 196.7h0m335.2-180.7h0m-325 113.6h0m173.3 128.8h0m161.1-178.6h0m-13.7-92.9h0m11.5 261.8h0m15.7-109.4h0m-354.1 8.5h0m357.1 60.1h0m-22.6-183.4h0m-288.4 237h0m-52.7-48.1h0m-9 21.1h0m349.7-195.9h0m-121.5 219.2h0m142.9-103.9h0m-36 101.9h0m-324.2-55.1h0m4.5-39.2h0m65.3 98.7h0m-66.6-111.8h0m120.4 111.3h0m-113.3-131h0m-12.5 91.4h0m-.6 1.4h0m352.2-111.7h0m12.3 115h0m-11.1 17.6h0m-314.9 18.5h0m329.4-48.2h0m-364.4 40.6h0m10.8-122.8h0m-20.9 102.2h0m10.9 20.1h0m361.8-74.8h0m-179.3 82.1h0m-176.4-121.4h0m342.8-24.6h0m-84.5 141.4h0m-259.9-97.4h0m310.8 98.3h0m31.3-186.8h0m-13.7 185.1h0m-344.1-23.3h0m13.5-85.3h0m26.9 114.4h0m301.7-267.9h0m3.1 1.8h0m-294.7 265.9h0m104.3 .8h0m212.5-24.7h0m-69.9 20.9h0m65.1-127.2h0m-14.9-122.3h0m-328.4 122.6h0m356 76.8h0m-374.5 33.1h0m229.1 18.9h0m111.6-272.8h0m-323 273.7h0m55.3 1.8h0m-55.5-137.4h0m-15.7 121.6h0m368-17.1h0m-16.4-182.7h0m-333 74.9h0m-17.5 130.8h0m11.8-106.6h0m-5.9 106.1h0m7.1-117.9h0m234.6 125.1h0m78-5h0m-298.3 8.6h0m326.4-202h0m-15.7-79.8h0m23.1 253.6h0m-348.6-79.9h0m322.1-185.9h0m11.5 55.3h0m-331.1 116h0m-14.5 65.5h0m4.4-28.9h0m-.2 26.5h0m350.9-128.6h0m-16.3-78.6h0m-326.7 138.1h0m272.5 124.3h0m-276.4-65.9h0m5-57.6h0m97.9 125.7h0m-91.9-.8h0m-7.9-117.5h0m-2.6 114.8h0m.5-86.8h0m314.2 86.4h0m-217.3 4.3h0m234.5-257.3h0m-342.1 206.8h0m348.9 42.7h0m18.8-67.6h0m-19.4 67.6h0m19.2-69.8h0m-359.6 10.6h0m1.3-6h0m331.8-197.2h0m-318.9 269.7h0m260.9-2.3h0m-278.2-17.1h0m365.9-21.3h0m-148.2 38.1h0m-206.3-126.8h0m-17.8 113.9h0m195.4 15.4h0m178.1-45.4h0m-25.3-191.4h0m-339.6 228.7h0m56.5 10.1h0m-54.3-100.5h0m66.9 100.7h0m285.5-155h0m-357.6 72.7h0m270.1 77.9h0m87.8-113.4h0m6.7 20.5h0m-182.7 95.7h0m-173.7-115.3h0m325-170.5h0m-.8-.5h0m9.1 39.4h0m-333.5 144h0m336.7-122.4h0m-347.6 215.4h0m4.9-75.8h0m-.5 35.9h0m267.8 44.6h0m-269.9-22.1h0m359.5 8h0m-357.4-30.5h0m334.7-215.1h0m1 4.5h0m5.6 21h0m-331.5 238.9h0m-5.7-106.9h0m4.5-3.1h0m333-122.3h0m-8.2-42.7h0m-206.7 274.8h0m-127.4-14.2h0m338.8-229.1h0m-336.7 150.6h0m-1.8 4.7h0m331.8-198.9h0m-99.2 286h0m-219.9-134.6h0m-3.5 23.6h0m2.4-8.5h0m347.8 20.7h0m7.6 51.4h0m-31.2-214.5h0m-213.6 262.8h0m139.8-2.2h0m-257.2-83.9h0m343.7-113.1h0m-346.4 196.3h0m227.1 2.1h0m135.5-37.8h0m-285.2 38.9h0m-79.4-4h0m-1.8-66.5h0m6.3 65.2h0m347.3-172.6h0m-20.7-110.8h0m27.3 256.4h0m-4-132.7h0m8.2 133.6h0m-339.4 31.3h0m35.9 1.2h0m276-274.8h0m-17.4 267.6h0m-322-43.2h0m109.7 51h0m256.1-33h0m-10.7-159.1h0m-347.7 125.3h0m-1.1-25.5h0m4.9 88.6h0m-3-95.1h0m-4.2 83h0m355.1-1.1h0m-356.4 8.4h0m-5.9-15.9h0m20.9-113.7h0m202.2 133.7h0m121.8-248.6h0m-335.4 157.6h0m8.8-36.6h0m112.9 129.9h0m243.4-59.9h0m-356.9-63.6h0m-10.2 40.2h0m193.7 81.7h0m71.7-.1h0m-266-32.2h0m2.3 29.3h0m352.5-164.3h0m-352.9 81.6h0m-7.6 44.8h0m1.7-8.7h0m10 45.6h0m343.1-167.9h0m-342.1 83.5h0m-6 40.2h0m119.7 51.5h0m215.6-274h0m22 243.7h0m-345.8-107.1h0m-1.1 10.9h0m-9 65.4h0m165.8 60.3h0m-90.8 1.3h0m-74.4-62.9h0m-10.5 23.5h0m364.1-117.7h0m-21.7-119.5h0m-47 271.9h0m-275.8-133.7h0m1.1 4.3h0m335.6-70.9h0m-337.1 70h0m256.5 131.6h0m-268.9-69.3h0m341.1-179.3h0m.5 2.5h0m-345.9 199.4h0m15.5-71.8h0m179.9 120.2h0m142.4-281.9h0m-332.2 199.5h0m351.9-63h0m-62.2 140.3h0m-190.8 6.4h0m264.1-71.6h0m-12.2-120.7h0m-344.7 103.1h0m332.5 81.7h0m-34.1 2.7h0m-291.4 1.8h0m10.6 1.8h0m-19.3-1.6h0m2-87.6h0m348-80.2h0m-357.5 160.9h0m370.6-49h0m-14.9-121.7h0m-344.3 56.3h0m322.3-168.5h0m9.6 52.5h0m-333.1 139.4h0m118.5 100.6h0m214.1-230.9h0m-334.4 140.6h0m337-142.3h0m-249.9 231.1h0m-84.6-97.1h0m23.3 99.1h0m335.6-65.3h0m-1.5-19.2h0m-354.6 82.4h0m-16.7-23.6h0m6-21.6h0m342.2-167.4h0m-337.2 100.2h0m330.1-154.3h0m14 68.8h0m-15.6 190.2h0m-334.1-63.2h0m137.3 70.9h0m-130-112.5h0m245 109.5h0m-250.5-59.5h0m354.1-100.4h0m-20.2-110.3h0m-335.3 198.8h0m.6 61h0m-2.9-19.8h0m337.6-237.3h0m-137.4 270.7h0m144-237.6h0m-339.4 229h0m45.9 10.3h0m195-3.5h0m-148.9 2h0m-84.7-118.2h0m-5.5 19.4h0m-.7-2.7h0m327.7-186h0m24 126.5h0m-341.5 16.8h0m59.6 145.8h0m-72-49.4h0m354.1 26.6h0m-356.3-16.2h0m5.8-68.3h0m328.4-172.8h0m-332.7 260.1h0m10-111.2h0m328-112.4h0m-335.7 144.8h0m125.4 96.8h0m-135-17.6h0m157.8 17.1h0m182.7-276.4h0m10.8 55.4h0m-332.6 93.7h0m336.5-72h0m-2.2-18.7h0m-345 159.6h0m333-211.4h0m-234.6 272.3h0m-91.7-99.6h0m334-141.2h0m-342.9 167.4h0m1.6 17.9h0m338.5 44h0m-345.8-22.1h0m171.9 30.7h0m183.9-201.8h0m-319.8 203.6h0m233.5-5h0m-234 5.5h0m-30.2-25.3h0m223.4 21.3h0m-224.1-19.7h0m337.2-250.8h0m8.3 46.6h0m-338.5 220.2h0m1.1-110h0m-.7 14.2h0m1.5 11.2h0m359.2 18.3h0m-31.2 64.3h0m-326.2-107h0m-14.2 95.6h0m7-72.7h0m225.4 89.5h0m-219.6-95.9h0m327.1-173.8h0m-330.5 196.5h0m362.6 4.1h0m-220.7 71.6h0m-137.3-111.7h0m-11.8 47.4h0m358.7-97h0m-20.7-107.6h0m21.1 110.1h0m3.2 25.6h0m-232.8 135.4h0m225.7-18.2h0m-343.6-86.6h0m338.2 95.3h0m7.3-162.5h0m-345.8 50h0m350.7 100h0m-20.6-238.4h0m-339 253.6h0m365.5-33.2h0m-171.8 36.9h0m-56 2.4h0m-104.7 1.5h0m324.3-157.5h0m-102 150.8h0m113.1-53.1h0m-364.1-7.9h0m-3.7 26.1h0m3.7-60.9h0m347-90.9h0m7.9 46.2h0m-342.1 146h0m70.6 .5h0m262.2-202.2h0m-346.7 137.2h0m-.9-28h0m336.4-161.3h0m-338.3 166.3h0m58.8 86.9h0m126.4-.2h0m-176.2-121.1h0m7.4-29.9h0m289.7 145.2h0m55.1-113.3h0m-361.3 93.9h0m162.5 25.7h0m-118.3 0h0m-43.1-5.4h0m347.1-204.2h0m-334.7 79.5h0m-13.7 83.2h0m357.2-109.5h0m-347.3 155.8h0m-8.7-80.4h0m275.5 77.8h0m-265.2-132h0m211.4 133.7h0m-217.1-106.7h0m349.2-60.7h0m-156.5 166h0m-135.4 2.5h0m285.9-205.8h0m-338.8 90.7h0m323.6-166.4h0m-29.4 278.3h0m30.8-271h0m-335.2 236.2h0m356.9 14.7h0m-19.1-237.6h0m-338.7 232.7h0m9.8-88.6h0m-3.7 8.7h0m339-121.8h0m1.3 32.1h0m-26.9 193.4h0m-306.7 4.8h0m-11.3-25.9h0m-4-29.8h0m303.3 51.4h0m-227.1 5.2h0m-68.9-97.5h0m-6.6 34h0m2.6 25.9h0m10-69.4h0m335.6-93.8h0m-.8-25.5h0m-350.1 207.1h0m131.9 17.5h0m232.5-19h0m-346 18.2h0m5.8 2.1h0m58.3-1.2h0m264.6-236.6h0m-156.7 234.9h0m-178.3-93.7h0m332.9-141.4h0m18.1 219.4h0m-14.2-213.3h0m-8.5-43.4h0m2.3 5.6h0m-106 265.1h0m-221.6-102.1h0m291.4 99.8h0m-180.1 5.3h0m143.8-4h0m-104 5.1h0m83.8-2.7h0m-246.6-57.9h0m352.3-105.7h0m-14.9-103.1h0m-124.3 266h0m156.4-58h0m-370.1 3.1h0m28 59.1h0m323.8-205.3h0m8.7 56.5h0m-21.6-118h0m-30.4 259.3h0m44.2-192h0m-103.5 194.5h0" stroke="#cfcfcf"/><path d="m95.9 299.8h0m-8.1 33.2h0m.8-9.9h0m267.6 51.3h0m-61.3 1.7h0m138.3-241.4h0m-340.5 174.8h0m363.1-4.8h0m-356.1-37.4h0m183 108.2h0m-191.9-31.9h0m-1 25.5h0m69.2 9h0m188.4-5.5h0m-252.6-72.4h0m.5-12.8h0m-7.2 66.1h0m296.7 18.5h0m-218.3 6.2h0m-31.2-.5h0m303.4-214h0m-344.9 130.1h0m339.6-157.7h0m-202.3 240.4h0m182.3-5.9h0m-207.2 6.4h0m243.3-19h0m-357.5-48.1h0m315.8 61h0m23.3-253.2h0m-344.3 221.4h0m363.1-106.1h0m-1.3 121.5h0m-18.8 13.1h0m-58.7 5.2h0m-182.3 4.8h0m-92.9-82.5h0m-2.7 24.5h0m56.1 57.6h0m288.6-217.5h0m-342.4 121.1h0m2.2 93.5h0m347-177h0m-274.9 180h0m263.3-240.4h0m-344.6 202.4h0m1.3-.6h0m347.7-182.4h0m-339.6 216.5h0m-1.3-72h0m.5-23.5h0m143.4 98.9h0m-150.2-50.8h0m8.2 48.4h0m182 2.9h0m154.9-214.1h0m9.9 32.3h0m11.3 122.1h0m-3.7-59.7h0m-361.8 76.8h0m8.9-61.3h0m331.3-153.7h0m-338.6 206.2h0m354.3-113.8h0m5.6 140.3h0m-305.6 26.1h0m-29.5-1h0m336.2-115.3h0m-271.7 116.3h0m-86.6-91.9h0m89.3 91.5h0m-78.3-1.6h0m-12-9.3h0m77.3 11.7h0m-72.9-97.4h0m-10.3 48.8h0m1.3 37.9h0m369.3-55.4h0m-334.1 65.9h0m95.8-1.1h0m-29.1 1.2h0m-103.1-12.2h0m356.9-164h0m-277.7 175.4h0m58.3-.7h0m-96.9 1.5h0m311.9-11.1h0m6.4-121.5h0m-293.3 132.1h0m95.5-.3h0m-147.4-115.9h0m349.2 93.3h0m-352.7-78.5h0m1.7-4.8h0m-7.8 48.2h0m3.3-25.1h0m348.4-100.8h0m-11-57.4h0m-53.1 235.8h0m-88.8 4.1h0m-189.4-119.6h0m-4.6 24.4h0m-6.7 42.3h0m12-74h0m194.1 126.3h0m-203.6-53.8h0m2.4 47.7h0m2-79h0m285.6 82.7h0m54.2-214.1h0m-346.6 183h0m286.2 31h0m29.3-1.3h0m-305.3-98.9h0m2.3 103.5h0m329.6-236.2h0m15.1 109.1h0m-293.7 128.3h0m128.4-2.5h0m-184.3-102.9h0m-8.7 85.5h0m2.5-44.5h0m12.5 63h0m325.7-256.2h0m3.6 23.6h0m0 11h0m-251.9 222.4h0m248.1-260.8h0m-336.2 254h0m-.5-67h0m-4.9 28.1h0m359.4 25.1h0m-350.9-68h0m324.4 83.4h0m-330.3-26.2h0m259.7 27.2h0m-253.1-83.3h0m-10.5 51.5h0m1.9 7.8h0m357.5-133.8h0m-8.1 153.6h0m-1.8-213.8h0m-333.7 220.7h0m330.1-224.5h0m-333.6 135h0m234.5 87.3h0m122.9-35h0m-365.9-26.8h0m2.6 56h0m3.6-91.8h0m159.2 101.2h0m-157.5-98.6h0m-2.6 11.1h0m206.2 86.7h0m-199.5-122.4h0m343.3-41.9h0m-350.4 78.9h0m338.8-146.2h0m-24.4 226.2h0m-199.1 6.4h0m-123.1-51.3h0m-.4 14.5h0m21.7 37h0m318.8-267.4h0m-324.6 140.3h0m332.9-80h0m-345.8 158.4h0m347-166.2h0m-279.3 214.8h0m-65.7-6.9h0m335.2-263.3h0m-319.7 268.8h0m-6.5-121.4h0m164.6 122.5h0m185.4-22.4h0m-364.8-12.6h0m7.4-51h0m-.5 80.7h0m12.4-131.2h0m259 133h0m63.6-263.6h0m-333.4 171.6h0m173.2 94.3h0m160.3-258.5h0m-233.8 260.8h0m260-100.9h0m-340.6 100.3h0m-22.3-47.1h0m347.2 37.4h0m-5-221.4h0m-269.7 232h0m-67.4-89.5h0m73.6 89h0m31.9-.2h0m-109-61.6h0m154 61.1h0m-53.5 1h0m-99.9-8.6h0m-5.8-12.5h0m3.8-34.9h0m9.6-61.4h0m43.5 116.6h0m-53.9-49.4h0m353.5-128.6h0m-4.3 2h0m-349.9 132.8h0m351.9-145.6h0m1.2 5.9h0m-145.2 181.6h0m-200.1-108.5h0m-4.8 28.5h0m-1.5 39.8h0m-1.7 12.8h0m46.4 28.9h0m-36.1-114h0m-13.7 86.3h0m2.5-19.7h0m36.9 47.9h0m318.8-147.5h0m-356.3 91.8h0m370.1-7.4h0m-45.8 55.7h0m-312.9-111.6h0m346.4-43.9h0m-267.3 162h0m-82.4-94.3h0m357.8-8.2h0m-338.2 102.8h0m39.4 .1h0m-61.4-79.6h0m342.3-120.5h0m-203 199.3h0m-140.9-56.7h0m-1.9 20.3h0m353.3 20.2h0m-349.9-62.2h0m-4.2 49.2h0m173.5 28.9h0m-168.6-89.5h0m357.4-7.6h0m-353.1-10.8h0m-5.7 44.4h0m362.1 28.1h0m-357.8-65.6h0m-7.5 76.8h0m1.5-43.3h0m55.5 69.2h0m-57-68.7h0m357.6-85.4h0m-267.9 154.3h0m-87.9-6.6h0m.2-52.6h0m349.8-130.6h0m10.8 72.5h0m-51.4 111.8h0m-201.2 5h0m45-1.5h0m-155.6-45.3h0m4.4-20.9h0m46.1 67.9h0m296.3-223.4h0m-169.9 220.7h0m-179.8-30.5h0m367.4-11.5h0m-366.1 3.4h0m341.8-210.7h0m-20.2 246.6h0m-322.2-36.6h0m12-58.6h0m-12.8 82.2h0m2.5-36.4h0m3.5-13.8h0m107.1 68.5h0m10.9 .1h0m225.2-227.6h0m12.5 203.4h0m-126.4 21.2h0m107.5-262.3h0m-337.4 207.1h0m17.8 56.9h0m-22.3-50.9h0m2.8 33.4h0m360.3-116.6h0m-237.9 134.8h0m-84.8 .3h0m173.2-2.3h0m144.8-137.7h0m-13.7-102.8h0m12 61.1h0m7.9 59.9h0m-3.6-24.8h0m-240.4 145.8h0m-108.7-104h0m333.3-134.4h0m-171.7 238.4h0m-165.9-74.6h0m362.1-2.9h0m-15-105.5h0m-348.9 174.2h0m-.8-71.1h0m162.4 78.8h0m198.1-112.5h0m-148.3 112.5h0m-210.1-87.4h0m351.9-74.2h0m-34.2 156.6h0m37.1-136.9h0m-363.2 125.8h0m10.5-79.3h0m-.9-1.8h0m209.5 96.9h0m-214.7-47.3h0m351.5-143.1h0m8.9 63.5h0m-363.3 100.2h0m124.9 27.9h0m-113.9-111.7h0m130.2 112h0m223-120.3h0m-110.9 116.1h0m-99 3.3h0m187.6-257.8h0m-100 256.6h0m-241.4-53.2h0m295.6 51.2h0m-292.8-48.8h0m4.6 48h0m-2.8-72.7h0m-1.7 56.3h0m162.2 20.5h0m129.4-3.1h0m-290.8-51.2h0m340.8-169.6h0m-340.4 216.3h0m355-118.8h0m7.8 28.4h0m-197.7 97.9h0m-165.7-72.6h0m-.6-5.2h0m174.1 78.7h0m-174.2-60.5h0m5.1-42.4h0m348.1 89.6h0m-343.9-105.1h0m223.5 115.2h0m-227.8-97.6h0m357.7 69h0m-10.4-154.1h0m-12.3-64.5h0m-340.7 191.8h0m359.5-81h0m-355 61.4h0m-4.9 15.3h0m.6 17.2h0m339-209.5h0m-15 250.8h0m15.2-253.5h0m-213.3 258.5h0m225-196.5h0m-347 125.4h0m77.5 71h0m-71.4-118.1h0m250 113.3h0m-247.8-121.5h0m342.5-37h0m13 116.3h0m-17.1-122.2h0m-348.8 111.1h0m-.8-8.4h0m334.3 60.1h0m-339.8-13.4h0m163.6 18.2h0m207.4-40.9h0m-23.1 34.2h0m-5.4-257.8h0m5.3 32.9h0m17.7 133.4h0m-361.7 38.2h0m355.3 43.2h0m-7-194.9h0m7.1 197.7h0m-349.9-75.8h0m-4.3 22.8h0m310.5 63.4h0m-225.2 5.1h0m-79.2-100h0m342.8-100h0m-7.7-28.6h0m13.4 87.5h0m-352.1 132.2h0m3.1-87.3h0m333.3-161.8h0m-336.9 190.2h0m161.4 67.5h0m-168-34.5h0m84.2 35h0m-78.9-59.3h0m133.2 58.6h0m228.3-90.2h0m-362.4 76.7h0m-2.1-17.7h0m4-27.4h0m100.3 59.5h0m118.1-3h0m-222-41.1h0m364.3-44.8h0m-355.2-3.8h0m44.1 92.6h0m208.4-3.6h0m78.2-254.5h0m-333 174.8h0m-3.8 9.6h0m-2.8 37.3h0m341.7-201.2h0m-98.8 234.7h0m-79.2 2h0m-162.7-33.6h0m348.9-176.3h0m-351.4 161.8h0m342.2 41.7h0m-27.1 2.7h0m-305 1.2h0m8.1 2.3h0m250.1-2.6h0m-196.1 4.4h0m295.3-95.3h0m.8 38.8h0m-325.5 55.9h0m233.8-3.8h0m-269.4-86.2h0m163.5 88h0m-165.9-56.3h0m356 39.9h0m-261.5 18.4h0m247.5-227.2h0m-90 222.4h0m-195.3 5h0m-30.1-1.2h0m36.6 .7h0m284.1-179.6h0m-345.7 91.7h0m311 81.3h0m15.4 1h0m-331.1-12.5h0m5.3-53.5h0m259.3 67h0m86.5-168.5h0m10.2 140.2h0m-91.6 29.4h0m-29.7 .7h0m-19.8 .9h0m145-98.3h0m-9.5-73.7h0m-219.3 173.1h0m172.8-5.5h0m-310.4-7.6h0m291.4 10.1h0m-292.8-37.7h0m72.9 41.9h0m270.4-249h0m-294.5 248.7h0m78.4-.8h0m-128.1-26.8h0m326.7 22.5h0m-58.3 1.8h0m-102.9 1.5h0m-120.8 2.8h0m66-1.6h0m-110.6-41.2h0m6.9-11.5h0m348.9-110.7h0m-166.3 162.5h0m-182.3-77h0m12.9 78h0m331.8-212.3h0m-307.9 213h0m-37.7-70.1h0m2.3-18h0m.2 1.3h0m-1.9 15.7h0m0-7.1h0m9.1-40.1h0m171.2 116.3h0m-177.4-94.2h0m350.1-71.2h0m-196.9 165.9h0m209.1-64.2h0m-366-11.7h0m353.8-88.1h0m-.7-2.7h0m-294.7 167.9h0m-50.8-104.3h0m-.6-.9h0m343.2-73.9h0m-318.5 178.8h0m313.7-11.5h0m-70.2 8.1h0m-269.9-95.6h0m93.3 99.5h0m-92.4-107.3h0m-1.8 8.8h0m129.5 97.4h0m-129.8-98.3h0m343.6-102.8h0m-348.4 194.5h0m-1.3-36.2h0m2.7-24.1h0m-2.2 21.6h0m82.4 47h0m-76.4-5.4h0m28.5 5.3h0m-25.6-104.7h0m-8.9 86.1h0m-2.6-11.5h0m286.9 25.6h0m-288.9-11.7h0m8.6-59h0m338-160.2h0m-135.5 232.9h0m-207.7-12.4h0m356.4-150.4h0m-148 162.9h0m10.8-1.5h0m-33 2.1h0m169.1-169.6h0m-116.5 167.8h0m112.7-165.9h0m-316.9 168.5h0m122.3-1.1h0m194.7-12.5h0m-9.6-222.4h0m22 149h0m-218.4 87.3h0m197.5-226h0m-72.7 221.2h0m-263.8-77.9h0m-7.5 35.1h0m230.8 43.7h0m-230.2-21.5h0m343.8-210.7h0m-322.1 235.8h0m-4.6 0h0m-14.1-8.1h0m-5.3-25.5h0m3.3-33.4h0m-.9 46.4h0m5.2-60h0m335.1-177.7h0m-274.5 258.6h0m297.7-40.4h0m-355.8-69.5h0m-1.9 18.5h0m-5.1 51.4h0m-3.2-4.5h0m23.4 44h0m-20.4-42.3h0m350 32.5h0m-342.1-86.8h0m-4.3 40h0m7.2-60.8h0m336.7-98.6h0m17.4 138.1h0m-21 68.5h0m-345.5-7.6h0m6.2-73h0m-4.7 66.2h0m.9-1.8h0m67.8 26.4h0m-46.9-.3h0m332.6-172.5h0m-318.4 172.3h0m148-1.7h0m175.1-143.2h0m-355.9 73.3h0m-4.4 20.8h0m55.2 51.4h0m-53.6-24.3h0m96.8 23.4h0m-101-28.2h0m156.9 27.6h0m-17.5 .2h0m-136.3-54.3h0m139.3 55.3h0m211.7-202.9h0m7.8 53.1h0m-295.8 149.8h0m305.3-79.1h0m-24.4-157.2h0m-348.2 212.5h0m347.3-211.9h0m-302.1 235.9h0m-36.1-89h0m8.6 86.3h0m105 1.8h0m50.8-.8h0m-172.4-18.6h0m133.3 20.1h0m131.5-4.9h0m-260.4-27.1h0m10-77.4h0m-4.1 12.2h0m37.8 97.6h0m-41.3-69h0m365.3 22.6h0m-361.9-38.7h0m332.2-178.9h0m-332.2 165.8h0m-3.3 41.8h0m5.1-33.8h0m55.6 90.5h0m286.1-180.5h0m-175.5 177.5h0m135.5-2.4h0m25.3-1.8h0m-14.8-.8h0m-317.1-55.1h0m362.8 10.7h0m-58.2 45.5h0m-18.5 .5h0m-152.5 4.9h0m162.4-4.9h0m-32.9 2.2h0m-252.9 1.1h0m-12.6-17.3h0m343.6 8.8h0m-342.3-63.5h0m-1.3 19.4h0m340.1-189.2h0m21.3 216.6h0m-131.3 24.2h0m63-2.6h0m4.4 2.2h0m-101.6 1.2h0m35.5 0h0m107.8-250h0m-336.1 246.7h0m351.1-140.1h0m-30.4 140.6h0m17.8-237.7h0m-339.5 159.3h0m-2.5 35.4h0m193.7 46.9h0m168.3-118.2h0m-351.2 1.1h0m349 9.1h0m-350.6 2.4h0m169.7 104.8h0m-176.1-56.2h0m-1.6-4.3h0m141.2 62.5h0m173.5-4.9h0m-318.7-48.2h0m2.6 10.8h0m5.3-46.2h0m1.2-.1h0m264 84.6h0m-45.9 2h0m-220.4-4.9h0m-5.1-43.4h0m354.8 37.2h0m-.5-168.5h0m-187.1 181.1h0m-99.7 .7h0m65 .3h0m27.4-1.6h0m-154.3-83.4h0m-4.9 39.8h0m.4-11.9h0m2.4 42.9h0m362-65.1h0m-355.4-36.7h0m151.1 114.9h0m-62 1h0m264.9-90.6h0m-180.3 89.7h0m158.7-239.4h0m-338.9 188.5h0m.1-26h0m276.7 74h0m-242.3 3.9h0m317.2-176.9h0m-342.2 53.6h0m341.2-31.8h0m3.1-4.2h0m-123.9 155h0m-236.3-18.6h0m5.4-50h0m-1.5 44.1h0m337.4-242.6h0m-329.1 268.8h0m-12.9-31.1h0m359.1-143.6h0m-259.8 177.6h0m242.9-268.3h0m-331.8 183.8h0m96.1 84.5h0m-70.9 .2h0m331.3-98.4h0m-360 34.4h0m357.4 34.9h0m-359.8-21.5h0m230.6 47.3h0m-225-74.2h0m.2-24.4h0m-5.2 72.6h0m.5 19.7h0m.8-2.9h0m283.7 7.6h0m-280.7-64.2h0m144.2 68.2h0m202-194.4h0m-5.1-25.2h0m-5.7-27.6h0m15.4 227.9h0m-358.9-28.3h0m358.4-127.7h0m-1.7 158.5h0m4-134.5h0m-360.5 109h0m364.7-82.8h0m-359.6 57.5h0m363.8 14.3h0m-15.8-148.1h0m-135.6 198.5h0m-206.1-93.1h0m40.4 96.5h0m299.4-214.3h0m-302.7 214h0m-47.7-30.7h0m355.8-151.4h0m-131.3 180h0m-210.1 .8h0m-1.9-115.3h0m-5.5 26.5h0m333.3-173.6h0m-337.4 224.4h0m29.5 38.8h0m307.9-261.1h0m-334.9 196.6h0m66.9 64.7h0m-73.5-28.2h0m362.6 7.6h0m-357.4 7.3h0m5.5-77.7h0m48.2 91.1h0m302.7-149.4h0m-289.4 149.3h0m274.6-235.8h0m-312 236.4h0m326.1-18.1h0m7.5-60h0m-364.8 32.1h0m341.4-193.1h0m-330.4 128.7h0m41 110.8h0m-54.1-52.9h0m.2 26h0m1.6-18.4h0m.5-17.3h0m-1.1 51.7h0m96.1 9.7h0m269.1-43.8h0m-365.3 9.8h0m3.1-43.2h0m-3 52.8h0m13.2-95.7h0m341.5-28h0m-104.3 145.2h0m42.2-1.7h0m-294.6-36.2h0m1.8-6.8h0m308.8 43.2h0m61-49.1h0m-7.9-51.7h0m-2 86.9h0m-356.6-59.6h0m361.5 35.7h0m-363.9 11.2h0m280.6 25.8h0m80-127.9h0m-18.7-113.3h0m-325.4 246.9h0m264.7-3.8h0m74-161.6h0m-.9 151.4h0m11.8-74.7h0m-367.3 41h0m344.5 36.8h0m8-184.7h0m-130.4 193.4h0m-18.6 .9h0m37.1-3h0m-230.4-100.2h0m-10.6 60.5h0m2.3-7.3h0m17.9 50.4h0m-21.3-48.9h0m6.1-14.7h0m-8.3 33.6h0m12.5-72.9h0m-6.2 57.5h0m352.2-137.3h0m-12.5-65.9h0m2.6 16.1h0m-300.7 233.4h0m-43-63.4h0m360.9-68.9h0m-363 76.9h0m351.4 42.5h0m-340.5-91.4h0m348.4-57.9h0m-358.7 120.9h0m352.8-152.7h0m-348 125.6h0m155.3 66.9h0m196.6-142.3h0m-359.2 124.7h0m345.1-224.9h0m-340.2 167.8h0m-4.9 47.5h0m360.2-138.6h0m-326.7 167.8h0m318.6-211.4h0m-6.3-35.8h0m-3.7-18.4h0m-148.9 263.8h0m-188.1-14.2h0m193.1 14.6h0m164.3-147.5h0m-239.6 148.4h0m52.1-.5h0m-106.1 .8h0m-70.3-30.5h0m7.2-25h0m335.2-215.4h0m-336.4 243.2h0m337.2-234h0m28.7 176.1h0m-363.5 75.8h0m344.2-184.5h0m-343.2 107.2h0m267.6 81.4h0m71.7-226.2h0m-332.8 121h0m-11.5 81.1h0m343.2 19.3h0m-335-83.4h0m359.4 12.7h0m-96.8 75.4h0m79.5-199.3h0m-344.7 199.3h0m331-270.4h0m-328.6 169.8h0m-9.6 64.3h0m324.2 34.6h0m-53.2 2.7h0m-265-79.7h0m357.2-48.7h0m-363.9 118.2h0m363.6-16.9h0m-56.4 26.9h0m54.3-146.7h0m-66.2 147h0m-285.6-90.8h0m282.7 91.1h0m-287.6-50.2h0m5-50.8h0m4.7-12.1h0m84.1 117.7h0m-86.9-109.5h0m11.6 107.7h0m219-3.2h0m126.9-50.9h0m-18.9-142.2h0m-350.5 162.1h0m9.9-51.9h0m7.5-41.9h0m223.5 125.1h0m105.1-231h0m-340.3 225.1h0m23.8 10.6h0m-13.3-131.4h0m-17.2 109.6h0m9.8-70.4h0m278.4 88.2h0m71.5-165.1h0m9.5 122.2h0m-278.9 46.2h0m-73.2-3.1h0m-12.4-44.9h0m368.3-.7h0m-1.1-26h0m-357.4-32.6h0m335.8 96.1h0m-327.8 10.6h0m-10.8-94h0m-11 70.7h0m8.7-64.1h0m-4.8 35.9h0m181.2 51.1h0m-174-100.3h0m349-60.2h0m11.8 93.4h0m-58.2 62.2h0m-18.8 2.1h0m-194.1 3.9h0m100.8-1.2h0m47.4-2.8h0m-231.8-123.7h0m-13 59.7h0m-4 45h0m123.7 22.2h0m215.9-272.6h0m-9.3 268.5h0m-46.5-.6h0m81.1-97.7h0m4.6 12.1h0m-313.8 91.6h0m133.6-2.1h0m-177.9-93.8h0m229 91.6h0m-234.2-77.7h0m-7.1 54.7h0m347.3-212.1h0m-14 233.6h0m24.6-151.1h0m-68.8 151.2h0m53.6-1.5h0m22.4-126.9h0m-350 16.5h0m-3.5 16.5h0m230 96.6h0m-234.5-81.9h0m358.5 51.1h0m-358.6-43.5h0m142.5 77.9h0m-139-81.7h0m355.4-18.8h0m-355.6 2.4h0m68.7 98.6h0m-1.1-.4h0m-70.9-70.1h0m354-91h0m-74.4 156.3h0m62.9-222.6h0m15.8 194.5h0m-20.6 26.4h0m-338-63.1h0m2.7-8.4h0m230.8 76h0m116.5-158.7h0m-8.2-69.5h0m-338.5 152.9h0m3-31.3h0m270.1 105.4h0m75.3-181.5h0m12.1 131.3h0m-24.2-189.5h0m-336.9 168.2h0m54.3 75.4h0m204.2-4.2h0m-263.5-34.8h0m.7-17.4h0m365.8-26.5h0m-73.4 78.9h0m-283-114.8h0m257.3 113.2h0m91.8-138.8h0m-352.7 57.9h0m-3.6 5.9h0m4.6 76.4h0m344.1-162.5h0m-353.1 133.5h0m343.3 24.8h0m-189.3 6.6h0m-150.7-7.1h0m220.4 5.1h0m-216.5-94.8h0m-7.8 44.2h0m1.6 30.2h0m191.9 22.8h0m-188.2-64.5h0m4.7-44.8h0m186.1 109.3h0m159.6-11.5h0m-51.1 6.6h0m38.2-235.7h0m-337.2 163.5h0m285.8 74.3h0m-285.2-64h0m344.8-119h0m-6.4-53.2h0m-1.7 .3h0m-337.9 167.2h0m276.2 68.7h0m-79.2 1.3h0m161.7-100.3h0m-357.1 35h0m60 68.5h0m289.6-183.3h0m-267.4 182.5h0m254.1-7.3h0m1.7-231.3h0m-339.1 179.4h0m353.1-102.7h0m-357.2 132.2h0m126.3 30.2h0m146.5-5.5h0m-265.1-86.1h0m-5.6 31.6h0m346-136.9h0m-134.7 193.5h0m151.5-102.9h0m-4.8-10.1h0m-4.9-58.7h0m-76.4 171h0m-272.2-94.1h0m-9.3 82.3h0m7.6-74.5h0m184.1 89h0m-189.3-60h0m270.6 57.4h0m-271.2-7.1h0m-2.2-10.2h0m324.1 15.7h0m47.5-64h0m-28.4-192.2h0m-274.9 262.2h0m-65.4-41.4h0m4.7-44.5h0m91.6 85.5h0m256.5-162.2h0m-288.1 162.2h0m-47.5-1.7h0m-17.9-8.6h0m3.8-49.2h0m154.9 58.7h0m-48.4 .2h0m231.8-250.9h0m13.4 101h0m-40.3 143.8h0m46.5-24.8h0m-21.7-233h0m-335.1 252.2h0m352.5-127.3h0m-176.4 137.6h0m-177.2-55.6h0m60.1 57h0m292.3-177.2h0m-12.3 166.9h0m-38.7 4.4h0m-31.2 2.5h0m1.2 .2h0m84.6-141.7h0m-352.7 59.3h0m-6.5 54.1h0m367-29.3h0m-357.3-52h0m228.9 109.7h0m-227.4-101.8h0m-12.2 56.2h0m4.6-25.8h0m-3.1 29.2h0m347-171.9h0m-1.9 207h0m-4.7-246.6h0m5.7 34.7h0m-345 190.6h0m-1.8-22.9h0m317.4 48.4h0m28.7-5.3h0m-289 11.6h0m67.1-.4h0m235.3-146.5h0m-89.2 143.3h0m-268.1-45.7h0m114.4 49.4h0m-117.2-28.4h0m-.6-10.6h0m-.5 1.7h0m370.5-7.9h0m-360.4-53.7h0m354.2 73.3h0m-57.1 20.9h0m-304.3-48.4h0m338.7-209.7h0m5.7 254.5h0m-158.4 7.5h0m-181.1-80.5h0m245.7 77.7h0m52.2-1.7h0m-297.7-74.8h0m43.9 80.5h0m-43.5-8h0m189.2 5.4h0m-189.8-96.9h0m1.9-8.8h0m343.2 97.9h0m-42.3 5.3h0m-305.9-17.7h0m-3-21.3h0m136.9 42.5h0m209.9-218.9h0m-346 192.2h0m36.8 28.7h0m-31.7-96.1h0m-.9 36.9h0m.9 51h0m-.8-75.1h0m.9-2.3h0m-3 19.9h0m359.1-69h0m-364.5 95.4h0m4.1-31.3h0m3.6 1.1h0m345.3-116.7h0m-338.4 73.6h0m68.4 112.6h0m-76.5-79h0m360.3 37.6h0m-211.5 39.3h0m-153.8-16.4h0m103.1 17.8h0m193.3-6.3h0m-293-12h0m8.5-87.5h0m321.5 97.9h0m-333.8-34.4h0m343.3-207h0m-340.7 188.3h0m342.5-186.8h0m-342 213.4h0m1.5-21.2h0m-4 4.2h0m1.6 13.9h0m159 35.8h0m-152.9-81.1h0m332.5-185.8h0m-330.9 263.6h0m262.1 0h0m6.5 1.1h0m62.6-259.9h0m-254.2 263.9h0m-78.5-97.4h0m44.2 97.7h0m226.6-3.9h0m-266.5-108.4h0m336-94.1h0m-84.6 201h0m-146.3 5h0m41.5-.6h0m63.5-2.9h0m140.7-131.6h0m-359 58.7h0m5.3-25.9h0m68 102h0m220.5-4.3h0m-103.7 2h0m-186.5-97.9h0m59.5 101.1h0m287.5-187h0m-307.1 186.6h0m-39.4-92.3h0m225.5 89.5h0m129.9-120.9h0m-11.8-76.3h0m-347.8 139.3h0m-1.9 47.3h0m357.5-3.6h0m-360.1-26.5h0m368.6-21.2h0m-21.6 56.3h0m-309 8.9h0m169.2-2.4h0m-208.3-30.5h0m297.2 28.2h0m-109.3 1.3h0m-180.7-77.8h0m337.1-168.6h0m-224.2 249h0m248.6-72.7h0m-130.7 70.1h0m-208.5 3h0m-21.2-81.7h0m83.7 81.4h0m-87.2-56.4h0m11.8-72.8h0m325.2-137.4h0m3 23.3h0m-340.8 220.5h0m245.2 20h0m79.2-2.8h0m-328.1-40.1h0m79.1 46.1h0m246.8-5.8h0m-322.5-64.2h0m338.5 60.2h0m-304.2 10h0m321.2-142.6h0m-354.3 123.7h0m355.3-142.8h0m-358.2 98h0m9.7 57.1h0m348.9-149.2h0m-317.1 154.9h0m57.7 .6h0m266.9-82.7h0m-168 80.4h0m148.7-229.6h0m-348 189.6h0m360.9-112.2h0m-12.6-55.7h0m-200.2 208.6h0m151.4-3.2h0m58.3-166.9h0m-347.6 73.3h0m-3.9 14.8h0m341-145.1h0m-349.2 207.5h0m372.6-50.1h0m-9.6-83h0m-354.7 68h0m257.5 80.7h0m79-243.3h0m28.7 186.3h0m-362.4-24.6h0m117.6 86.8h0m-127.9-38.7h0m1.9-7.2h0m344.5-193.3h0m14.6 83.7h0m-4.2-32.8h0m-132.2 186.1h0m147.1-42.9h0m-181.1 43.6h0m-189.3-28h0m13.4-77.8h0m307.7 100.9h0m-319.1-54.5h0m363.2 31.2h0m-366.5 3.1h0m4.1-40.3h0m247.9 63.6h0m-242.1-84.3h0m357.1 56.7h0m-5.8-99h0m-272.8 129.6h0m277.2-127.5h0m-361.3 99.4h0m-.8-14.1h0m3.6-25.2h0m60.6 67.2h0m-67.9-23.5h0m10.2-78.9h0m180.4 101.7h0m130.3-5.4h0m45.8-89.8h0m-12.8-105.9h0m-73.9 197h0m-274.3-5.1h0m349.3-185.8h0m-294.8 196.4h0m278.8-6.7h0m23-11.2h0m7.9-47.5h0m-361.4 58.2h0m348.7-5.2h0m-259.3 12.7h0m269.4-112.4h0m-12.4-61.4h0m-314.7 173.2h0m-38.6-47.6h0m5.6-13.3h0m352.4 47h0m-94.9 10.4h0m-75.4 1.7h0m-181.5-85.1h0m9.5-37h0m327.2-133.3h0m14.7 243.5h0m5.3-124.2h0m-358.1 68h0m212.4 68.1h0m151.2-91.2h0m-25.9-157h0m-124.2 247h0m-58.6 1.7h0m138.1-4.7h0m-293.2-3.5h0m350.2-179.4h0m7.1 38.2h0m-244 151h0m-111-5.2h0m15.8 4.7h0m345.8-51.8h0m-335.2 51.4h0m-26.7-83.1h0m351.9-79.3h0m-166.4 160.7h0m116.6-2h0m-243.1 4.1h0m221.9-4.7h0m-287.3-35.1h0m4.5 34.1h0m2.8 .6h0m-3.5-7.8h0m14.4 12.5h0m-9.7-6.3h0m345.6-187.9h0m-353.7 155.3h0m365.5-71.3h0m-6.7-49.5h0m5.2 122.3h0m-362.6 28.5h0m1.8-59.9h0m33.4 69.8h0m-31.8-7.7h0m-1.2-69.5h0m-2.4 48.3h0m1.6-42.5h0m244 66.9h0m-240-85.1h0m4.4-29h0m-9.6 78.4h0m353 25.2h0m-311.4 15.4h0m-45.5-25.8h0m8.2-37.8h0m80.8 63.5h0m-83.2-51.1h0m337.5-207.2h0m19.6 239.2h0m-334.7 18.1h0m42.7 .6h0m-61.2-4.7h0m344.8-194.6h0m-352.3 183.9h0m332.5 7.4h0m-327.5-75.9h0m4.5-4.8h0m1.7-29h0m.4 114h0m-9-69.2h0m215.3 69.3h0m-211.6-84.6h0m-7.7 51.2h0m8.2-54.1h0m189.4 89.8h0m-193-68.9h0m353.6-110h0m-345.7 77.9h0m249.9 97.4h0m-260.1-23.2h0m345.8-187.4h0m-340.1 123.7h0m176.8 89.6h0m-8.9 1.3h0m179.5-189.3h0m-342.4 186.8h0m-10.9-9.2h0m.5-39.9h0m-.3 20.8h0m-.1-29.4h0m-1.5 12.6h0m259.5 44.9h0m-256.7-4.9h0m102.2 8.8h0m-91.1-111.6h0m-14 83h0m275.6 23h0m-67.1 2.4h0m-202.3-83.8h0m354.6-63.9h0m-61.3 146h0m-285.2-113.3h0m230.2 113.9h0m123.2-96.3h0m-27.3 90.8h0m-5.1 2.8h0m-328.9-75.6h0m359.5-32.7h0m-364 87.7h0m6.5-55.9h0m334.3-170.1h0m10.3 74h0m-2.3-33.3h0m-110.1 208.4h0m-130.4 4.4h0m-110.4-27.1h0m.5-24.2h0m4-23.2h0m353.1-103h0m-297.7 176.9h0m-57.5-36.2h0m343.8-186.5h0m-342.9 202h0m7.2-84.3h0m69 104.9h0m269-210.1h0m4.8 2.8h0m-10.6-53.5h0m-331.9 154.7h0m289.6 100.9h0m60.6-17h0m-18.2 12.3h0m-339.9-10.9h0m4-60.5h0m-3 23.8h0m102 57.5h0m-92.7-2.6h0" stroke="#d7d7d7"/><path d="m444 364.6h0m2.3-150.1h0m-349.9 80.8h0m167.1 81.2h0m-167-88h0m339.2-125.6h0m-149.5 213.3h0m131.6-4.8h0m-10.5 .1h0m49.4-35.1h0m-23.3-191.1h0m-336.4 139.5h0m353.1 68h0m-338.4 24.7h0m198-2.6h0m98.1-2.9h0m49-57.5h0m-368 46.4h0m207.2 14.5h0m9.5-.1h0m129.4-224.5h0m-345.5 185.4h0m3.8-24.2h0m282.7 61.2h0m66.2-167.1h0m11.2 133.2h0m-355.8-55h0m348.6-70h0m-350 72.6h0m347.7-88.6h0m1.7 12.3h0m-351.1 101.6h0m-2.5 56.2h0m-2.5-.8h0m303.3 4.9h0m51.4-175.4h0m-142.6 178.8h0m149-136.3h0m-120.9 135.2h0m121.2-21.5h0m-111.4 21.3h0m47.6-2.3h0m64.9-99.7h0m-19.2-137.1h0m7.1 40.1h0m-124.9 198.7h0m131.1-11.9h0m-116.2 12.1h0m124.1-88.7h0m-12.6-103.3h0m-53.7 189.8h0m56.1-180.9h0m-356.4 157.3h0m367.3-77.2h0m-84.8 101.8h0m77.6-12.6h0m-95.3 12.6h0m4 .3h0m-149.9 3.6h0m244.7-24.4h0m.5-102.7h0m-4.4-28.4h0m8.4 111.9h0m-59.5 38.9h0m-303.7-54.2h0m367-3h0m-366.1-6.3h0m-1.1 5.3h0m219.2 60.7h0m-219.8-61.6h0m356.9-83.5h0m6.7 111.4h0m-333.9 36.3h0m333.8-42.8h0m-364.7 14.6h0m341.1-223.2h0m-339.4 192.9h0m337.1 51.2h0m11.8-196.1h0m8.4 183.2h0m3.1-104.2h0m-361.9 114.8h0m365.4-71.1h0m-363.8 23.3h0m188.9 55.5h0m161.7-165.4h0m-29 161.1h0m23.7-198.6h0m-44.1 199.6h0m-11.5 .7h0m16-1.2h0m52.2-112.4h0m-85.4 113.6h0m-151.4 4.4h0m-123-21h0m352.2-148.4h0m2.4 16.3h0m-257.3 153.4h0m-92-82.1h0m108.9 81.5h0m243-135.6h0m-14.7 128h0m-61.1 4.2h0m88.2-53.7h0m-368.5-2.3h0m-1.7 47.6h0m.3 .9h0m126.4 10.9h0m156.1-3.3h0m-281.1-61.9h0m214.3 62.8h0m128.7-228.8h0m-347.5 201.8h0m259.9 26.2h0m-254-58.6h0m358.2 38.3h0m7.6-50.5h0m-19.7-121.4h0m-350.3 156.4h0m367.2-58.1h0m-166.9 95.4h0m153.9-11h0m-348-71.9h0m44.3 85.1h0m196.9-3.6h0m-60.2 1.4h0m-70.2 1.9h0m246.5-105h0m-362.9 75.8h0m2.3-19.7h0m351-122.1h0m-71.4 166.8h0m79.7-111.6h0m3.9 11.6h0m-105.2 101h0m-258.9-9.5h0m348.6-195.2h0m-348.1 158.9h0m.7-10.6h0m353.9 44.7h0m-355.7-2.3h0m109.8 17.2h0m218.1-6.4h0m14.9-234.7h0m10.4 76.2h0m-155.1 163.3h0m71.9-2.7h0m-269.8-43.1h0m343.4-181.8h0m.6 5.1h0m23 138.4h0m-15.3-104.1h0m-352.6 157.7h0m347.4-189.8h0m-18.7 216.4h0m15.4-221.5h0m-108.1 224.5h0m129.8-101.5h0m-7.2-45.2h0m-12.8 139.4h0m-227 10.3h0m49.4-1.3h0m-169.5-24.1h0m361 5.2h0m8.3-40.7h0m-10.4-98.8h0m-57.9 154.7h0m-49.3 1.2h0m-251.5-20.9h0m178.9 23.4h0m173-10.9h0m11.9-117.5h0m-2.5 5.3h0m-6.6 111.5h0m-346.5-82.1h0m104.3 94.8h0m245-165.3h0m14 105.9h0m-174.8 57.9h0m-193.8-19.9h0m188.3 19.9h0m-189.6-21.5h0m2.7-41h0m236.5 60.7h0m-69 2.5h0m180.6-196.4h0m19.2 142.2h0m-369.3 9.4h0m341.4-203h0m11.1 234.3h0m11.6-26.8h0m-247 40.6h0m248.1-36.2h0m-12.6-154h0m-349.9 130.1h0m350.6-123.6h0m-354.7 150h0m350.1-177.6h0m-.2 200.1h0m7.4-150.4h0m-253.9 162.3h0m252.4-172h0m12 123.9h0m.8-34.1h0m-354.8-40.5h0m287 117.7h0m-301.3-11.7h0m9.7-88.1h0m355.6 73.9h0m2.8-57.3h0m-359.9-.8h0m167.2 87.6h0m-174.1-10.9h0m347-206.8h0m4.2 37.7h0m-351.7 148.1h0m345.3-196.4h0m-346.4 203.7h0m8.3-55.2h0m345-96.4h0m-82.3 173.3h0m-266.1-67.1h0m347.6-112.9h0m-348 176.9h0m-3.6-23.4h0m233.3 28h0m134-72.9h0m-9.2-80.5h0m-357.5 125.5h0m288 26.1h0m-288.9-42h0m4.4-23.1h0m361.6 35.2h0m-20.9-193.1h0m-202.7 227h0m-141.6-41.6h0m311.7 37h0m-308.2-57.5h0m325.6 56.8h0m28.5-151.6h0m-349.1 57.5h0m346.4 85.2h0m-97.5 10.3h0m-114.7 3.9h0m-143.4-38.3h0m197.4 36.4h0m156.2-185.2h0m-77.9 182.8h0m-276.1-29.4h0m370.3-11.8h0m-368.9 7.5h0m6.6-46.4h0m39.4 85.3h0m321.9-81.6h0m-365.8 23h0m4.7-27.8h0m-7.3 61.7h0m354.2-155.7h0m-1.1 167.9h0m-166.4 10.6h0m115.4-3.6h0m-106.3 3h0m-195.4-9.7h0m-1.5-24.9h0m300.2 31.1h0m46.6-220.9h0m-340.9 156.2h0m186.9 68.3h0m160.2-193.7h0m-7.6-34.2h0m-144.7 227.9h0m-198.6-44h0m347.1-159.7h0m-116.9 202.9h0m119.8-196.7h0m11 68.6h0m-6.1-17.2h0m-119.8 144.1h0m40.3 0h0m93.6-57.5h0m-10-62h0m-167.1 121.2h0m40.2-1.1h0m-231.6-40.9h0m367.1-35.4h0m-366.9 68.3h0m348.4-190.7h0m15 167.5h0m3.4-43.5h0m-363.6 5.3h0m-1.9 11.3h0m344.8-146.9h0m9.9 50.5h0m-358.8 143h0m286.9 10.3h0m-79.1 1.9h0m155.1-22.2h0m-16.9-198.8h0m-216.6 222.7h0m234-127.1h0m-362.5 100.2h0m203.4 25.7h0m135-6.8h0m4.5-237.6h0m3.1 236.8h0m-343.8-54.7h0m1.4 52.5h0m320.2 5.2h0m46-42.4h0m-2.3-39.8h0m-362.1 12.4h0m-2.3 16h0m-1.7 10.2h0m354-120.8h0m-91.5 166.7h0m-260.2-6.3h0m5.2-82.2h0m359.1 41.7h0m-369.4 17.4h0m356.4 18.6h0m-240.5 15.2h0m222.6-8.5h0m-193.9 7.4h0m-145-29.8h0m261.2 26.7h0m-260.7-34.3h0m331.7 32.4h0m17.9-207.7h0m-35.9 208.4h0m55-34.5h0m-234.7 38.9h0m-131.5-53.9h0m349.1-150h0m-352.6 175.4h0m364.3-81.7h0m-3.5-41.1h0m-353.9 80.1h0m360.7 31.6h0m-355.3 37.1h0m202.1 1.4h0m95.3-3.1h0m46.2-6.5h0m15.4-66.3h0m-25.1-163.9h0m-344 194.1h0m354.7-109.8h0m5.1 12.5h0m-4.3-30.2h0m-355.8 159.1h0m344.1-225.2h0m-108.5 237.7h0m127.8-100.4h0m-359 33h0m165.9 69.8h0m55.3-1.7h0m-225.4-18.5h0m360.7-116.3h0m-1.3 4.8h0m-352.8 53.6h0m351.3 61h0m-1 .8h0m-112.6 13.7h0m98.6-5.8h0m-8.1 1.7h0m26.9-17.6h0m-361.7-5.6h0m2.5-24.5h0m345.7-160.6h0m7.4 199.7h0m-352.3 3.6h0m11.6 11.2h0m-11.4-56.7h0m340.5-180.7h0m-58.3 234.8h0m79.8-104.3h0m-365.6 90.3h0m370.8-36.5h0m-8.8 26.5h0m8.4-23.1h0m-24.5-172.4h0m-1.3-10.2h0m-194 233.1h0m192.4-242.6h0m-341.9 193.4h0m360-68.2h0m-354.9 110.9h0m240.7 3.5h0m108.9-165.5h0m7.4 142.4h0m-365.1 5.7h0m356.9 6.6h0m-12.2-227.2h0m13.8 80.1h0m-10.3-58h0m21.3 128.6h0m2.8 41.8h0m-1.8-31.5h0m-365 19.6h0m362.1-42.1h0m-362 91.5h0m-5-9.2h0m273.9 16.8h0m-33.3 .5h0m110.4-7.7h0m3-182.8h0m-1.8-8.2h0m-337.2 200.3h0m223-1.2h0m-235.2-26.8h0m344.2 21.1h0m-339 4.3h0m346.5-185.4h0m-77.3 186.2h0m80.2-169h0m-89.6 168.8h0m88.8-179.8h0m-354.9 139.8h0m34.1 44.2h0m268.9-5.5h0m65.8-40.5h0m-143.7 43.5h0m-225.1-49.6h0m5 43.8h0m196.2 5.7h0m164.4-32.8h0m-16.5-178.3h0m12.8 190.9h0m-289.5 23.1h0m20.8 .1h0m-86.7-94.9h0m337.4-144.3h0m-2.8 230.2h0m-332.3-92.5h0m360.1 24.9h0m-70.7 70.8h0m48.9-207.6h0m-347.1 194h0m144.6 18.9h0m-19.9 .2h0m62.2-1.7h0m-184.8-37.8h0m4.8-40.5h0m-8 55h0m359.5-131.1h0m-359.5 138.3h0m254.6 14.5h0m9.8-1.1h0m102.6-30.4h0m-113 30.8h0m113.7-90.9h0m-120.7 91h0m119.6-83.4h0m-362.8 31.7h0m353.4-114.4h0m-147.2 168.2h0m69.6-3.1h0m-279.2-20.6h0m-2.5-3.6h0m370.5-61.8h0m-186.9 89.5h0m178.8-18.9h0m-14.3-205.8h0m16.9 113.8h0m8.4 59.9h0m-364.7-21.6h0m-5.7 41.2h0m11.6-80.6h0m299.4 108.1h0m29.2-1.6h0m-28 1.2h0m-135.9 4.6h0m-172.2-72.6h0m351.5-103.1h0m-7-39.9h0m-346.6 157.3h0m179.4 58.2h0m-178.9-64.9h0m359.1-67.6h0m-5.2-15.3h0m-1.8 135.8h0m-9.3-214.9h0m-342.3 169.7h0m1 49.7h0m109.6 8.6h0m237.7-198h0m14 90.9h0m-10-63.7h0m-65.6 165.8h0m-291.4-21.6h0m261.2 22.8h0m97.4-157.1h0m-222.3 160.5h0m210.2-224.6h0m-213.3 224.5h0m-127.1-67.3h0m-2.3 55.2h0m224.3 10.4h0m-105.9 1.8h0m3.7 .3h0m-122-15.7h0m-2.3-20.3h0m4.8-29.3h0m-6 31.5h0m354.4-158.6h0m-94.5 188.7h0m105.6-26.6h0m-87.4 26.2h0m-160.1 3.7h0m-108.5-89.8h0m301.6 85.4h0m-18 0h0m69.3-19.6h0m-351-71.9h0m201 94.6h0m-204.2-93.2h0m238.3 91.5h0m38.8-1.1h0m66-187.5h0m-350 160.3h0m358.8 15.2h0m-69.4 11.9h0m-290.6-33h0m-.5 16.8h0m3.4-40.4h0m368.7 6.6h0m-22.5 45.4h0m-345.1-5.8h0m359.4-8.2h0m5-68.4h0m-9.8 75.7h0m-356.6-8.9h0m347.7-189.9h0m-348.2 176.9h0m369.7-25.6h0m-10.5-64.8h0m-352.9 54.1h0m66.6 74.8h0m282-156.7h0m-353.9 135.8h0m1.5-34.4h0m-2.4 32.1h0m345.7 12.3h0m-344.2-2.6h0m353.9-164.3h0m-353.8 118.1h0m215.9 56.3h0m-213.8-62.7h0m-5.4 46.1h0m365.4-8h0m-8-148h0m-352.1 105.6h0m359.7 40.4h0m-354.2-70.3h0m337.9 90h0m3.3-195.3h0m12.3 178.4h0m-361.7 12.6h0m100.6 13.8h0m197.9-5.2h0m44.6-230.3h0m10.6 56.1h0m8.9 59.6h0m-358.3 46.2h0m-4.8 27.6h0m-1.3 2.9h0m365.5-65.8h0m-355.2 5.1h0m-3.1 19.1h0m-8.1 58.5h0m362.6-89.3h0m-359.9 89.1h0m343.4-198.2h0m-251.3 224.8h0m257.6-186.6h0m9.5 162.4h0m-14.5-202.3h0m14.3 82.5h0m-4.6 128.9h0m-3.5 3.5h0m-100.9 8.1h0m-191.6 3.8h0m271.1-7.7h0m-189.9 6.7h0m154.1-4.6h0m59.3-175.8h0m-6.7-37h0m-2.1-11.7h0m-159.5 228.3h0m-183-63.6h0m-5.7 34.9h0m371-28.4h0m-8-88.7h0m-83 143.2h0m80.3-155.1h0m-358.6 138.5h0m90.7 20.6h0m129.3-2.8h0m144.6-120h0m-3.4 0h0m-40.5 116.2h0m-320.7-17.9h0m1.5-6.6h0m-2.5 3.5h0m229.6 25.1h0m-110.5 2.8h0m251-56.6h0m-18.4 47h0m10-11.1h0m-356.2-33.8h0m-5.5 35.2h0m355.7-166.1h0m10.3 156.3h0m-364.8-4.2h0m4-25.4h0m5.8-41.4h0m351.5-40.5h0m-.6 121.3h0m-356.2-49.2h0m188.3 66.7h0m161.8-182.8h0m-50.4 180.3h0m-1.6-.3h0m44.3-4.6h0m-121 6.5h0m-170.1 2.3h0m-43.6-111.3h0m337.5-103.9h0m-228.6 215.3h0m-120.6-37.1h0m358.4 20.4h0m-2.9-139.4h0m-355.3 118.2h0m295.7 32.7h0m16.4-.2h0m37.5-207h0m-350.4 181.1h0m362.8 3.1h0m-2-99.7h0m-355.7 57.2h0m-2.6 18.1h0m1 3.8h0m-2.2 13.7h0m2.8-16.8h0m307 46.4h0m-61.1 1.2h0m-249.7-18.6h0m9.6-70.8h0m-8.4 80.8h0m361.6-118.6h0m-284.4 132.4h0m160.9-3.6h0m-145.7 3.2h0m270.4-105.2h0m-11.9-94.7h0m18.5 151h0m-208.3 47.9h0m-161.2-20.9h0m369.4-44.8h0m-154.3 63.7h0m135.5-199.9h0m6.1 185.2h0m1.7-133.2h0m-351.8 65.7h0m354.6-48.5h0m-362.5 92.6h0m345.8 31.7h0m13.1-128.8h0m5.8 107.6h0m2.9-66.9h0m-366.3 81.4h0m355.8 1.3h0m-.8-1.3h0m-228.7 15.3h0m223.3-190.1h0m9.4 44.9h0m-252.9 145.6h0m70.6-1.4h0m-172.2-4.5h0m238.9 2.6h0m-232.4-102.4h0m56.2 106.4h0m118.6-2h0m169.2-173.6h0m-3.1 162.4h0m-354.4-8.9h0m353.5-181.6h0m-227.2 203.1h0m246.2-50.5h0m-1.8-28.5h0m-5.3 43.2h0m-33.1 29.2h0m-328.5-12h0m27 18.5h0m-27.1-56.8h0m143.7 56.4h0m196.2-256.5h0m-338.4 195.8h0m355.3-95.7h0m1.8 11.6h0m-3.5 129.6h0m-71.3 11.7h0m-278-79.3h0m198.1 81.1h0m-200-66.7h0m204.8 66.2h0m148.2-15.2h0m-12.7 8.2h0m-64.7 5.2h0m-282.2-20.4h0m9.8-66.9h0m153.4 90.4h0m-161.8-17.2h0m2.2-47.7h0m1.4-2.5h0m8.2 66.4h0m-11.8-39.8h0m307.9 37.3h0m53.7-19.4h0m-12.6-188.6h0m-29.5 206.7h0m-108 3.3h0m-211.2-42.2h0m344.2-182h0m-344.9 211.4h0m4.7-56.2h0m166.6 70.5h0m190.5-22.2h0m-73.6 18.8h0m-286-45.3h0m349.6-148.3h0m-353 168.3h0m285.5 26h0m86.1-50.1h0m-25.4 45h0m-189.6 8.2h0m203.8-19.9h0m5.6-91.7h0m-90.2 108.8h0m94.8-69.3h0m-24.9-156.8h0m-159.4 228.3h0m157.7-246.1h0m.4 4.6h0m-114.4 240.3h0m92.1-3.6h0m-254.7 6.1h0m303.6-47.7h0m-9.8-76.3h0m-352.2 36.3h0m360.3 30.3h0m-11.5-114.7h0m4.3 34.7h0m-114.1 134h0m-77.9 2.4h0m159.8-5.2h0m-326-44h0m164 49.7h0m91.4-3.7h0m55.4-.7h0m-61 1h0m101.9-183.5h0m-130.9 185h0m142.5-40.8h0m-20.3-183.1h0m19.7 185.9h0m-.6 9.4h0m-189.1 30h0m-169.1-77.2h0m354.6-56.6h0m-308.3 134.9h0m270.9-6h0m40.9-88.3h0m-8.5-76.4h0m14 113.2h0m-118 54h0m44.8-1.1h0m45.7-245.1h0m-40.3 244.9h0m53.5-10.5h0m-7.7-198.7h0m14.4 84.8h0m-41.6 123.1h0m-319.6-37.2h0m346.3-176.9h0m-349 198h0m.1 .5h0m360.2 1.5h0m-358.2 9h0m-1.7-28.8h0m232.8 36.6h0m-91.5 3.4h0m142.2-4.4h0m-273-98.1h0m-10.3 66.3h0m290.2 31.7h0m61.1-184h0m-161.7 187.4h0m171.2-124.6h0m-175.4 124.5h0m-184.9-21.2h0m370-27.3h0m-367.1-13.3h0m366.7 17h0m-16.1-125.9h0m-.1-19.9h0m-353 150.3h0m368.8-2.4h0m-12.6 28.2h0m-78.4 11.7h0m-275.3-10.9h0m359.4-115.1h0m.4 .1h0m-26.3 123.6h0m29.4-98.6h0m-119.3 101.6h0m-246-31.4h0m342.9 25h0m12.8-167.2h0m-64.4 172.3h0m-103.1 3.3h0m97.5-3.1h0m-284.2-11.3h0m362.1-20.5h0m1.6-5.4h0m-362.6-25.5h0m-3.3 27.2h0m1.9 21.8h0m119.7 18.3h0m234.9-170.7h0m-354.6 110.9h0m-.5 7.1h0m347.9-159.9h0m20.6 139.1h0m-369.7 31.5h0m363.2-81.7h0m-4.3 105.2h0m-.3-137.6h0m-145.1 153.3h0m-89.9 2h0m235.7-130.2h0m8.1 41h0m-122.5 86.1h0m-81.6 2.9h0m132.6-4.7h0m-235.8 6h0m34.8-.2h0m186.2-4h0m88.5-40.7h0m-363.5-28.9h0m-5.7 48.9h0m1.7-30.5h0m172.7 54.1h0m182-14h0m.6-147.4h0m4.8 137.7h0m-360.4-12.3h0m196.2 35.4h0m-196.9-11.9h0m359-133.3h0m.2 1.2h0m-355.7 87.1h0m224.5 55.7h0m-222.4-77.2h0m357.7-34.7h0m-5.3-33.7h0m-103 143.8h0m-256.2-29.9h0m314.2 28.5h0m10.1-.7h0m-116.2 5h0m137.3-6.9h0m-14.2 1.4h0m24.7-6.6h0m-2.5-176.5h0m-352.3 136.9h0m-.7 11.3h0m241.1 39.1h0m-79.3 1.6h0m-18.8 1.2h0m85.5-3.4h0m127.5-172.6h0m-5.1-25.1h0m-347.4 193.9h0m-1.3-50.1h0m-2.6 17h0m-.2 15.4h0m362-1.8h0m-49.8 20.6h0m-188.3 5.7h0m228.8-178.5h0m-241.9 179.3h0m165.9-5h0m80.9-13.5h0m0-146.7h0m-314.4 165.3h0m94-.7h0m-3.3 0h0m-129.2-7.8h0m229.9 5.4h0m-13.6-.2h0m-212.1-94.1h0m342.5-106.1h0m-225.7 203.3h0m235.7-139.6h0m-10.8-52.1h0m17.4 151.2h0m-17.5-153.7h0m2.9 22h0m-9.3-65.3h0m-339.1 171.1h0m353.8-90.9h0m-358 107.6h0m335.4 41.4h0m13.4-3.1h0m-350.6-27.7h0m3.3-.2h0m307 33.5h0m46.6-172.2h0m-80.1 173.1h0m85-138h0m-120.1 139.6h0m-233-89.7h0m161.9 92.2h0m176.4-231.4h0m-345.9 206.1h0m363.4-98.3h0m1.8 27.1h0m-8-63.4h0m-218.3 159.9h0m-135.6-64.3h0m-2.4 50.3h0m6.1-62.8h0m-.1-3.4h0m359.4-4.9h0m-67.2 81.1h0m-144.9 4.2h0m206.7-22.7h0m4.7-68.4h0m-139.6 89.2h0m117.5-240h0m20.6 214.9h0m-20.1-206.7h0m-3.4 226.8h0m22.9-118h0m-16.2-87.7h0m-345.6 165.3h0m-.3 29.6h0m342.1-230.8h0m19.9 128.5h0m-359.4 108.5h0m341.3-221.9h0m-346.6 206h0m3-27.4h0m129.9 54.7h0m16.5-.4h0m-144.3-7.6h0m93.2 8.9h0m267.6-119.2h0m-117.6 115.1h0m-240-88.1h0m363.7 45h0m-17.1-143.3h0m-349.6 133.1h0m344.6-151.1h0m-348.5 170.8h0m356-115.8h0m-356.7 132.9h0m4.6 12.2h0m283.6 3h0m5.4 .2h0m-8.5 .2h0m61-218.2h0m-346.7 199.6h0m5.3-46.2h0m64.6 69.9h0m285.8-183h0m-12.6-71.8h0m-99 250.9h0m24.2-.9h0m-126.5 3.3h0m-140.6-31.6h0m8.1-63.3h0m-4 31.8h0m-.9 53.6h0m118.4 10.6h0m-122.6-39.2h0m7.8-43h0m351.9-54.8h0m5.9 98.8h0m-358-46.6h0m358.7 54.1h0m-366.1 10h0m220.9 18.6h0m-218.9-11.5h0m355.7-135.6h0m-355.4 130.4h0m282.4 14.2h0m-81.2 2.2h0m-201.8-11.2h0m361.2-12.4h0m-10.4 14.2h0m-243.2 11.6h0m253-22.5h0m.3-114.7h0m-.3-4.1h0m-46.8 136.3h0m39.6-163.1h0m-353.5 152.3h0m319.4 10.6h0m-45.3 1.3h0m-271.8-46.1h0m347.5-141h0m14.3 78.4h0m-102.5 108.8h0m107.6-43.2h0m-370.7 22.3h0m346.9-203.8h0m-344.5 211.5h0m6.3-73.2h0m189.2 87.8h0m-195.5-34.7h0m360.1 14.2h0m-67.7 18.4h0m-293.2-42.8h0m361.6-86.4h0" stroke="#dfdfdf"/><path d="m433.2 368.1h0m7.8-183.9h0m17.7 143.2h0m-21.5-159.6h0m21.5 154.6h0m-13-110.9h0m13.4 109.4h0m-14.5 42.2h0m1-148.6h0m7.8 131.4h0m-11.6-152.7h0m13.5 88.8h0m-11.8-68.7h0m-149.3 162h0m162.3-70.8h0m.2 24.7h0m-6.4-83.9h0m5.4 40.8h0m-11.9-84.7h0m-2.8-15.6h0m-4.3-29.6h0m5.9 39.7h0m3.8 164.1h0m2-127.8h0m-10.9 135.2h0m-5.7-237.9h0m2.6 23.8h0m-14.1 217.5h0m36.1-38.1h0m-4.7-64.5h0m-11.5-86.7h0m18.7 136.6h0m-1.1-6.7h0m-15.5-107.5h0m-229.2 173.3h0m97.1-2.1h0m140.4-130.2h0m4.6 91.4h0m-52 36.1h0m44.1-149.6h0m10 104.3h0m-1-40.2h0m-8.6 71.9h0m11-36.3h0m-14.7-120.5h0m-351.3 112.5h0m349.6 50.5h0m2.8-156.3h0m4.9 145.6h0m-157.6 21.2h0m161.2-98.6h0m-18.4-118.3h0m17.9 106.2h0m-.9-8h0m-1.9 .2h0m5.6 29h0m1.9 47.3h0m-368.5 11.6h0m365.8-5.2h0m1.8-3.5h0m-19.5 30.8h0m14.1-100.5h0m4.5 31.9h0m-27.7 71.3h0m26.5-28.9h0m-10.5-138.5h0m14.6 124.4h0m-205 49.9h0m-5.4-.1h0m197.1-162.4h0m-.7-6.1h0m7.9 54.7h0m-4.6-35.1h0m-2.9-3.7h0m-.1 .5h0m.1-9.7h0m-5.3-30.4h0m-5.9-31.5h0m8.8 43.6h0m1.6 6.9h0m2.2 157.3h0m-9.8-197.8h0m.6 .3h0m-.4 6.6h0m-.7-11h0m11.5 199.7h0m-2.6-144.9h0m-4.9-32.6h0m17.5 121.9h0m-13.2-81.3h0m-4.8-46.5h0m9.2 58.4h0m1.1 25.8h0m3.2 85.4h0m3.9-36.8h0m-2.9-32.4h0m-12.3-87h0m.8 24.6h0m-352.8 147.5h0m355.8-131.3h0m-357.4 132.6h0m350.7-189.3h0m17.1 127h0m-.2 34.2h0m-12.6-133.7h0m-355.2 152h0m348.2 16.3h0m18.4-81.5h0m-366 70.2h0m359.6-123.6h0m-1.5-8.7h0m.2-2.9h0m10.2 98.9h0m-14.6-111.2h0m15.2 123.2h0m-6.6 18.9h0m4.9-64.4h0m-13.1-84.5h0m-3.6 164.2h0m4.4-164.6h0m-160.4 173.9h0m150.8-8.2h0m18.1-95.9h0m5.6 31.9h0m-16.4-116.9h0m-15.5 182.6h0m16.3-177.6h0m14.5 115.4h0m-3.9 34.8h0m3-9.6h0m-14.2-132.2h0m-.5 165.9h0m4.1-154.9h0m12.1 89.2h0m1.2 20.5h0m-6.7-65.6h0m-18.3-106.8h0m23.3 170.9h0m2 4h0m-4.5-35.7h0m-1.8-25.7h0m4.5 64.7h0m-2.4 14.8h0m-5.6-105h0m0 4.3h0m.5-.7h0m1.7 9.6h0m-6.2-32h0m6 34.3h0m7.6 67.4h0m-20-146.1h0m-.2 7.4h0m12.4 170.6h0m-2.8-104.2h0m-24.7 123.3h0m27.5-120.5h0m-6.3-28.5h0m-8.8-59.5h0m20.4 136.7h0m-8-65.7h0m8.8 90.9h0m-11.7-113.3h0m10.5 72.8h0m-16.4-96.6h0m-5.1 180.6h0m-345-27.5h0m354.3-139.1h0m13.5 115.2h0m-367.8 43.7h0m369.4-32.8h0m-30.7 42.4h0m11.2-190.6h0m-351.5 167.5h0m368-50.7h0m-9.3-61.5h0m-356.1 91.4h0m261.3 47.9h0m105.2-78.5h0m-124.4 79.5h0m113.6-155.5h0m5.9 40.8h0m-12.3-82.4h0m-3.1-10.9h0m15.5 91.5h0m6.7 58.5h0m-24.4-162.6h0m5.7 23.4h0m3.8 38.5h0m7.2 38.3h0m-12.6-84.3h0m-49.9 202.9h0m45.1-222.1h0m-345.8 206.6h0m356.8-149.4h0m3 21.4h0m10.2 75.6h0m.2-.6h0m-2.5-6.8h0m-203.2 79.3h0m186.9-189h0m15.5 91.4h0m-17.5-111.4h0m-108.9 207h0m94.2-3.9h0m-47 2.1h0m51.1-2.8h0m15.5-179.6h0m-1.3 3.5h0m12.3 71.7h0m-2-17.3h0m4.5 38.9h0m-11.3-68.7h0m10.5 69.5h0m-20.3-134h0m-3.5 215.1h0m26.7-67.7h0m0 0h0m-364 5.4h0m364.6 20.9h0m-116.8 45.8h0m-94.8 3.3h0m-155.4-9.2h0m351.2-3.1h0m15.8-56h0m-23.6-151.1h0m16.1 195.8h0m-27.6 17.4h0m13.1-207.3h0m8.7 55.3h0m3.4 139.3h0m-5-159.4h0m-355.8 158.4h0m347.7-197.3h0m-22.9 211.3h0m39.7-98.8h0m-363.4 69.6h0m329.5 29.1h0m17.8-3.9h0m3.9-179.3h0m-.2 178.9h0m8.1-125.8h0m-4.6-43h0m8.3 60.7h0m-117.9 115.5h0m6.9-.1h0m98-200.5h0m17.3 113.3h0m-22 81.6h0m17.8-20.6h0m-4.2-121.1h0m4.6 122.3h0m-361.6-21h0m364.5 11.5h0m-12.1-145h0m-5-22.1h0m-192.5 204.4h0m50.7-1.1h0m159.3-40.2h0m-4.7-72.7h0m-21.2 106.7h0m27.9-45.5h0m-1.7-39h0m-2.3 60.6h0m-13.7-162.5h0m11.7 73.4h0m1.5 19.7h0m4.3 49.1h0m.6 4.7h0m-7.7-86.5h0m-9.5-50.4h0m6.9 46.7h0m-6.3-56.4h0m-5.7-23.4h0m-113.1 214.4h0m125.5-144.4h0m-1.9-.8h0m10 107.5h0m-15.1-150.7h0m-2-12.5h0m.6 14.5h0m-153.6 188.1h0m163.9-21.1h0m-22.7 15.3h0m28.2-93.2h0m-11.1-74.4h0m13.3 96h0m-368.2 55.9h0m344.1-206.5h0m5.3 25.7h0m11.2 181.4h0m-6.1-150.7h0m-6 163.5h0m3.6-168.9h0m-143.3 176.6h0m147.9-143.3h0m4.1 10.3h0m1.8 25.9h0m-143.4 106.7h0m144-28.4h0m-.1-73.4h0m-13.9 93.3h0m-99.1 7.1h0m119.2-44.5h0m-105.4 43.7h0m99.2-24.7h0m-12.2 18.6h0m-4.1-202.5h0m16.2 107.8h0m-14-94.1h0m-2.4-18.1h0m20.7 175.6h0m-15.8-139.6h0m12.1 81.4h0m-16-112.3h0m7.9 47.1h0m-77.6 161.1h0m74.9-170.3h0m.9-5.4h0m7.7 50.2h0m4.8 44.4h0m-8.8-68.2h0m3.4 17.9h0m-4.5-16.8h0m-6.8-41h0m-68.9 188.9h0m-126.5 3.8h0m51.1-1.1h0m138.9-229.9h0m1.6 6.7h0m-73.8 221h0m76.7-196.7h0m19.5 124.4h0m-44.9 70.4h0m38.4-109.3h0m6.3 62.1h0m-13.4-107.8h0m.8-11.7h0m2.9 22.9h0m2.5 15.8h0m3.9 27.5h0m-18.2-110.8h0m-69.9 213.2h0m75.7-183.7h0m13 97.9h0m4.2 28.9h0m-5.3 23.2h0m-9.9-137.5h0m-19.3 168.4h0m33.2-50.8h0m-166.6 55.7h0m156.4-144.5h0m8.2 65.1h0m-19.3-135.8h0m15.4 96.5h0m-37.1 114.4h0m44.3-54.3h0m.1-.1h0m-1.6 2.1h0m-1.4-33.9h0m-5.6-40.3h0m-10.5-66.3h0m-4.7-21.4h0m19.1 126.7h0m-5.1-49.9h0m-3.7-23.5h0m8.1 131h0m-25.9 27.8h0m21.3-120.5h0m-358.9 114.9h0m355.1-149.3h0m11.6 122.8h0m-9.6-109.9h0m10.5 107.6h0m-18.1-153.9h0m-1.9-16h0m-17.3 205.8h0m-19 1.3h0m33.2-221.5h0m-8.3 219.6h0m18.4-161.3h0m-.1 .7h0m-7.6-48.6h0m12.8 194.8h0m-5-146.2h0m9.7 62.6h0m-10.9-58h0m14.4 84.4h0m-2.5-3.3h0m-13.9-95.8h0m-152.5 176.4h0m156.2-160.4h0m-4.4-22.4h0m15.2 93.8h0m1.3 9.8h0m-.3 11.3h0m-10-70.3h0m-8.9-64.6h0m-347.5 189.1h0m364.2-21.1h0m-6.2-92.6h0m4.4 95.8h0m4.8-37.6h0m-123.1 67.2h0m121.3-76.4h0m-32.8 73h0m29.2-23.4h0m-15.7-182.2h0m5.6 37h0m8.9 149.1h0m-7.1-150.6h0m12.3 103.2h0m-20 64.1h0m.2-202.3h0m9.8 59.4h0m-158.5 151.5h0m157.2-163.7h0m-350.1 158.1h0m356.3-108.6h0m1.9 2.4h0m.9 78.7h0m-3.3-95.7h0m-13.9-88h0m-9.8 210.1h0m14.4-171.5h0m-5.7-35.8h0m5.3 33.4h0" stroke="#e7e7e7"/><path d="m445.3 217.3h0m-3-22.5h0m-1.7-9.2h0m-4.8-25.4h0m7.4 46.4h0m9.4 59.8h0m-5.4-31.2h0m4.5 27.4h0m2.9 77.8h0m-3-75.3h0m6.5 59.7h0m-17.4-137.9h0m7.2 51.4h0m1.1-.7h0m5.9 42.3h0m-6.1-42.7h0m-4.4-26.6h0m4.9 30.6h0m4.6 38.6h0m1.7 7.3h0m-4.4-27h0m3.8 23.4h0m-2.8-21.7h0m-7.5-50.6h0m-1.4-8.6h0m11.9 82.2h0m-16.8-112.7h0m15.6 100h0m-.3 70.1h0m-23.5 27.2h0m16-148.3h0m7.9 119h0m4-30h0m-18.7-126.1h0m4.4 31.5h0m-1.4-7.9h0m3.1 10.9h0m9.7 119.9h0m-11.4-124h0m10.6 62.8h0m4.3 45.8h0m-19.8-145.9h0m3 21.4h0m11.1 69.7h0m-3.8-30.9h0m6.3 49.1h0m2.6 23.4h0m-.8-6.7h0m-13-94.3h0m-.9 1h0m11.2 69.6h0m-11.9-80.1h0m4.7 34.8h0m1.9 15.1h0m-1.9-14.2h0m-1.7-11.6h0m12.2 101h0m-12.5-105.3h0m5.7 39h0m6.1 67.7h0m-7.5-73.6h0m-2.8-26.3h0m3.1 25.8h0m-11.1-73.8h0m10.8 67.7h0m.9 14.3h0m-3-23.9h0m1.7 7.5h0m-10.1-68h0m7 53.3h0m-9.1-64h0m20.6 145.9h0m-9.2-74.7h0m-3.6-17.6h0m-.8-8.1h0m13.9 121.1h0m-16.9-138.7h0m-2-13.2h0m15.8 103h0m-3.6-30h0m2.8 24.3h0m4.7 41.6h0m-5-38.6h0m-9.7-69.9h0m-12.4 159.1h0m8.8-177.9h0m17.7 132.9h0m-11-92.7h0m2.6 23.8h0m-15.1-101.3h0m18.3 113.4h0m-11.4-76.1h0m5.3 42.5h0m11.1 92.6h0m-18.2-141.1h0m2.2 15.1h0m15.2 132.2h0m-9.4-102.4h0m4.3 33.7h0m.5-1.3h0m-16.2-99.2h0m20.4 130.4h0m-18.7-121.4h0m-1-7.5h0m6.4 42.2h0m-1-10.4h0m12.9 140.1h0m2.7-21.1h0m-9.7-72.9h0m3.8 104.7h0m2.6-8.6h0m-10.8-128.4h0m7.4 46.9h0m5.4 76.4h0m-6.1-74.2h0m6.7 74.6h0m1.2-7.5h0m-.6-14.8h0m-1.6-17.9h0m-2.7 47.9h0m-7.8-117.3h0m5.9 124.3h0m-11.3-164h0m3.7 29.9h0m11.2 70.1h0m1.9 46.3h0m-17.1-147.3h0m14.4 100.3h0m-3.9-30h0m1.1 94h0m-13-171.1h0m19.5 152h0m-8.8-86h0m-4-16.9h0m3.3 15.5h0m8.3 64.1h0m-18.6-130.6h0m18.6 132.1h0m-14.1-106.6h0m13.3 91.7h0m.9 17.4h0m-20-145.1h0m17.3 117.9h0m2.3 48.8h0m2-5.8h0m-1.2-22.9h0m-7.1-56.1h0m7.7 82.5h0m-.6-8.3h0m-12.3-102.7h0m6.9 49.2h0m-2.8-20.4h0m-6.5-42.2h0m-.5-4.8h0m1.3 11.9h0m.8 8.4h0m5.3 28.2h0m3.9 25.3h0m-14.3-91.3h0m-.1-1.6h0m9.1 60.9h0m4.4 23.5h0m-4.4-28.6h0m3.6 22.9h0m1.1 13.7h0m3.7 31.3h0m-11.6-84.5h0m8.4 51.3h0m-16.4-103.8h0m17.3 172.5h0m-1.4-66h0m2 65.5h0m-12.6-141.3h0m16.3 126.3h0m-12.8-100h0m7.7 49.4h0m-14.5-93.2h0m11 68.5h0m3.6 22.7h0m.6 4.1h0m.8 8.5h0m-7-41.6h0m-5.1-40.5h0m3.5 28.1h0m6.6 112.4h0m-1.3-76.3h0m4.5 30.1h0m-7.3-46.8h0m8.4 55.8h0m-18.2-123.5h0m19 138.7h0m-1.1-4.7h0m-3.3 27h0m2.4-49.7h0m1.4 36.4h0m-5 16.6h0m-7.3-121.9h0m7.2 40.7h0m-10.2-64.4h0m14.4 103.9h0m-13.6-101.2h0m6.2 36.9h0m-7.7-47.4h0m9.9 70.1h0m5.8 39.2h0m-.4 3.7h0m-14.3-109.7h0m12.1 89.7h0m3.4 24.3h0m-12-81.3h0m11.6 89h0m-8.4-71.7h0m7.2 86.3h0m-12.3-115.1h0m13.9 112h0m-2.4-39.4h0m-12.4-88.3h0m11.8 87.9h0m-9-60.8h0m2.6 16.2h0m-3.3-28.9h0m3.5 31.1h0m-10.3-70.5h0m16.5 161.1h0m-4.8-89.2h0m6.4 49.7h0m-1-7.4h0m1.7 26.9h0m-4.6 25.3h0m-2.1-90.5h0m7 58.6h0m-4.6 30.6h0m4.3-16.2h0m-3-44.9h0m-8-55.7h0m2.3 20.3h0m5.9 33.3h0m-12.1-80.1h0m12.2 80.9h0m-9.6-60h0m1.6 12.9h0m3.6 22.6h0m-8.7-62h0m9.6 157.2h0m-7.7-139.8h0m11.7 127.1h0m-6.1-99.2h0m5.7 50.9h0m-12.7-86.7h0m14.9 129.9h0m.8-8h0m-1.7-27.6h0m-9.3-68.4h0m6.2 42.9h0m-13.1-85.5h0m16.8 115.9h0m1.7 16.4h0m-5.6-46.7h0m-10.4-72.2h0m2.5 13h0m-5.9-39.1h0m7.7 54.2h0m5.4 41.2h0m-14.9-100.8h0m9.3 66.1h0m.2-7.3h0m2.7 15h0m3.6 29.6h0m1.5 7h0" stroke="#efefef"/><path d="m449.5 244.5h0m.3 7h0m4.3 23.6h0m-6.5-39.4h0m5.3 35.5h0m-4.3-30.7h0m5.7 38.5h0m-5.1-35.2h0m7.5 56.3h0m-15.1-107.7h0m8.4 58.3h0m-1.6-12.9h0m-.1-2.5h0m5.7 41h0m-2.6-16.5h0m6.7 61.7h0m-8.2-71.9h0m-.3-1.5h0m-5.1-37.1h0m11.2 80.5h0m-17.6-120.5h0m15.6 101.5h0m-3-15.6h0m-6.5-44.3h0m7 45.5h0m1.5 6.8h0m-1.3-6.4h0m4.3 32.4h0m1.6 11.1h0m-14.8-104.2h0m14.8 132.9h0m-.1-25.4h0m-13.7-96.1h0m-1-10h0m4.4 32.9h0m6.5 42.2h0m-1.3-10.2h0m-4.3-29.9h0m1.9 11.1h0m8.1 63.8h0m-1.8-17h0m-1.3-8.9h0m-2.5-17.9h0m5.2 39.6h0m.2 9.1h0m-6.8-57.4h0m-3.8-25.4h0m-.8-1.7h0m11.8 98h0m-3.5-47.9h0m-3.2-18.6h0m-1.6-15.1h0m-11-69.5h0m13.3 89.9h0m-2.8-22.8h0m.1 1.2h0m6.8 50.3h0m-15.4-104.4h0m17.2 124.4h0m-2.9-30.9h0m2.9 32.1h0m-5.7-50.1h0m-2.2-18.9h0m7.6 81.2h0m-10.1-92.6h0m8.3 58.2h0m-.3-6.2h0m-16.6-108.9h0m16.5 109.6h0m-.4-2.1h0m-2.3-17.7h0m5.6 53.7h0m-9.5-81.3h0m9 82.8h0m.4-11.2h0m-2.8-27.1h0m-9-58.7h0m8.3 111.5h0m-11.1-131.4h0m5.7 39.5h0" stroke="#f7f7f7"/></g>
<path d="M91.5 364 L90.8 368 L91.2 373 L92.6 377 L96 379.6 L102 380.3 L115 380.4 L132 380.2 L150 379.7 L170 378.6 L184 377.7 L200 377 L220 376.3 L240 375.5 L300 374.1 L360 372.5 L400 371.4 L425 370.4 L432 370.3 L437 370.8 L442 372.3 L446.5 375.3 L450.5 380 L453.8 386 L456 391 L457 396 L457.3 400 L458.5 404 L458.6 418 L457.9 421.6 L455.6 423.5 L453.2 421.8" fill="none" stroke="#ffff00" stroke-width="4.8" stroke-linecap="round" stroke-linejoin="round"/>
<path d="M89.6 363.5 Q91.5 360.5 93.3 363.5 L96 369 L98 373 L95 378 L89.6 376 Z" fill="#ffff00"/>
<path d="M92.6 385 L92.2 382 L92.6 378.5 L94.5 375.6 L98 374 L104 373.6 L113 373.7 L130 375.3 L156 377 L180 378 L210 378.7 L240 379.5 L300 380.5 L360 381.5 L400 383.3 L430 384.4 L447 384.6 L451.3 384 L454.9 381.5 L456.5 377.6 L456.7 370 L456 360 L454.4 351" fill="none" stroke="#6495ed" stroke-width="4.8" stroke-linecap="round" stroke-linejoin="round"/>
<circle cx="455.3" cy="390" r="3.2" fill="#ff4500"/>
<circle cx="458" cy="389.1" r="3.2" fill="#ff4500"/>
<circle cx="461" cy="390.9" r="3.2" fill="#ff4500"/>
<circle cx="457.5" cy="331.3" r="2.55" fill="#ff0000" stroke="#000" stroke-width="1.45"/>
</g>
<rect x="62.5" y="35.5" width="420.0" height="407.0" fill="none" stroke="#000" stroke-width="1.11"/>
<line x1="83.5" y1="442.5" x2="83.5" y2="447.5" stroke="#000" stroke-width="1.11"/>
<text x="82.50" y="462.77" font-size="13.89" letter-spacing="-0.3" text-anchor="middle">100</text>
<line x1="142.5" y1="442.5" x2="142.5" y2="447.5" stroke="#000" stroke-width="1.11"/>
<text x="141.38" y="463.27" font-size="13.89" letter-spacing="-0.3" text-anchor="middle">75</text>
<line x1="200.5" y1="442.5" x2="200.5" y2="447.5" stroke="#000" stroke-width="1.11"/>
<text x="198.75" y="462.77" font-size="13.89" letter-spacing="-0.3" text-anchor="middle">50</text>
<line x1="258.5" y1="442.5" x2="258.5" y2="447.5" stroke="#000" stroke-width="1.11"/>
<text x="258.62" y="462.77" font-size="13.89" letter-spacing="-0.3" text-anchor="middle">25</text>
<line x1="317.5" y1="442.5" x2="317.5" y2="447.5" stroke="#000" stroke-width="1.11"/>
<text x="317.00" y="462.77" font-size="13.89" letter-spacing="-0.3" text-anchor="middle">0</text>
<line x1="375.5" y1="442.5" x2="375.5" y2="447.5" stroke="#000" stroke-width="1.11"/>
<text x="374.88" y="462.77" font-size="13.89" letter-spacing="-0.3" text-anchor="middle">−25</text>
<line x1="434.5" y1="442.5" x2="434.5" y2="447.5" stroke="#000" stroke-width="1.11"/>
<text x="433.75" y="462.77" font-size="13.89" letter-spacing="-0.3" text-anchor="middle">−50</text>
<line x1="57.5" y1="428.5" x2="62.5" y2="428.5" stroke="#000" stroke-width="1.11"/>
<text x="52.28" y="432.80" font-size="13.89" letter-spacing="-0.3" text-anchor="end">0</text>
<line x1="57.5" y1="381.5" x2="62.5" y2="381.5" stroke="#000" stroke-width="1.11"/>
<text x="52.28" y="386.96" font-size="13.89" letter-spacing="-0.3" text-anchor="end">5</text>
<line x1="57.5" y1="335.5" x2="62.5" y2="335.5" stroke="#000" stroke-width="1.11"/>
<text x="51.78" y="339.62" font-size="13.89" letter-spacing="-0.3" text-anchor="end">10</text>
<line x1="57.5" y1="289.5" x2="62.5" y2="289.5" stroke="#000" stroke-width="1.11"/>
<text x="51.78" y="293.79" font-size="13.89" letter-spacing="-0.3" text-anchor="end">15</text>
<line x1="57.5" y1="242.5" x2="62.5" y2="242.5" stroke="#000" stroke-width="1.11"/>
<text x="52.28" y="247.95" font-size="13.89" letter-spacing="-0.3" text-anchor="end">20</text>
<line x1="57.5" y1="196.5" x2="62.5" y2="196.5" stroke="#000" stroke-width="1.11"/>
<text x="52.28" y="200.61" font-size="13.89" letter-spacing="-0.3" text-anchor="end">25</text>
<line x1="57.5" y1="149.5" x2="62.5" y2="149.5" stroke="#000" stroke-width="1.11"/>
<text x="51.28" y="154.78" font-size="13.89" letter-spacing="-0.3" text-anchor="end">30</text>
<line x1="57.5" y1="103.5" x2="62.5" y2="103.5" stroke="#000" stroke-width="1.11"/>
<text x="51.78" y="108.94" font-size="13.89" letter-spacing="-0.3" text-anchor="end">35</text>
<line x1="57.5" y1="57.5" x2="62.5" y2="57.5" stroke="#000" stroke-width="1.11"/>
<text x="51.28" y="62.10" font-size="13.89" letter-spacing="-0.3" text-anchor="end">40</text>
<text x="272.00" y="26.20" font-size="16.67" text-anchor="middle">NGC4590 - PI</text>
<text x="272.50" y="482.00" font-size="13.89" text-anchor="middle">Longitude (deg)</text>
<text transform="translate(25.00,239.50) rotate(-90)" font-size="13.89" text-anchor="middle">D (kpc)</text>
<rect x="69.5" y="42.5" width="116" height="66.3" rx="2.8" ry="2.8" fill="#fff" fill-opacity="0.8" stroke="#ccc" stroke-width="1.11"/>
<circle cx="88.5" cy="55.40" r="8.6" fill="#ff4500"/>
<text x="114" y="59.20" font-size="13.89" letter-spacing="-0.12">M68-I21</text>
<circle cx="88.5" cy="76.40" r="8.6" fill="#ffff00"/>
<text x="114" y="80.20" font-size="13.89" letter-spacing="-0.12">Fjorm-I21</text>
<circle cx="88.5" cy="97.40" r="8.6" fill="#6495ed"/>
<text x="114" y="101.20" font-size="13.89" letter-spacing="-0.12">M68-P19</text>
<rect x="497.5" y="35.5" width="17.0" height="407.0" fill="url(#cb)" stroke="#000" stroke-width="1.11"/>
<line x1="514.5" y1="35.5" x2="519.5" y2="35.5" stroke="#000" stroke-width="1.11"/>
<text x="525.10" y="41.50" font-size="13.89" letter-spacing="-0.4">10<tspan dx="-0.2" dy="-4.5" font-size="9.72" letter-spacing="-0.2">0</tspan></text>
<line x1="514.5" y1="106.5" x2="517.5" y2="106.5" stroke="#000" stroke-width="0.83"/>
<line x1="514.5" y1="88.5" x2="517.5" y2="88.5" stroke="#000" stroke-width="0.83"/>
<line x1="514.5" y1="75.5" x2="517.5" y2="75.5" stroke="#000" stroke-width="0.83"/>
<line x1="514.5" y1="66.5" x2="517.5" y2="66.5" stroke="#000" stroke-width="0.83"/>
<line x1="514.5" y1="58.5" x2="517.5" y2="58.5" stroke="#000" stroke-width="0.83"/>
<line x1="514.5" y1="51.5" x2="517.5" y2="51.5" stroke="#000" stroke-width="0.83"/>
<line x1="514.5" y1="45.5" x2="517.5" y2="45.5" stroke="#000" stroke-width="0.83"/>
<line x1="514.5" y1="40.5" x2="517.5" y2="40.5" stroke="#000" stroke-width="0.83"/>
<line x1="514.5" y1="137.5" x2="519.5" y2="137.5" stroke="#000" stroke-width="1.11"/>
<text x="525.10" y="143.75" font-size="13.89" letter-spacing="-0.4">10<tspan dx="-0.2" dy="-4.5" font-size="9.72" letter-spacing="-0.2">−1</tspan></text>
<line x1="514.5" y1="208.5" x2="517.5" y2="208.5" stroke="#000" stroke-width="0.83"/>
<line x1="514.5" y1="190.5" x2="517.5" y2="190.5" stroke="#000" stroke-width="0.83"/>
<line x1="514.5" y1="177.5" x2="517.5" y2="177.5" stroke="#000" stroke-width="0.83"/>
<line x1="514.5" y1="167.5" x2="517.5" y2="167.5" stroke="#000" stroke-width="0.83"/>
<line x1="514.5" y1="159.5" x2="517.5" y2="159.5" stroke="#000" stroke-width="0.83"/>
<line x1="514.5" y1="153.5" x2="517.5" y2="153.5" stroke="#000" stroke-width="0.83"/>
<line x1="514.5" y1="147.5" x2="517.5" y2="147.5" stroke="#000" stroke-width="0.83"/>
<line x1="514.5" y1="141.5" x2="517.5" y2="141.5" stroke="#000" stroke-width="0.83"/>
<line x1="514.5" y1="239.5" x2="519.5" y2="239.5" stroke="#000" stroke-width="1.11"/>
<text x="525.10" y="244.50" font-size="13.89" letter-spacing="-0.4">10<tspan dx="-0.2" dy="-4.5" font-size="9.72" letter-spacing="-0.2">−2</tspan></text>
<line x1="514.5" y1="310.5" x2="517.5" y2="310.5" stroke="#000" stroke-width="0.83"/>
<line x1="514.5" y1="292.5" x2="517.5" y2="292.5" stroke="#000" stroke-width="0.83"/>
<line x1="514.5" y1="279.5" x2="517.5" y2="279.5" stroke="#000" stroke-width="0.83"/>
<line x1="514.5" y1="269.5" x2="517.5" y2="269.5" stroke="#000" stroke-width="0.83"/>
<line x1="514.5" y1="261.5" x2="517.5" y2="261.5" stroke="#000" stroke-width="0.83"/>
<line x1="514.5" y1="254.5" x2="517.5" y2="254.5" stroke="#000" stroke-width="0.83"/>
<line x1="514.5" y1="248.5" x2="517.5" y2="248.5" stroke="#000" stroke-width="0.83"/>
<line x1="514.5" y1="243.5" x2="517.5" y2="243.5" stroke="#000" stroke-width="0.83"/>
<line x1="514.5" y1="340.5" x2="519.5" y2="340.5" stroke="#000" stroke-width="1.11"/>
<text x="525.10" y="346.75" font-size="13.89" letter-spacing="-0.4">10<tspan dx="-0.2" dy="-4.5" font-size="9.72" letter-spacing="-0.2">−3</tspan></text>
<line x1="514.5" y1="411.5" x2="517.5" y2="411.5" stroke="#000" stroke-width="0.83"/>
<line x1="514.5" y1="393.5" x2="517.5" y2="393.5" stroke="#000" stroke-width="0.83"/>
<line x1="514.5" y1="381.5" x2="517.5" y2="381.5" stroke="#000" stroke-width="0.83"/>
<line x1="514.5" y1="371.5" x2="517.5" y2="371.5" stroke="#000" stroke-width="0.83"/>
<line x1="514.5" y1="363.5" x2="517.5" y2="363.5" stroke="#000" stroke-width="0.83"/>
<line x1="514.5" y1="356.5" x2="517.5" y2="356.5" stroke="#000" stroke-width="0.83"/>
<line x1="514.5" y1="350.5" x2="517.5" y2="350.5" stroke="#000" stroke-width="0.83"/>
<line x1="514.5" y1="345.5" x2="517.5" y2="345.5" stroke="#000" stroke-width="0.83"/>
<line x1="514.5" y1="442.5" x2="519.5" y2="442.5" stroke="#000" stroke-width="1.11"/>
<text x="525.10" y="448.50" font-size="13.89" letter-spacing="-0.4">10<tspan dx="-0.2" dy="-4.5" font-size="9.72" letter-spacing="-0.2">−4</tspan></text>
<text transform="translate(573.00,238.00) rotate(90)" font-size="13.89" text-anchor="middle" style="font-family:'DejaVu Math TeX Gyre','DejaVu Serif',serif;font-style:italic">𝒫</text>
</svg></body></html>
